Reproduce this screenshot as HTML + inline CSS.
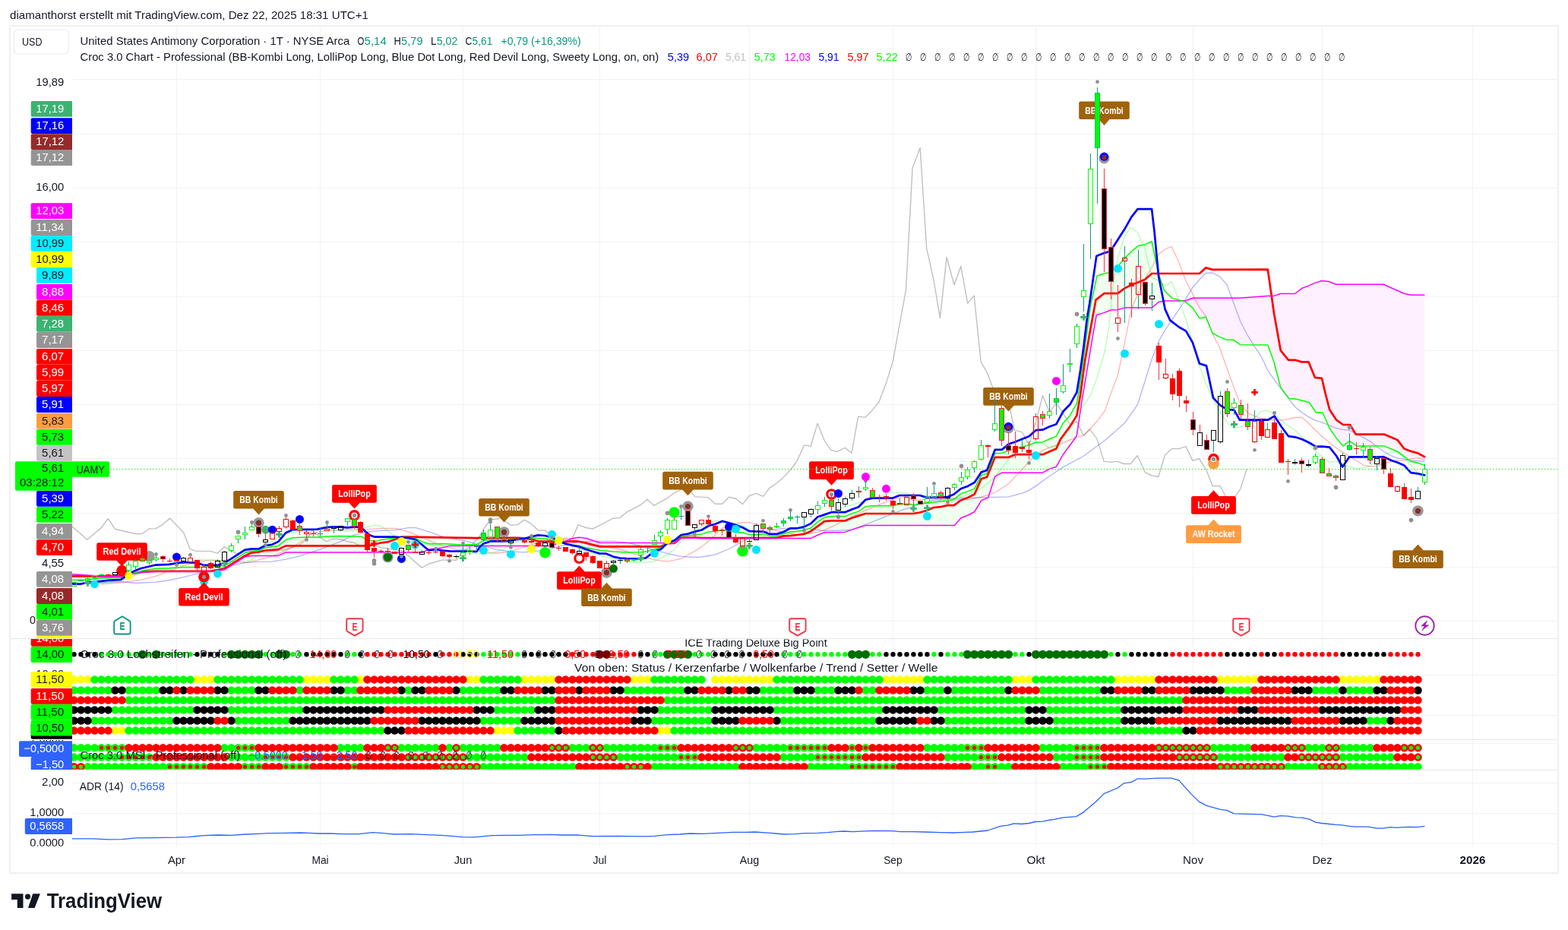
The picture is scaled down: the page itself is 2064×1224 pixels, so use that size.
<!DOCTYPE html>
<html lang="de"><head><meta charset="utf-8"><title>UAMY Chart</title>
<style>
html,body{margin:0;padding:0;background:#fff;}
body{width:2064px;height:1224px;overflow:hidden;font-family:'Liberation Sans', sans-serif;}
svg{display:block;font-family:'Liberation Sans', sans-serif;}
</style></head><body>
<svg width="2064" height="1224" viewBox="0 0 2064 1224">
<rect x="0" y="0" width="2064" height="1224" fill="#ffffff"/>
<rect x="13" y="34" width="2038" height="1115" fill="#ffffff" stroke="#f0f0f0" stroke-width="2"/>
<line x1="232.5" y1="35" x2="232.5" y2="1114" stroke="#f2f2f3" stroke-width="1"/>
<line x1="421.5" y1="35" x2="421.5" y2="1114" stroke="#f2f2f3" stroke-width="1"/>
<line x1="609.5" y1="35" x2="609.5" y2="1114" stroke="#f2f2f3" stroke-width="1"/>
<line x1="789.5" y1="35" x2="789.5" y2="1114" stroke="#f2f2f3" stroke-width="1"/>
<line x1="986.5" y1="35" x2="986.5" y2="1114" stroke="#f2f2f3" stroke-width="1"/>
<line x1="1175.5" y1="35" x2="1175.5" y2="1114" stroke="#f2f2f3" stroke-width="1"/>
<line x1="1363.5" y1="35" x2="1363.5" y2="1114" stroke="#f2f2f3" stroke-width="1"/>
<line x1="1570.5" y1="35" x2="1570.5" y2="1114" stroke="#f2f2f3" stroke-width="1"/>
<line x1="1740.5" y1="35" x2="1740.5" y2="1114" stroke="#f2f2f3" stroke-width="1"/>
<line x1="1938.5" y1="35" x2="1938.5" y2="1114" stroke="#f2f2f3" stroke-width="1"/>
<line x1="95" y1="104.5" x2="2050" y2="104.5" stroke="#f2f2f3" stroke-width="1"/>
<line x1="95" y1="176.5" x2="2050" y2="176.5" stroke="#f2f2f3" stroke-width="1"/>
<line x1="95" y1="247.5" x2="2050" y2="247.5" stroke="#f2f2f3" stroke-width="1"/>
<line x1="95" y1="318.5" x2="2050" y2="318.5" stroke="#f2f2f3" stroke-width="1"/>
<line x1="95" y1="390.5" x2="2050" y2="390.5" stroke="#f2f2f3" stroke-width="1"/>
<line x1="95" y1="461.5" x2="2050" y2="461.5" stroke="#f2f2f3" stroke-width="1"/>
<line x1="95" y1="532.5" x2="2050" y2="532.5" stroke="#f2f2f3" stroke-width="1"/>
<line x1="95" y1="603.5" x2="2050" y2="603.5" stroke="#f2f2f3" stroke-width="1"/>
<line x1="95" y1="675.5" x2="2050" y2="675.5" stroke="#f2f2f3" stroke-width="1"/>
<line x1="95" y1="746.5" x2="2050" y2="746.5" stroke="#f2f2f3" stroke-width="1"/>
<line x1="95" y1="817.5" x2="2050" y2="817.5" stroke="#f2f2f3" stroke-width="1"/>
<line x1="14" y1="840.5" x2="2050" y2="840.5" stroke="#e8e8e8" stroke-width="1"/>
<line x1="14" y1="973.5" x2="2050" y2="973.5" stroke="#e8e8e8" stroke-width="1"/>
<line x1="14" y1="1013.5" x2="2050" y2="1013.5" stroke="#e8e8e8" stroke-width="1"/>
<line x1="95" y1="888.5" x2="2050" y2="888.5" stroke="#f2f2f3" stroke-width="1"/>
<line x1="95" y1="941.5" x2="2050" y2="941.5" stroke="#f2f2f3" stroke-width="1"/>
<line x1="95" y1="978.5" x2="2050" y2="978.5" stroke="#f2f2f3" stroke-width="1"/>
<line x1="95" y1="1030.5" x2="2050" y2="1030.5" stroke="#f2f2f3" stroke-width="1"/>
<line x1="95" y1="1070.5" x2="2050" y2="1070.5" stroke="#f2f2f3" stroke-width="1"/>
<line x1="95" y1="1110.5" x2="2050" y2="1110.5" stroke="#f2f2f3" stroke-width="1"/>
<!--DATA-->
<clipPath id="cm"><rect x="95" y="35" width="1955" height="805"/></clipPath>
<g clip-path="url(#cm)">
<polygon points="95.2,763.5 115.5,762.9 133.1,760.9 160.6,760.3 168.6,756.7 168.6,756.7 160.6,758.3 133.1,758.3 115.5,757.0 95.2,755.7" fill="#fff0ff"/>
<polygon points="168.6,756.7 169.5,756.3 173.7,755.1 187.4,751.1 205.0,748.2 223.5,747.8 241.6,746.5 259.5,746.5 277.5,745.9 286.5,745.2 295.5,744.6 304.4,739.3 312.2,734.2 322.4,727.6 331.4,725.6 340.2,724.8 340.4,724.8 349.2,720.9 366.4,718.4 376.1,710.7 385.1,707.8 402.7,707.1 421.0,707.1 429.9,706.1 447.9,705.6 475.4,706.1 483.9,710.4 492.7,712.9 501.7,710.4 519.8,708.1 528.7,706.6 546.7,708.5 555.7,712.9 564.6,715.8 582.6,715.4 591.5,715.9 600.5,716.5 627.4,716.8 636.4,711.3 645.4,710.1 672.4,710.1 681.4,709.1 699.3,708.1 717.3,709.1 726.2,710.5 735.2,713.4 737.0,713.8 737.0,713.8 735.2,714.2 726.2,718.5 717.3,718.5 699.3,718.5 681.4,718.5 672.4,718.5 645.4,718.5 636.4,718.5 627.4,718.0 600.5,718.3 591.5,718.4 582.6,720.9 564.6,723.1 555.7,727.0 546.7,727.0 528.7,727.0 519.8,727.0 501.7,727.0 492.7,727.0 483.9,727.0 475.4,727.0 447.9,727.0 429.9,727.0 421.0,727.0 402.7,727.0 385.1,727.0 376.1,727.0 366.4,731.4 349.2,731.4 340.4,731.4 340.2,731.4 331.4,731.5 322.4,732.8 312.2,739.3 304.4,744.2 295.5,749.8 286.5,751.8 277.5,752.2 259.5,752.2 241.6,752.2 223.5,752.2 205.0,752.2 187.4,753.1 173.7,755.7 169.5,756.5 168.6,756.7" fill="#f0fff0"/>
<polygon points="737.0,713.8 744.2,715.6 753.1,717.0 762.1,718.5 771.1,720.7 780.1,722.6 789.0,724.3 807.0,726.1 824.9,727.0 842.9,726.8 852.0,725.8 860.8,722.9 869.8,721.4 876.5,715.0 876.5,715.0 869.8,714.6 860.8,714.6 852.0,714.5 842.9,714.5 824.9,714.4 807.0,714.3 789.0,714.2 780.1,711.3 771.1,708.3 762.1,707.3 753.1,708.8 744.2,712.3 737.0,713.8" fill="#fff0ff"/>
<polygon points="876.5,715.0 878.9,712.7 887.7,712.0 896.7,705.4 914.8,704.0 923.7,702.9 932.7,700.0 941.6,699.2 950.6,697.1 959.6,698.5 968.6,700.7 977.5,700.7 986.5,703.6 995.5,703.9 1004.5,702.9 1013.4,705.4 1022.4,705.4 1031.4,702.2 1040.4,700.0 1049.3,699.2 1058.3,698.1 1067.3,694.9 1076.4,686.9 1085.2,681.1 1094.3,679.6 1112.3,679.6 1121.2,676.0 1130.2,673.1 1139.2,666.8 1148.2,665.8 1175.1,665.8 1184.0,663.6 1193.0,663.3 1201.9,663.9 1210.9,663.6 1219.8,662.1 1237.8,660.0 1246.9,659.2 1255.7,657.1 1256.5,656.5 1264.7,649.8 1264.9,649.7 1273.8,646.9 1274.3,646.7 1282.8,643.2 1291.7,625.4 1299.1,623.3 1300.7,619.3 1309.7,596.7 1318.7,596.3 1327.6,593.1 1336.6,590.2 1345.6,588.3 1354.5,585.8 1363.5,582.2 1372.5,581.9 1381.5,577.8 1390.4,574.2 1390.5,574.1 1399.3,557.1 1399.4,557.0 1408.4,546.9 1414.2,536.6 1417.4,530.9 1422.2,501.8 1423.6,491.3 1428.0,458.2 1430.9,435.9 1433.1,418.9 1436.0,400.0 1438.2,389.9 1443.3,366.5 1444.0,363.3 1453.3,360.0 1459.3,359.0 1462.3,356.7 1471.2,349.8 1473.1,348.3 1480.2,340.3 1489.2,330.9 1498.2,323.6 1507.1,321.9 1516.1,317.8 1519.6,334.5 1525.1,360.7 1532.7,382.5 1542.9,392.4 1556.2,396.0 1556.2,396.0 1542.9,396.0 1532.7,396.0 1525.1,397.5 1519.6,402.1 1516.1,405.1 1507.1,405.1 1498.2,405.1 1489.2,405.1 1480.2,405.1 1473.1,407.2 1471.2,407.7 1462.3,408.0 1459.3,409.2 1453.3,411.6 1444.0,414.3 1443.3,414.5 1438.2,443.6 1436.0,456.8 1433.1,474.1 1430.9,487.3 1428.0,504.6 1423.6,530.9 1422.2,540.4 1417.4,573.1 1414.2,578.0 1408.4,585.9 1399.4,598.2 1399.3,598.4 1390.5,614.1 1390.4,614.2 1381.5,617.1 1372.5,622.2 1363.5,622.2 1354.5,622.2 1345.6,622.2 1336.6,622.2 1327.6,622.2 1318.7,622.2 1309.7,627.2 1300.7,654.9 1299.1,655.6 1291.7,658.8 1282.8,673.5 1274.3,678.0 1273.8,678.2 1264.9,681.8 1264.7,682.0 1256.5,691.5 1255.7,691.5 1246.9,691.5 1237.8,691.5 1219.8,691.5 1210.9,691.5 1201.9,691.5 1193.0,691.5 1184.0,691.5 1175.1,691.5 1148.2,691.5 1139.2,691.5 1130.2,694.3 1121.2,697.1 1112.3,700.4 1094.3,700.6 1085.2,700.7 1076.4,704.3 1067.3,708.4 1058.3,708.4 1049.3,708.4 1040.4,708.4 1031.4,708.4 1022.4,708.4 1013.4,708.4 1004.5,708.4 995.5,708.4 986.5,708.4 977.5,708.4 968.6,708.4 959.6,708.4 950.6,708.4 941.6,708.4 932.7,708.4 923.7,708.4 914.8,708.3 896.7,708.3 887.7,714.9 878.9,715.2 876.5,715.0" fill="#f0fff0"/>
<polygon points="1556.2,396.0 1560.3,397.1 1569.9,405.1 1578.9,418.9 1587.2,417.2 1596.0,438.5 1605.8,443.6 1614.9,447.3 1623.9,447.3 1632.3,453.4 1632.9,453.8 1668.8,453.9 1669.1,454.8 1677.1,476.7 1685.8,510.1 1696.7,524.4 1704.7,525.1 1705.1,525.1 1713.9,527.2 1714.2,527.3 1722.6,529.4 1723.2,529.5 1730.9,540.9 1732.0,542.5 1739.9,543.2 1741.1,543.3 1749.1,561.3 1750.1,563.6 1758.5,575.8 1759.1,576.7 1768.0,586.9 1776.4,580.4 1786.0,586.9 1821.1,586.9 1821.8,586.9 1830.5,590.5 1830.6,590.5 1839.2,594.1 1839.5,594.2 1848.0,600.5 1848.3,600.7 1857.0,607.2 1857.1,607.3 1866.2,609.2 1874.9,612.3 1874.9,388.3 1866.2,388.3 1857.1,388.3 1857.0,388.3 1848.3,386.3 1848.0,386.2 1839.5,382.4 1839.2,382.2 1830.6,378.5 1830.5,378.5 1821.8,374.5 1821.1,374.2 1786.0,374.2 1776.4,374.2 1768.0,374.2 1759.1,374.2 1758.5,374.2 1750.1,370.9 1749.1,370.5 1741.1,369.6 1739.9,369.5 1732.0,372.0 1730.9,372.4 1723.2,375.8 1722.6,376.1 1714.2,379.2 1713.9,379.3 1705.1,386.2 1704.7,386.5 1696.7,386.5 1685.8,386.5 1677.1,389.4 1669.1,389.4 1668.8,389.4 1632.9,392.3 1632.3,392.3 1623.9,392.3 1614.9,392.3 1605.8,392.3 1596.0,392.3 1587.2,392.3 1578.9,392.3 1569.9,392.3 1560.3,396.0 1556.2,396.0" fill="#fff0ff"/>
<polyline points="95.2,692.9 114.8,710.3 133.1,694.9 142.3,682.5 151.2,696.2 178.9,702.7 187.4,702.5 196.5,695.9 205.0,695.6 214.2,690.3 223.5,682.1 241.6,700.8 250.1,722.6 258.6,725.4 276.9,725.4 286.1,728.2 295.2,719.7 312.2,728.9 322.7,725.0 331.8,723.7 348.9,727.4 376.5,723.1 394.0,717.3 403.4,710.0 411.4,697.2 421.0,707.1 429.9,712.6 438.9,709.3 447.9,709.7 457.0,712.5 465.8,714.3 474.8,718.4 483.9,715.8 492.7,717.3 501.7,720.9 528.7,724.5 537.7,731.8 555.1,747.1 564.6,742.0 582.6,736.9 600.5,737.2 609.5,726.0 618.5,719.4 630.0,707.8 636.4,696.7 645.4,683.6 654.3,683.3 658.5,681.4 663.3,685.1 672.4,691.2 681.4,690.6 690.2,684.1 699.3,689.4 708.3,697.7 717.3,698.2 726.2,704.0 735.2,711.3 744.2,708.1 753.1,709.1 761.1,690.6 771.1,694.5 780.1,696.0 789.0,691.6 807.0,682.2 816.0,681.4 824.9,674.2 842.9,664.7 852.0,657.2 860.8,665.4 878.9,655.3 887.7,648.7 896.7,644.4 905.8,642.9 914.8,653.6 932.7,654.9 941.6,663.3 950.6,663.3 959.6,654.2 968.6,656.3 977.5,663.6 986.5,652.3 995.5,649.4 1004.5,653.4 1013.4,641.8 1022.4,636.0 1031.4,628.0 1040.4,618.5 1049.0,607.0 1058.6,585.9 1067.3,587.3 1076.1,557.1 1085.1,579.6 1093.8,592.4 1102.2,594.4 1112.3,589.4 1121.0,596.3 1129.7,548.1 1138.6,549.4 1147.6,540.6 1157.1,528.7 1166.2,504.7 1175.2,476.4 1181.8,440.0 1192.6,381.1 1201.1,221.2 1211.2,194.5 1219.7,326.6 1228.9,367.7 1237.4,418.6 1246.1,338.7 1256.1,375.0 1264.8,350.3 1273.7,399.2 1282.2,389.1 1291.1,475.8 1299.9,491.6 1306.6,509.8 1330.1,540.3 1335.2,565.8 1345.6,568.8 1354.5,585.8 1363.5,555.3 1372.5,520.8 1381.5,542.2 1390.4,530.5 1399.3,544.0 1409.1,560.0 1417.1,554.6 1426.2,573.1 1434.7,565.1 1443.6,576.9 1453.3,607.4 1462.1,608.1 1470.8,607.4 1479.6,610.5 1488.3,610.5 1497.3,599.5 1507.3,621.7 1516.0,626.0 1524.8,627.5 1533.5,598.8 1542.8,590.4 1552.0,590.6 1560.8,587.6 1570.0,606.4 1578.3,603.5 1587.5,617.8 1596.2,639.5 1606.0,639.5 1614.2,654.9 1626.2,653.1 1632.7,643.6 1641.0,617.7" fill="none" stroke="#c0c0c0" stroke-width="1.4" stroke-linejoin="round" stroke-linecap="round"/>
<polyline points="95.2,769.4 160.6,765.5 178.9,767.5 205.0,766.1 223.5,763.5 241.6,759.6 259.5,755.0 277.5,751.1 295.5,746.5 322.4,740.7 340.4,739.4 358.1,739.1 376.1,736.2 394.0,731.8 421.0,723.1 447.9,712.9 465.8,704.2 483.9,699.8 501.7,698.3 519.8,697.6 537.7,694.7 546.7,694.4 564.6,699.8 582.6,706.3 609.5,711.4 627.4,715.8 636.4,718.5 654.3,723.6 672.4,725.8 690.2,726.8 708.3,725.1 726.2,722.2 744.2,717.1 762.1,713.4 780.1,712.3 807.0,712.3 824.9,714.2 842.9,718.5 860.8,723.6 878.9,728.7 896.7,732.3 914.8,733.5 923.7,733.0 941.6,729.8 959.6,722.5 977.5,712.3 995.5,703.6 1013.4,697.8 1031.4,695.3 1049.3,694.9 1067.3,696.3 1085.2,698.5 1103.3,698.5 1121.2,697.1 1139.2,690.5 1157.1,683.3 1175.1,676.0 1193.0,669.4 1201.9,667.2 1210.9,662.9 1228.8,658.5 1255.7,655.6 1273.8,655.3 1291.7,654.9 1327.6,653.9 1345.6,649.1 1354.5,645.4 1363.5,639.6 1381.5,626.5 1399.4,614.9 1426.3,600.3 1456.3,578.0 1480.2,557.1 1497.5,532.3 1507.1,501.8 1516.1,472.7 1525.1,449.4 1534.2,433.4 1543.0,420.4 1556.7,400.0 1560.3,394.2 1569.9,378.2 1578.9,368.0 1587.2,359.5 1596.0,359.2 1605.4,363.9 1614.9,374.5 1624.3,400.0 1632.9,423.3 1641.8,440.7 1650.8,455.3 1659.8,468.3 1668.7,487.3 1680.0,503.3 1705.1,536.0 1714.2,543.3 1723.2,549.1 1732.0,553.4 1741.1,556.4 1750.1,560.0 1759.1,563.6 1768.0,565.4 1777.0,566.5 1786.0,571.6 1795.0,576.0 1803.9,581.1 1812.9,588.3 1821.8,594.2 1830.6,599.6 1839.5,602.9 1848.3,604.4 1857.1,606.2 1866.2,606.8 1875.2,606.8" fill="none" stroke="#0000ff" stroke-width="1.3" stroke-linejoin="round" stroke-linecap="round" stroke-opacity="0.3"/>
<polyline points="133.1,768.8 160.6,766.8 187.4,762.9 205.0,758.3 223.5,751.1 241.6,744.6 259.5,739.3 277.5,737.4 295.5,737.4 322.4,740.7 340.4,736.8 349.2,734.7 366.4,728.9 385.1,720.2 403.0,708.5 412.0,701.3 429.9,698.3 457.0,696.9 483.9,696.9 501.7,695.4 519.8,695.4 537.7,699.8 564.6,711.4 582.6,718.7 600.5,723.1 627.4,724.5 636.4,727.3 654.3,728.0 672.4,725.8 690.2,720.0 708.3,714.2 726.2,711.3 744.2,709.8 762.1,712.3 780.1,715.6 798.0,720.0 816.0,722.9 833.9,728.7 852.0,734.5 869.8,738.2 878.9,738.9 896.7,735.3 905.8,730.2 914.8,725.1 923.7,719.6 932.7,712.3 941.6,703.6 950.6,694.9 959.6,692.0 968.6,689.1 977.5,687.6 986.5,687.6 995.5,689.8 1004.5,693.4 1013.4,696.3 1031.4,700.7 1049.3,703.6 1067.3,702.2 1085.2,697.8 1103.3,689.1 1121.2,680.3 1139.2,671.6 1157.1,664.3 1175.1,657.1 1193.0,653.4 1201.9,658.5 1219.8,657.1 1238.0,656.3 1255.7,657.8 1273.8,657.5 1291.7,654.2 1309.7,648.3 1327.6,636.7 1345.6,617.8 1354.5,607.6 1363.5,598.9 1372.5,593.1 1381.5,588.7 1390.4,586.5 1414.2,576.7 1426.5,573.1 1435.3,564.3 1445.4,552.7 1454.2,541.1 1462.9,516.3 1471.2,494.5 1480.2,452.4 1487.6,414.5 1492.0,400.0 1498.2,385.4 1507.1,366.5 1516.1,352.0 1525.1,334.5 1533.9,328.0 1542.1,324.3 1550.9,343.3 1560.3,368.0 1569.9,386.9 1578.5,404.3 1587.2,416.0 1596.0,439.3 1605.8,458.2 1614.9,484.3 1623.9,509.1 1633.3,533.1 1642.3,543.3 1651.3,547.6 1660.2,550.5 1669.2,552.0 1687.2,553.2 1696.1,551.3 1705.1,549.5 1714.2,549.5 1723.2,557.8 1732.0,566.5 1741.1,575.3 1750.1,582.5 1759.1,589.8 1768.0,595.6 1777.0,601.4 1786.0,606.5 1795.0,612.3 1803.9,613.8 1812.9,613.1 1821.8,610.2 1830.6,607.6 1839.5,606.1 1848.3,606.2 1857.1,604.1 1866.2,602.6 1875.2,604.4" fill="none" stroke="#ff0000" stroke-width="1.3" stroke-linejoin="round" stroke-linecap="round" stroke-opacity="0.3"/>
<polyline points="129.2,767.5 160.6,764.2 187.4,753.7 205.0,749.8 223.5,748.5 259.5,736.7 286.5,737.4 304.4,739.3 322.4,739.3 331.4,736.7 340.4,729.6 349.2,717.3 366.4,708.5 376.1,702.0 394.0,699.8 412.0,697.6 429.9,696.2 447.9,699.1 465.8,699.1 483.9,693.3 492.7,691.1 501.7,692.5 510.8,699.1 519.8,705.6 528.7,710.0 546.7,712.9 564.6,717.3 600.5,718.7 627.4,728.9 636.4,729.4 654.3,725.8 663.3,722.9 672.4,715.6 681.4,712.3 690.2,710.5 708.3,708.3 726.2,708.3 735.2,712.7 753.1,717.1 771.1,725.8 789.0,730.9 807.0,735.3 824.9,738.9 842.9,740.8 860.8,738.9 878.9,730.2 887.7,722.9 896.7,712.7 905.8,704.0 914.8,698.2 923.7,693.4 932.7,687.6 941.6,685.4 950.6,685.9 959.6,686.9 968.6,689.1 977.5,692.0 986.5,697.8 995.5,703.6 1013.4,708.0 1022.4,706.5 1040.4,702.2 1049.3,699.2 1058.3,694.9 1067.3,689.1 1085.2,678.9 1103.3,670.2 1121.2,664.3 1139.2,659.3 1157.1,654.2 1166.1,649.8 1175.1,648.3 1184.0,648.3 1193.0,649.5 1201.9,652.0 1219.8,652.7 1237.8,658.5 1255.7,657.8 1273.8,651.2 1291.7,642.5 1309.7,628.0 1327.6,604.7 1336.6,593.1 1345.6,584.3 1354.5,580.4 1363.5,581.9 1372.5,582.9 1381.5,590.2 1390.4,585.8 1408.4,560.0 1422.2,539.6 1435.3,520.7 1445.4,493.1 1454.2,462.5 1460.0,429.1 1462.9,400.0 1465.8,370.9 1471.2,340.3 1480.2,311.3 1488.3,298.9 1497.5,306.2 1507.1,327.3 1516.1,365.1 1525.1,369.4 1533.9,376.4 1542.1,370.6 1550.9,392.7 1560.7,419.2 1569.9,450.9 1578.9,481.4 1588.0,506.2 1597.0,526.5 1606.1,542.2 1615.4,556.4 1623.6,564.1 1633.3,562.2 1642.3,557.8 1651.3,550.5 1660.2,541.1 1669.2,540.4 1677.5,544.7 1687.2,554.2 1696.1,560.7 1705.1,566.5 1714.2,576.0 1723.2,585.4 1732.0,594.2 1741.1,601.4 1750.1,608.7 1759.1,607.3 1768.0,612.3 1777.0,614.5 1786.0,617.1 1795.0,615.3 1803.9,613.1 1812.9,604.3 1821.8,598.5 1830.6,594.9 1839.5,595.6 1848.3,602.2 1857.1,612.4 1866.2,622.5 1875.2,632.0" fill="none" stroke="#00ff00" stroke-width="1.3" stroke-linejoin="round" stroke-linecap="round" stroke-opacity="0.3"/>
<polyline points="95.2,758.3 133.1,758.3 160.6,758.3 173.7,755.0 187.4,752.7 205.0,751.8 277.5,751.8 295.5,748.5 312.2,738.0 322.4,731.5 331.4,727.6 340.4,726.4 349.2,724.5 366.4,723.1 376.1,718.4 474.8,718.4 483.9,718.4 492.7,716.8 501.7,714.3 510.8,713.2 519.8,710.0 528.7,706.6 537.7,706.6 564.6,707.1 627.4,708.1 634.5,707.9 681.4,707.9 690.2,708.3 699.3,709.8 708.3,712.3 735.2,712.7 744.2,713.1 753.1,712.3 762.1,712.7 771.1,714.6 780.1,717.1 789.0,719.3 869.8,719.3 878.9,715.2 887.7,714.9 896.7,707.6 914.8,707.6 923.7,708.0 1022.4,708.0 1031.4,705.4 1040.4,705.1 1049.3,704.0 1058.3,702.9 1067.3,699.2 1076.4,692.7 1085.2,686.2 1094.3,685.4 1112.3,685.4 1121.2,681.8 1130.2,678.9 1139.2,676.0 1193.0,676.0 1201.9,676.0 1210.9,674.5 1219.8,672.0 1228.8,668.0 1237.8,667.2 1246.9,665.1 1255.7,665.1 1264.7,658.5 1273.8,654.9 1282.8,650.5 1291.7,630.2 1299.1,628.0 1309.7,601.8 1327.6,601.8 1336.6,598.2 1354.5,598.2 1363.5,597.9 1372.5,598.2 1390.4,590.5 1396.0,578.0 1408.4,561.4 1417.4,546.9 1422.2,519.2 1428.0,475.6 1435.3,433.4 1442.5,394.6 1453.3,386.2 1471.2,386.2 1480.2,379.6 1489.2,375.0 1498.2,371.6 1507.1,368.0 1516.1,360.0 1578.9,360.0 1587.2,352.4 1596.0,354.9 1668.8,354.7 1677.1,412.7 1685.8,461.4 1696.0,473.8 1704.7,473.8 1713.4,476.4 1722.6,476.4 1730.9,496.8 1739.9,497.8 1744.7,518.0 1750.1,538.9 1759.1,552.7 1768.0,559.0 1777.0,559.0 1784.7,571.6 1821.8,571.6 1830.6,575.3 1839.5,578.9 1848.3,590.5 1857.1,593.9 1866.2,596.4 1875.2,601.2" fill="none" stroke="#ff0000" stroke-width="2.7" stroke-linejoin="round" stroke-linecap="round"/>
<polyline points="95.2,755.7 115.5,757.0 133.1,758.3 160.6,758.3 173.7,755.7 187.4,753.1 205.0,752.2 277.5,752.2 286.5,751.8 295.5,749.8 312.2,739.3 322.4,732.8 331.4,731.5 340.2,731.4 366.4,731.4 376.1,727.0 555.7,727.0 564.6,723.1 582.6,720.9 591.5,718.4 627.4,718.0 636.4,718.5 726.2,718.5 735.2,714.2 744.2,712.3 753.1,708.8 762.1,707.3 771.1,708.3 780.1,711.3 789.0,714.2 869.8,714.6 878.9,715.2 887.7,714.9 896.7,708.3 914.8,708.3 923.7,708.4 1067.3,708.4 1076.4,704.3 1085.2,700.7 1112.3,700.4 1121.2,697.1 1139.2,691.5 1193.0,691.5 1256.5,691.5 1264.9,681.8 1274.3,678.0 1282.8,673.5 1291.7,658.8 1300.7,654.9 1309.7,627.2 1318.7,622.2 1372.5,622.2 1381.5,617.1 1390.4,614.2 1399.4,598.2 1414.2,578.0 1417.4,573.1 1423.6,530.9 1430.9,487.3 1438.2,443.6 1443.3,414.5 1453.3,411.6 1462.3,408.0 1471.2,407.7 1480.2,405.1 1516.1,405.1 1525.1,397.5 1532.7,396.0 1560.3,396.0 1569.9,392.3 1632.3,392.3 1669.1,389.4 1677.1,389.4 1685.8,386.5 1704.7,386.5 1713.9,379.3 1722.6,376.1 1730.9,372.4 1739.9,369.5 1749.1,370.5 1758.5,374.2 1821.1,374.2 1830.5,378.5 1839.2,382.2 1848.0,386.2 1857.0,388.3 1874.9,388.3" fill="none" stroke="#ff00ff" stroke-width="1.5" stroke-linejoin="round" stroke-linecap="round"/>
<polyline points="95.2,763.5 115.5,762.9 133.1,760.9 160.6,760.3 169.5,756.3 187.4,751.1 205.0,748.2 223.5,747.8 241.6,746.5 259.5,746.5 277.5,745.9 295.5,744.6 304.4,739.3 322.4,727.6 331.4,725.6 340.4,724.8 349.2,720.9 366.4,718.4 376.1,710.7 385.1,707.8 402.7,707.1 421.0,707.1 429.9,706.1 447.9,705.6 475.4,706.1 483.9,710.4 492.7,712.9 501.7,710.4 519.8,708.1 528.7,706.6 546.7,708.5 555.7,712.9 564.6,715.8 582.6,715.4 600.5,716.5 627.4,716.8 636.4,711.3 645.4,710.1 672.4,710.1 681.4,709.1 699.3,708.1 717.3,709.1 726.2,710.5 735.2,713.4 744.2,715.6 762.1,718.5 771.1,720.7 780.1,722.6 789.0,724.3 807.0,726.1 824.9,727.0 842.9,726.8 852.0,725.8 860.8,722.9 869.8,721.4 878.9,712.7 887.7,712.0 896.7,705.4 914.8,704.0 923.7,702.9 932.7,700.0 941.6,699.2 950.6,697.1 959.6,698.5 968.6,700.7 977.5,700.7 986.5,703.6 995.5,703.9 1004.5,702.9 1013.4,705.4 1022.4,705.4 1031.4,702.2 1040.4,700.0 1049.3,699.2 1058.3,698.1 1067.3,694.9 1076.4,686.9 1085.2,681.1 1094.3,679.6 1112.3,679.6 1121.2,676.0 1130.2,673.1 1139.2,666.8 1148.2,665.8 1175.1,665.8 1184.0,663.6 1193.0,663.3 1201.9,663.9 1210.9,663.6 1219.8,662.1 1237.8,660.0 1246.9,659.2 1255.7,657.1 1264.7,649.8 1273.8,646.9 1282.8,643.2 1291.7,625.4 1299.1,623.3 1309.7,596.7 1318.7,596.3 1327.6,593.1 1336.6,590.2 1345.6,588.3 1354.5,585.8 1363.5,582.2 1372.5,581.9 1381.5,577.8 1390.5,574.1 1399.3,557.1 1408.4,546.9 1417.4,530.9 1422.2,501.8 1428.0,458.2 1433.1,418.9 1436.0,400.0 1444.0,363.3 1453.3,360.0 1459.3,359.0 1473.1,348.3 1480.2,340.3 1489.2,330.9 1498.2,323.6 1507.1,321.9 1516.1,317.8 1519.6,334.5 1525.1,360.7 1532.7,382.5 1542.9,392.4 1560.3,397.1 1569.9,405.1 1578.9,418.9 1587.2,417.2 1596.0,438.5 1605.8,443.6 1614.9,447.3 1623.9,447.3 1632.9,453.8 1668.8,453.9 1677.1,476.7 1685.8,510.1 1696.7,524.4 1705.1,525.1 1714.2,527.3 1723.2,529.5 1732.0,542.5 1741.1,543.3 1750.1,563.6 1759.1,576.7 1768.0,586.9 1776.4,580.4 1786.0,586.9 1821.8,586.9 1830.6,590.5 1839.5,594.2 1848.3,600.7 1857.1,607.3 1866.2,609.2 1875.2,612.4" fill="none" stroke="#00ff00" stroke-width="1.5" stroke-linejoin="round" stroke-linecap="round"/>
<polyline points="95.0,768.4 105.9,768.6 111.7,767.2 129.2,765.4 142.3,763.9 159.0,762.9 164.0,759.6 175.0,752.3 185.8,748.0 204.0,743.7 222.2,742.9 236.7,740.7 244.9,740.0 250.5,740.4 259.5,740.7 268.6,743.9 286.5,743.9 295.5,740.7 304.4,735.4 322.4,723.7 331.4,722.4 340.4,722.5 349.2,718.0 358.1,716.8 366.4,712.9 376.1,701.3 385.1,697.2 394.0,696.9 417.3,696.6 429.9,694.0 438.9,693.3 447.9,693.6 457.0,694.4 465.8,693.6 474.8,693.6 481.2,699.8 487.1,704.6 492.7,706.6 519.8,706.6 537.7,708.1 546.7,710.0 554.0,715.8 564.6,724.5 573.6,723.1 582.6,724.5 591.5,725.3 609.5,725.5 627.4,726.0 631.6,720.0 636.4,715.6 645.4,712.4 663.3,712.3 672.4,712.0 681.4,709.5 690.2,709.1 699.3,706.2 708.3,704.4 717.3,705.0 726.2,707.2 735.2,712.3 744.2,715.6 753.1,717.8 762.1,719.3 771.1,722.9 780.1,725.8 789.0,728.4 798.0,728.7 807.0,732.6 816.0,734.5 824.9,735.0 842.9,735.3 849.8,734.5 855.6,730.2 860.8,725.8 869.8,722.9 878.9,714.2 887.7,711.3 896.7,704.0 905.8,702.5 914.8,699.6 923.7,697.5 932.7,692.0 941.6,689.8 950.6,685.9 959.6,688.3 968.6,691.0 977.5,694.2 986.5,699.2 995.5,699.5 1004.5,699.5 1013.4,702.9 1022.4,702.9 1031.4,700.0 1040.4,695.3 1049.3,695.3 1058.3,693.4 1067.3,689.1 1076.4,680.3 1085.2,677.4 1094.3,674.2 1103.3,674.2 1112.3,674.2 1121.2,670.5 1130.2,667.3 1139.2,657.8 1148.2,655.6 1175.1,655.6 1184.0,652.0 1193.0,652.0 1201.9,652.0 1210.9,652.0 1219.8,654.9 1246.9,654.2 1255.7,650.5 1264.7,643.2 1273.8,639.9 1282.8,635.0 1291.7,621.4 1299.1,619.0 1309.7,591.9 1318.7,591.9 1327.6,584.6 1336.6,581.4 1345.6,577.8 1354.5,574.2 1363.5,566.2 1372.5,565.7 1381.5,561.4 1390.5,558.2 1399.3,541.8 1408.4,532.3 1417.4,516.3 1422.2,487.3 1426.2,458.2 1430.9,418.9 1434.1,400.0 1443.3,337.1 1453.3,333.1 1459.3,331.3 1465.8,324.3 1480.2,301.8 1489.2,285.8 1497.5,275.2 1516.1,275.2 1519.6,305.4 1525.1,363.6 1533.5,406.6 1540.3,421.7 1552.0,430.5 1561.1,435.6 1569.9,450.9 1578.9,478.5 1588.0,481.4 1597.0,523.6 1606.1,533.4 1615.4,538.9 1624.4,539.6 1632.0,552.7 1669.2,552.7 1677.5,547.6 1687.2,562.2 1696.1,574.2 1705.1,575.3 1714.2,578.2 1723.2,582.5 1732.0,587.9 1741.1,587.6 1750.1,588.6 1759.1,600.0 1767.2,614.5 1776.0,601.4 1821.8,601.4 1830.9,605.8 1839.8,608.7 1848.3,612.4 1857.1,622.2 1866.2,623.3 1875.2,625.4" fill="none" stroke="#0000ff" stroke-width="2.7" stroke-linejoin="round" stroke-linecap="round"/>
<path d="M111.2 767.5H119.8M115.5 763.2V771.8" stroke="#3cb371" stroke-width="2.8" fill="none"/>
<circle cx="124.5" cy="768.8" r="5.3" fill="#00e5ff"/>
<circle cx="160.5" cy="751.1" r="7.3" fill="#ff0000"/>
<circle cx="169.5" cy="757.6" r="5.3" fill="#ffff00"/>
<circle cx="196.5" cy="732.2" r="7.2" fill="#999999"/>
<circle cx="232.5" cy="733.1" r="5.5" fill="#0000ff"/>
<circle cx="268.5" cy="766.1" r="5.3" fill="#00e5ff"/>
<circle cx="268.5" cy="759.2" r="7.3" fill="#ff0000"/><circle cx="268.5" cy="759.2" r="2.6" fill="#909090"/>
<circle cx="286.5" cy="755.3" r="5.3" fill="#00e5ff"/>
<path d="M291.2 741.7H299.8M295.5 737.4V746.0" stroke="#3cb371" stroke-width="2.8" fill="none"/>
<circle cx="340.5" cy="688.2" r="7.2" fill="#999999"/><circle cx="340.5" cy="688.2" r="3.6" fill="#8b2b2b"/>
<circle cx="349.5" cy="697.2" r="5.5" fill="#3cb371"/>
<circle cx="358.5" cy="697.2" r="5.5" fill="#0000ff"/>
<path d="M363.2 703.4H371.8M367.5 699.1V707.7" stroke="#3cb371" stroke-width="2.8" fill="none"/>
<circle cx="394.5" cy="683.4" r="5.5" fill="#0000ff"/>
<circle cx="466.5" cy="678.4" r="7.3" fill="#ff0000"/><circle cx="466.5" cy="678.4" r="4" fill="#ffffff"/><circle cx="466.5" cy="678.4" r="2.6" fill="#909090"/>
<path d="M488.2 715.4H496.8M492.5 711.1V719.7" stroke="#ff0000" stroke-width="2.8" fill="none"/>
<circle cx="510.5" cy="733.3" r="7.2" fill="#999999"/><circle cx="510.5" cy="733.3" r="5.6" fill="#007000"/>
<circle cx="519.5" cy="718.3" r="5.5" fill="#00e5ff"/>
<circle cx="528.5" cy="712.5" r="5.5" fill="#ffff00"/>
<circle cx="528.5" cy="735.4" r="5.5" fill="#0000ff"/>
<circle cx="546.5" cy="716.8" r="5.5" fill="#00e5ff"/>
<path d="M542.2 716.8H550.8M546.5 712.5V721.1" stroke="#ff0000" stroke-width="2.8" fill="none"/>
<path d="M605.2 734.7H613.8M609.5 730.4V739.0" stroke="#3cb371" stroke-width="2.8" fill="none"/>
<circle cx="663.5" cy="700.4" r="7.2" fill="#999999"/><circle cx="663.5" cy="700.4" r="3.6" fill="#8b2b2b"/>
<circle cx="672.5" cy="729.4" r="5.5" fill="#00e5ff"/>
<circle cx="699.5" cy="722.5" r="5.5" fill="#ffff00"/>
<circle cx="717.5" cy="727.3" r="7.3" fill="#00ff00"/>
<circle cx="726.5" cy="703.3" r="5.5" fill="#00e5ff"/>
<circle cx="735.5" cy="711.3" r="5.5" fill="#ffff00"/>
<circle cx="762.5" cy="734.8" r="5.7" fill="#ffffff" stroke="#ff0000" stroke-width="3.2"/>
<circle cx="798.5" cy="753.7" r="7.2" fill="#999999"/><circle cx="798.5" cy="753.7" r="3.6" fill="#8b2b2b"/>
<circle cx="807.5" cy="748.3" r="5.5" fill="#007000"/>
<path d="M839.2 734.8H847.8M843.5 730.5V739.1" stroke="#3cb371" stroke-width="2.8" fill="none"/>
<circle cx="861.5" cy="728.3" r="5.5" fill="#00e5ff"/>
<circle cx="878.5" cy="710.5" r="5.5" fill="#ffff00"/>
<circle cx="887.5" cy="674.5" r="7.2" fill="#00ff00"/>
<circle cx="905.5" cy="666.5" r="7.2" fill="#999999"/><circle cx="905.5" cy="666.5" r="3.6" fill="#8b2b2b"/>
<circle cx="636.5" cy="724.3" r="5.5" fill="#00e5ff"/>
<circle cx="959.5" cy="693.4" r="5.5" fill="#0000ff"/>
<circle cx="968.5" cy="696.3" r="5.5" fill="#00e5ff"/>
<circle cx="977.5" cy="725.4" r="7.3" fill="#00ff00"/>
<path d="M982.2 718.4H990.8M986.5 714.1V722.7" stroke="#3cb371" stroke-width="2.8" fill="none"/>
<circle cx="995.5" cy="723.5" r="5.5" fill="#00e5ff"/>
<circle cx="1094.5" cy="650.5" r="7.3" fill="#ff0000"/><circle cx="1094.5" cy="650.5" r="4" fill="#ffffff"/><circle cx="1094.5" cy="650.5" r="2.6" fill="#909090"/>
<circle cx="1103.5" cy="649.5" r="5.5" fill="#0000ff"/>
<path d="M1198.2 669.4H1206.8M1202.5 665.1V673.7" stroke="#3cb371" stroke-width="2.8" fill="none"/>
<path d="M1216.2 668.7H1224.8M1220.5 664.4V673.0" stroke="#3cb371" stroke-width="2.8" fill="none"/>
<circle cx="1220.5" cy="679.3" r="5.5" fill="#00e5ff"/>
<circle cx="1327.5" cy="563.6" r="7" fill="#999999"/><circle cx="1327.5" cy="561.4" r="5.6" fill="#0000ff"/><circle cx="1327.5" cy="562.5" r="3.2" fill="#8b2b2b"/>
<circle cx="1363.5" cy="599.6" r="5.5" fill="#00e5ff"/>
<path d="M1422.2 417.5H1430.8M1426.5 413.2V421.8" stroke="#3cb371" stroke-width="2.8" fill="none"/>
<circle cx="1480.5" cy="465.4" r="5.5" fill="#00e5ff"/>
<circle cx="1525.5" cy="426.5" r="5.5" fill="#00e5ff"/>
<path d="M1620.2 558.5H1628.8M1624.5 554.2V562.8" stroke="#3cb371" stroke-width="2.8" fill="none"/>
<path d="M1647.2 516.3H1655.8M1651.5 512.0V520.6" stroke="#ff0000" stroke-width="2.8" fill="none"/>
<circle cx="1471.5" cy="353.4" r="5.5" fill="#00e5ff"/>
<circle cx="1453.5" cy="208.4" r="7" fill="#999999"/><circle cx="1453.5" cy="206.2" r="5.6" fill="#0000ff"/><circle cx="1453.5" cy="207.3" r="3.2" fill="#8b2b2b"/>
<circle cx="1597.5" cy="604.1" r="7.3" fill="#ff0000"/><circle cx="1597.5" cy="610.3" r="7.3" fill="#ff9c40"/><circle cx="1597.5" cy="604.3" r="3.7" fill="#ffffff"/><circle cx="1597.5" cy="604.3" r="2.6" fill="#909090"/>
<path d="M1620.2 558.5H1628.8M1624.5 554.2V562.8" stroke="#3cb371" stroke-width="2.8" fill="none"/>
<circle cx="1866.5" cy="672.4" r="7.2" fill="#999999"/><circle cx="1866.5" cy="672.4" r="3.6" fill="#8b2b2b"/>
<circle cx="205.5" cy="729.3" r="2.4" fill="#909090"/>
<circle cx="232.5" cy="743.5" r="2.4" fill="#909090"/>
<circle cx="250.5" cy="730.2" r="2.4" fill="#909090"/>
<circle cx="313.5" cy="700.4" r="2.8" fill="#909090"/>
<circle cx="331.5" cy="687.3" r="2.4" fill="#909090"/>
<circle cx="331.5" cy="687.4" r="2.4" fill="#909090"/>
<circle cx="349.5" cy="716.8" r="2.4" fill="#909090"/>
<circle cx="376.5" cy="678.4" r="2.4" fill="#909090"/>
<circle cx="403.5" cy="710.4" r="2.4" fill="#909090"/>
<circle cx="430.5" cy="687.4" r="2.4" fill="#909090"/>
<circle cx="492.5" cy="737.9" r="2.8" fill="#909090"/>
<circle cx="492.5" cy="741.7" r="2.8" fill="#909090"/>
<circle cx="528.5" cy="732.5" r="2.4" fill="#909090"/>
<circle cx="537.5" cy="713.3" r="2.4" fill="#909090"/>
<circle cx="573.5" cy="722.1" r="2.4" fill="#909090"/>
<circle cx="591.5" cy="738.3" r="2.4" fill="#909090"/>
<circle cx="609.5" cy="715.1" r="2.4" fill="#909090"/>
<circle cx="645.5" cy="684.1" r="2.8" fill="#909090"/>
<circle cx="645.5" cy="687.3" r="2.4" fill="#909090"/>
<circle cx="672.5" cy="720.4" r="2.4" fill="#909090"/>
<circle cx="699.5" cy="705.4" r="2.4" fill="#909090"/>
<circle cx="726.5" cy="707.3" r="2.4" fill="#909090"/>
<circle cx="878.5" cy="675.3" r="2.8" fill="#909090"/>
<circle cx="896.5" cy="666.5" r="2.4" fill="#909090"/>
<circle cx="914.5" cy="703.6" r="2.4" fill="#909090"/>
<circle cx="914.5" cy="703.6" r="2.4" fill="#909090"/>
<circle cx="932.5" cy="679.6" r="2.4" fill="#909090"/>
<circle cx="977.5" cy="720.8" r="2.4" fill="#909090"/>
<circle cx="1004.5" cy="685.4" r="2.4" fill="#909090"/>
<circle cx="1040.5" cy="671.3" r="2.4" fill="#909090"/>
<circle cx="1058.5" cy="698.5" r="2.4" fill="#909090"/>
<circle cx="1103.5" cy="680.3" r="2.8" fill="#909090"/>
<circle cx="1139.5" cy="633.1" r="2.4" fill="#909090"/>
<circle cx="1175.5" cy="673.4" r="2.4" fill="#909090"/>
<circle cx="1229.5" cy="636.4" r="2.4" fill="#909090"/>
<circle cx="1247.5" cy="661.4" r="2.4" fill="#909090"/>
<circle cx="1265.5" cy="613.4" r="2.8" fill="#909090"/>
<circle cx="1354.5" cy="609.4" r="2.4" fill="#909090"/>
<circle cx="1417.5" cy="413.4" r="2.8" fill="#909090"/>
<circle cx="1471.5" cy="445.5" r="2.4" fill="#909090"/>
<circle cx="1615.5" cy="502.5" r="2.4" fill="#909090"/>
<circle cx="1677.5" cy="543.7" r="2.4" fill="#909090"/>
<circle cx="1444.5" cy="107.7" r="2.4" fill="#909090"/>
<circle cx="1651.5" cy="592.3" r="2.4" fill="#909090"/>
<circle cx="1677.5" cy="543.3" r="2.4" fill="#909090"/>
<circle cx="1695.5" cy="633.4" r="2.4" fill="#909090"/>
<circle cx="1731.5" cy="589.5" r="2.8" fill="#909090"/>
<circle cx="1758.5" cy="641.4" r="2.8" fill="#909090"/>
<circle cx="1776.5" cy="562.5" r="2.8" fill="#909090"/>
<circle cx="1857.5" cy="684.6" r="2.8" fill="#909090"/>
<circle cx="1139.5" cy="627.6" r="5.5" fill="#ff00ff"/>
<circle cx="1166.5" cy="643.3" r="5.5" fill="#ff00ff"/>
<circle cx="1390.5" cy="501.4" r="5.5" fill="#ff00ff"/>
<path d="M152.9 737.3L160.5 745.6L168.1 737.3Z" fill="#ff0000"/>
<rect x="127.2" y="714.2" width="66.6" height="23.6" rx="2.5" fill="#ff0000"/>
<text x="160.5" y="730.2" font-size="12" fill="#ffffff" text-anchor="middle" textLength="50" lengthAdjust="spacingAndGlyphs" font-weight="bold">Red Devil</text>
<path d="M260.9 774.5L268.5 766.2L276.1 774.5Z" fill="#ff0000"/>
<rect x="235.2" y="774.0" width="66.6" height="23.6" rx="2.5" fill="#ff0000"/>
<text x="268.5" y="790.0" font-size="12" fill="#ffffff" text-anchor="middle" textLength="50" lengthAdjust="spacingAndGlyphs" font-weight="bold">Red Devil</text>
<path d="M332.9 669.1L340.5 677.4L348.1 669.1Z" fill="#a0620a"/>
<rect x="307.2" y="646.0" width="66.6" height="23.6" rx="2.5" fill="#a0620a"/>
<text x="340.5" y="662.0" font-size="12" fill="#ffffff" text-anchor="middle" textLength="50.5" lengthAdjust="spacingAndGlyphs" font-weight="bold">BB Kombi</text>
<path d="M458.9 661.2L466.5 669.5L474.1 661.2Z" fill="#ff0000"/>
<rect x="437.1" y="638.1" width="58.8" height="23.6" rx="2.5" fill="#ff0000"/>
<text x="466.5" y="654.1" font-size="12" fill="#ffffff" text-anchor="middle" textLength="42.5" lengthAdjust="spacingAndGlyphs" font-weight="bold">LolliPop</text>
<path d="M655.9 679.1L663.5 687.4L671.1 679.1Z" fill="#a0620a"/>
<rect x="630.2" y="656.0" width="66.6" height="23.6" rx="2.5" fill="#a0620a"/>
<text x="663.5" y="672.0" font-size="12" fill="#ffffff" text-anchor="middle" textLength="50.5" lengthAdjust="spacingAndGlyphs" font-weight="bold">BB Kombi</text>
<path d="M754.9 752.8L762.5 744.5L770.1 752.8Z" fill="#ff0000"/>
<rect x="733.1" y="752.3" width="58.8" height="23.6" rx="2.5" fill="#ff0000"/>
<text x="762.5" y="768.3" font-size="12" fill="#ffffff" text-anchor="middle" textLength="42.5" lengthAdjust="spacingAndGlyphs" font-weight="bold">LolliPop</text>
<path d="M790.9 775.0L798.5 766.7L806.1 775.0Z" fill="#a0620a"/>
<rect x="765.2" y="774.5" width="66.6" height="23.6" rx="2.5" fill="#a0620a"/>
<text x="798.5" y="790.5" font-size="12" fill="#ffffff" text-anchor="middle" textLength="50.5" lengthAdjust="spacingAndGlyphs" font-weight="bold">BB Kombi</text>
<path d="M897.9 643.9L905.5 652.2L913.1 643.9Z" fill="#a0620a"/>
<rect x="872.2" y="620.8" width="66.6" height="23.6" rx="2.5" fill="#a0620a"/>
<text x="905.5" y="636.8" font-size="12" fill="#ffffff" text-anchor="middle" textLength="50.5" lengthAdjust="spacingAndGlyphs" font-weight="bold">BB Kombi</text>
<path d="M1086.9 630.4L1094.5 638.7L1102.1 630.4Z" fill="#ff0000"/>
<rect x="1065.1" y="607.3" width="58.8" height="23.6" rx="2.5" fill="#ff0000"/>
<text x="1094.5" y="623.3" font-size="12" fill="#ffffff" text-anchor="middle" textLength="42.5" lengthAdjust="spacingAndGlyphs" font-weight="bold">LolliPop</text>
<path d="M1319.9 533.2L1327.5 541.5L1335.1 533.2Z" fill="#a0620a"/>
<rect x="1294.2" y="510.1" width="66.6" height="23.6" rx="2.5" fill="#a0620a"/>
<text x="1327.5" y="526.1" font-size="12" fill="#ffffff" text-anchor="middle" textLength="50.5" lengthAdjust="spacingAndGlyphs" font-weight="bold">BB Kombi</text>
<path d="M1445.9 156.6L1453.5 164.9L1461.1 156.6Z" fill="#a0620a"/>
<rect x="1420.2" y="133.5" width="66.6" height="23.6" rx="2.5" fill="#a0620a"/>
<text x="1453.5" y="149.5" font-size="12" fill="#ffffff" text-anchor="middle" textLength="50.5" lengthAdjust="spacingAndGlyphs" font-weight="bold">BB Kombi</text>
<path d="M1589.9 653.6L1597.5 645.3L1605.1 653.6Z" fill="#ff0000"/>
<rect x="1568.1" y="653.1" width="58.8" height="23.6" rx="2.5" fill="#ff0000"/>
<text x="1597.5" y="669.1" font-size="12" fill="#ffffff" text-anchor="middle" textLength="42.5" lengthAdjust="spacingAndGlyphs" font-weight="bold">LolliPop</text>
<path d="M1589.9 691.8L1597.5 683.5L1605.1 691.8Z" fill="#ff9c40"/>
<rect x="1561.1" y="691.3" width="72.8" height="23.6" rx="2.5" fill="#ff9c40"/>
<text x="1597.5" y="707.3" font-size="12" fill="#ffffff" text-anchor="middle" textLength="56" lengthAdjust="spacingAndGlyphs" font-weight="bold">AW Rocket</text>
<path d="M1858.9 724.8L1866.5 716.5L1874.1 724.8Z" fill="#a0620a"/>
<rect x="1833.2" y="724.3" width="66.6" height="23.6" rx="2.5" fill="#a0620a"/>
<text x="1866.5" y="740.3" font-size="12" fill="#ffffff" text-anchor="middle" textLength="50.5" lengthAdjust="spacingAndGlyphs" font-weight="bold">BB Kombi</text>
<rect x="94.5" y="766.5" width="6" height="5" fill="none" stroke="#00ff00" stroke-width="1"/>
<rect x="103" y="764" width="7" height="1" fill="#0e9a7e"/>
<rect x="115" y="759" width="1" height="2" fill="#0e9a7e"/>
<rect x="115" y="765" width="1" height="1" fill="#0e9a7e"/>
<rect x="112.5" y="761.5" width="6" height="3" fill="none" stroke="#00ff00" stroke-width="1"/>
<rect x="121.5" y="757.5" width="6" height="3" fill="none" stroke="#00ff00" stroke-width="1"/>
<rect x="133" y="755" width="1" height="1" fill="#0e9a7e"/>
<rect x="133" y="757" width="1" height="1" fill="#0e9a7e"/>
<rect x="130" y="756" width="7" height="1" fill="#00ff00"/>
<rect x="142" y="755" width="1" height="1" fill="#f23645"/>
<rect x="142" y="757" width="1" height="1" fill="#f23645"/>
<rect x="139" y="756" width="7" height="1" fill="#ff0000"/>
<rect x="148.5" y="753.5" width="6" height="3" fill="none" stroke="#000000" stroke-width="1"/>
<rect x="160" y="752" width="1" height="1" fill="#f23645"/>
<rect x="160" y="754" width="1" height="2" fill="#f23645"/>
<rect x="157" y="753" width="7" height="1" fill="#ff0000"/>
<rect x="169" y="739" width="1" height="4" fill="#0e9a7e"/>
<rect x="169" y="751" width="1" height="2" fill="#0e9a7e"/>
<rect x="166.5" y="743.5" width="6" height="7" fill="none" stroke="#00ff00" stroke-width="1"/>
<rect x="178" y="736" width="1" height="2" fill="#0e9a7e"/>
<rect x="178" y="746" width="1" height="4" fill="#0e9a7e"/>
<rect x="175.5" y="738.5" width="6" height="7" fill="none" stroke="#00ff00" stroke-width="1"/>
<rect x="187" y="731" width="1" height="3" fill="#f23645"/>
<rect x="184" y="734" width="7" height="5" fill="#f5263c"/>
<rect x="185" y="735" width="5" height="3" fill="#00ff00"/>
<rect x="196" y="741" width="1" height="2" fill="#0e9a7e"/>
<rect x="193.5" y="736.5" width="6" height="4" fill="none" stroke="#00ff00" stroke-width="1"/>
<rect x="205" y="730" width="1" height="4" fill="#0e9a7e"/>
<rect x="205" y="737" width="1" height="2" fill="#0e9a7e"/>
<rect x="202.5" y="734.5" width="6" height="2" fill="none" stroke="#00ff00" stroke-width="1"/>
<rect x="214" y="731" width="1" height="1" fill="#f23645"/>
<rect x="214" y="736" width="1" height="4" fill="#f23645"/>
<rect x="211" y="732" width="7" height="4" fill="#f5263c"/>
<rect x="212" y="733" width="5" height="2" fill="#000000"/>
<rect x="223" y="735" width="1" height="3" fill="#f23645"/>
<rect x="223" y="739" width="1" height="1" fill="#f23645"/>
<rect x="220" y="738" width="7" height="1" fill="#ff0000"/>
<rect x="229" y="737" width="7" height="2" fill="#ff0000"/>
<rect x="241" y="733" width="1" height="1" fill="#0e9a7e"/>
<rect x="241" y="739" width="1" height="1" fill="#0e9a7e"/>
<rect x="238.5" y="734.5" width="6" height="4" fill="none" stroke="#000000" stroke-width="1"/>
<rect x="250" y="732" width="1" height="2" fill="#f23645"/>
<rect x="247.5" y="734.5" width="6" height="5" fill="none" stroke="#ff0000" stroke-width="1"/>
<rect x="259" y="748" width="1" height="3" fill="#f23645"/>
<rect x="256" y="737" width="7" height="11" fill="#ff0000"/>
<rect x="257" y="738" width="5" height="9" fill="#ff0000"/>
<rect x="268" y="742" width="1" height="4" fill="#f23645"/>
<rect x="268" y="753" width="1" height="2" fill="#f23645"/>
<rect x="265.5" y="746.5" width="6" height="6" fill="none" stroke="#ff0000" stroke-width="1"/>
<rect x="277" y="739" width="1" height="2" fill="#f23645"/>
<rect x="277" y="748" width="1" height="1" fill="#f23645"/>
<rect x="274" y="741" width="7" height="7" fill="#ff0000"/>
<rect x="275" y="742" width="5" height="5" fill="#ff0000"/>
<rect x="286" y="736" width="1" height="2" fill="#0e9a7e"/>
<rect x="283.5" y="738.5" width="6" height="8" fill="none" stroke="#000000" stroke-width="1"/>
<rect x="295" y="725" width="1" height="1" fill="#0e9a7e"/>
<rect x="292.5" y="726.5" width="6" height="12" fill="none" stroke="#000000" stroke-width="1"/>
<rect x="304" y="715" width="1" height="3" fill="#0e9a7e"/>
<rect x="304" y="725" width="1" height="2" fill="#0e9a7e"/>
<rect x="301.5" y="718.5" width="6" height="6" fill="none" stroke="#00ff00" stroke-width="1"/>
<rect x="313" y="710" width="1" height="5" fill="#0e9a7e"/>
<rect x="310.5" y="705.5" width="6" height="4" fill="none" stroke="#00ff00" stroke-width="1"/>
<rect x="322" y="693" width="1" height="8" fill="#0e9a7e"/>
<rect x="322" y="704" width="1" height="6" fill="#0e9a7e"/>
<rect x="319.5" y="701.5" width="6" height="2" fill="none" stroke="#00ff00" stroke-width="1"/>
<rect x="331" y="689" width="1" height="4" fill="#0e9a7e"/>
<rect x="328.5" y="693.5" width="6" height="4" fill="none" stroke="#00ff00" stroke-width="1"/>
<rect x="340" y="703" width="1" height="4" fill="#f23645"/>
<rect x="337" y="693" width="7" height="10" fill="#f5263c"/>
<rect x="338" y="694" width="5" height="8" fill="#000000"/>
<rect x="349" y="701" width="1" height="9" fill="#f23645"/>
<rect x="346.5" y="710.5" width="6" height="3" fill="none" stroke="#000000" stroke-width="1"/>
<rect x="355.5" y="701.5" width="6" height="8" fill="none" stroke="#ff0000" stroke-width="1"/>
<rect x="367" y="692" width="1" height="3" fill="#f23645"/>
<rect x="364.5" y="695.5" width="6" height="4" fill="none" stroke="#ff0000" stroke-width="1"/>
<rect x="376" y="680" width="1" height="3" fill="#f23645"/>
<rect x="376" y="694" width="1" height="2" fill="#f23645"/>
<rect x="373.5" y="683.5" width="6" height="10" fill="none" stroke="#ff0000" stroke-width="1"/>
<rect x="385" y="684" width="1" height="1" fill="#f23645"/>
<rect x="385" y="697" width="1" height="1" fill="#f23645"/>
<rect x="382" y="685" width="7" height="12" fill="#ff0000"/>
<rect x="383" y="686" width="5" height="10" fill="#ff0000"/>
<rect x="394" y="688" width="1" height="4" fill="#f23645"/>
<rect x="394" y="699" width="1" height="5" fill="#f23645"/>
<rect x="391" y="692" width="7" height="7" fill="#f5263c"/>
<rect x="392" y="693" width="5" height="5" fill="#00ff00"/>
<rect x="403" y="698" width="1" height="2" fill="#f23645"/>
<rect x="403" y="703" width="1" height="5" fill="#f23645"/>
<rect x="400.5" y="700.5" width="6" height="2" fill="none" stroke="#ff0000" stroke-width="1"/>
<rect x="412" y="699" width="1" height="3" fill="#f23645"/>
<rect x="412" y="703" width="1" height="3" fill="#f23645"/>
<rect x="409" y="702" width="7" height="1" fill="#ff0000"/>
<rect x="421" y="695" width="1" height="7" fill="#0e9a7e"/>
<rect x="421" y="703" width="1" height="3" fill="#0e9a7e"/>
<rect x="418" y="702" width="7" height="1" fill="#0e9a7e"/>
<rect x="430" y="689" width="1" height="7" fill="#0e9a7e"/>
<rect x="427.5" y="696.5" width="6" height="2" fill="none" stroke="#ff0000" stroke-width="1"/>
<rect x="439" y="692" width="1" height="3" fill="#0e9a7e"/>
<rect x="439" y="696" width="1" height="6" fill="#0e9a7e"/>
<rect x="436" y="695" width="7" height="1" fill="#000000"/>
<rect x="448" y="698" width="1" height="1" fill="#0e9a7e"/>
<rect x="445.5" y="692.5" width="6" height="5" fill="none" stroke="#000000" stroke-width="1"/>
<rect x="457" y="687" width="1" height="5" fill="#0e9a7e"/>
<rect x="454.5" y="682.5" width="6" height="4" fill="none" stroke="#00ff00" stroke-width="1"/>
<rect x="466" y="693" width="1" height="3" fill="#f23645"/>
<rect x="463" y="683" width="7" height="10" fill="#f5263c"/>
<rect x="464" y="684" width="5" height="8" fill="#00ff00"/>
<rect x="474" y="686" width="1" height="1" fill="#f23645"/>
<rect x="471" y="687" width="7" height="14" fill="#ff0000"/>
<rect x="472" y="688" width="5" height="12" fill="#ff0000"/>
<rect x="483" y="724" width="1" height="2" fill="#f23645"/>
<rect x="480" y="702" width="7" height="22" fill="#ff0000"/>
<rect x="481" y="703" width="5" height="20" fill="#ff0000"/>
<rect x="492" y="726" width="1" height="8" fill="#f23645"/>
<rect x="489" y="721" width="7" height="5" fill="#ff0000"/>
<rect x="490" y="722" width="5" height="3" fill="#ff0000"/>
<rect x="501" y="723" width="1" height="2" fill="#f23645"/>
<rect x="501" y="726" width="1" height="2" fill="#f23645"/>
<rect x="498" y="725" width="7" height="1" fill="#ff0000"/>
<rect x="510" y="721" width="1" height="4" fill="#f23645"/>
<rect x="510" y="726" width="1" height="3" fill="#f23645"/>
<rect x="507" y="725" width="7" height="1" fill="#ff0000"/>
<rect x="516" y="726" width="7" height="3" fill="#ff0000"/>
<rect x="517" y="727" width="5" height="1" fill="#ff0000"/>
<rect x="525.5" y="721.5" width="6" height="8" fill="none" stroke="#000000" stroke-width="1"/>
<rect x="537" y="724" width="1" height="2" fill="#f23645"/>
<rect x="534" y="717" width="7" height="7" fill="#f5263c"/>
<rect x="535" y="718" width="5" height="5" fill="#00ff00"/>
<rect x="546" y="722" width="1" height="4" fill="#f23645"/>
<rect x="543" y="726" width="7" height="2" fill="#f5263c"/>
<rect x="555" y="724" width="1" height="2" fill="#0e9a7e"/>
<rect x="552.5" y="726.5" width="6" height="3" fill="none" stroke="#000000" stroke-width="1"/>
<rect x="564" y="725" width="1" height="2" fill="#f23645"/>
<rect x="564" y="728" width="1" height="2" fill="#f23645"/>
<rect x="561" y="727" width="7" height="1" fill="#ff0000"/>
<rect x="573" y="724" width="1" height="2" fill="#f23645"/>
<rect x="573" y="727" width="1" height="1" fill="#f23645"/>
<rect x="570" y="726" width="7" height="1" fill="#ff0000"/>
<rect x="582" y="732" width="1" height="1" fill="#f23645"/>
<rect x="579" y="725" width="7" height="7" fill="#ff0000"/>
<rect x="580" y="726" width="5" height="5" fill="#ff0000"/>
<rect x="591" y="729" width="1" height="1" fill="#f23645"/>
<rect x="591" y="733" width="1" height="2" fill="#f23645"/>
<rect x="588" y="730" width="7" height="3" fill="#ff0000"/>
<rect x="589" y="731" width="5" height="1" fill="#ff0000"/>
<rect x="600" y="730" width="1" height="2" fill="#0e9a7e"/>
<rect x="600" y="733" width="1" height="2" fill="#0e9a7e"/>
<rect x="597" y="732" width="7" height="1" fill="#000000"/>
<rect x="609" y="717" width="1" height="10" fill="#0e9a7e"/>
<rect x="606.5" y="727.5" width="6" height="4" fill="none" stroke="#00ff00" stroke-width="1"/>
<rect x="618" y="720" width="1" height="4" fill="#0e9a7e"/>
<rect x="618" y="727" width="1" height="3" fill="#0e9a7e"/>
<rect x="615.5" y="724.5" width="6" height="2" fill="none" stroke="#00ff00" stroke-width="1"/>
<rect x="627" y="718" width="1" height="1" fill="#0e9a7e"/>
<rect x="627" y="720" width="1" height="5" fill="#0e9a7e"/>
<rect x="624" y="719" width="7" height="1" fill="#0e9a7e"/>
<rect x="636" y="697" width="1" height="4" fill="#0e9a7e"/>
<rect x="636" y="711" width="1" height="2" fill="#0e9a7e"/>
<rect x="633" y="701" width="7" height="10" fill="#00c060"/>
<rect x="634" y="702" width="5" height="8" fill="#00ff00"/>
<rect x="645" y="690" width="1" height="7" fill="#0e9a7e"/>
<rect x="645" y="708" width="1" height="1" fill="#0e9a7e"/>
<rect x="642.5" y="697.5" width="6" height="10" fill="none" stroke="#00ff00" stroke-width="1"/>
<rect x="654" y="709" width="1" height="5" fill="#f23645"/>
<rect x="651" y="693" width="7" height="16" fill="#f5263c"/>
<rect x="652" y="694" width="5" height="14" fill="#00ff00"/>
<rect x="663" y="705" width="1" height="5" fill="#f23645"/>
<rect x="660" y="710" width="7" height="3" fill="#f5263c"/>
<rect x="661" y="711" width="5" height="1" fill="#000000"/>
<rect x="672" y="715" width="1" height="4" fill="#0e9a7e"/>
<rect x="669.5" y="710.5" width="6" height="4" fill="none" stroke="#000000" stroke-width="1"/>
<rect x="681" y="707" width="1" height="2" fill="#f23645"/>
<rect x="681" y="710" width="1" height="2" fill="#f23645"/>
<rect x="678" y="709" width="7" height="1" fill="#ff0000"/>
<rect x="690" y="710" width="1" height="1" fill="#f23645"/>
<rect x="690" y="714" width="1" height="1" fill="#f23645"/>
<rect x="687" y="711" width="7" height="3" fill="#ff0000"/>
<rect x="688" y="712" width="5" height="1" fill="#ff0000"/>
<rect x="699" y="708" width="1" height="4" fill="#f23645"/>
<rect x="699" y="714" width="1" height="1" fill="#f23645"/>
<rect x="696" y="712" width="7" height="2" fill="#ff0000"/>
<rect x="708" y="719" width="1" height="1" fill="#f23645"/>
<rect x="705" y="714" width="7" height="5" fill="#ff0000"/>
<rect x="706" y="715" width="5" height="3" fill="#ff0000"/>
<rect x="717" y="712" width="1" height="2" fill="#0e9a7e"/>
<rect x="717" y="719" width="1" height="2" fill="#0e9a7e"/>
<rect x="714.5" y="714.5" width="6" height="4" fill="none" stroke="#000000" stroke-width="1"/>
<rect x="723" y="714" width="7" height="7" fill="#f5263c"/>
<rect x="724" y="715" width="5" height="5" fill="#000000"/>
<rect x="735" y="718" width="1" height="3" fill="#f23645"/>
<rect x="735" y="722" width="1" height="3" fill="#f23645"/>
<rect x="732" y="721" width="7" height="1" fill="#ff0000"/>
<rect x="741" y="720" width="7" height="6" fill="#ff0000"/>
<rect x="742" y="721" width="5" height="4" fill="#ff0000"/>
<rect x="753" y="722" width="1" height="1" fill="#f23645"/>
<rect x="753" y="728" width="1" height="2" fill="#f23645"/>
<rect x="750" y="723" width="7" height="5" fill="#ff0000"/>
<rect x="751" y="724" width="5" height="3" fill="#ff0000"/>
<rect x="762" y="721" width="1" height="4" fill="#0e9a7e"/>
<rect x="762" y="729" width="1" height="3" fill="#0e9a7e"/>
<rect x="759.5" y="725.5" width="6" height="3" fill="none" stroke="#000000" stroke-width="1"/>
<rect x="771" y="733" width="1" height="5" fill="#f23645"/>
<rect x="768" y="727" width="7" height="6" fill="#ff0000"/>
<rect x="769" y="728" width="5" height="4" fill="#ff0000"/>
<rect x="780" y="731" width="1" height="1" fill="#f23645"/>
<rect x="780" y="741" width="1" height="1" fill="#f23645"/>
<rect x="777" y="732" width="7" height="9" fill="#ff0000"/>
<rect x="778" y="733" width="5" height="7" fill="#ff0000"/>
<rect x="786" y="738" width="7" height="10" fill="#ff0000"/>
<rect x="787" y="739" width="5" height="8" fill="#ff0000"/>
<rect x="798" y="738" width="1" height="3" fill="#f23645"/>
<rect x="795.5" y="741.5" width="6" height="7" fill="none" stroke="#ff0000" stroke-width="1"/>
<rect x="807" y="737" width="1" height="1" fill="#0e9a7e"/>
<rect x="807" y="741" width="1" height="3" fill="#0e9a7e"/>
<rect x="804.5" y="738.5" width="6" height="2" fill="none" stroke="#000000" stroke-width="1"/>
<rect x="816" y="736" width="1" height="1" fill="#0e9a7e"/>
<rect x="816" y="738" width="1" height="4" fill="#0e9a7e"/>
<rect x="813" y="737" width="7" height="1" fill="#000000"/>
<rect x="825" y="734" width="1" height="2" fill="#f23645"/>
<rect x="825" y="739" width="1" height="2" fill="#f23645"/>
<rect x="822" y="736" width="7" height="3" fill="#f5263c"/>
<rect x="823" y="737" width="5" height="1" fill="#00ff00"/>
<rect x="834" y="735" width="1" height="2" fill="#0e9a7e"/>
<rect x="834" y="738" width="1" height="1" fill="#0e9a7e"/>
<rect x="831" y="737" width="7" height="1" fill="#00ff00"/>
<rect x="843" y="721" width="1" height="2" fill="#0e9a7e"/>
<rect x="843" y="731" width="1" height="2" fill="#0e9a7e"/>
<rect x="840.5" y="723.5" width="6" height="7" fill="none" stroke="#00ff00" stroke-width="1"/>
<rect x="852" y="719" width="1" height="1" fill="#0e9a7e"/>
<rect x="852" y="721" width="1" height="7" fill="#0e9a7e"/>
<rect x="849" y="720" width="7" height="1" fill="#0e9a7e"/>
<rect x="861" y="704" width="1" height="7" fill="#0e9a7e"/>
<rect x="858.5" y="711.5" width="6" height="5" fill="none" stroke="#00ff00" stroke-width="1"/>
<rect x="869" y="698" width="1" height="2" fill="#0e9a7e"/>
<rect x="869" y="706" width="1" height="7" fill="#0e9a7e"/>
<rect x="866.5" y="700.5" width="6" height="5" fill="none" stroke="#00ff00" stroke-width="1"/>
<rect x="878" y="682" width="1" height="2" fill="#0e9a7e"/>
<rect x="878" y="697" width="1" height="6" fill="#0e9a7e"/>
<rect x="875.5" y="684.5" width="6" height="12" fill="none" stroke="#00ff00" stroke-width="1"/>
<rect x="887" y="681" width="1" height="3" fill="#f23645"/>
<rect x="884.5" y="684.5" width="6" height="12" fill="none" stroke="#00ff00" stroke-width="1"/>
<rect x="896" y="668" width="1" height="11" fill="#0e9a7e"/>
<rect x="896" y="680" width="1" height="4" fill="#0e9a7e"/>
<rect x="893" y="679" width="7" height="1" fill="#0e9a7e"/>
<rect x="902" y="672" width="7" height="20" fill="#f5263c"/>
<rect x="903" y="673" width="5" height="18" fill="#000000"/>
<rect x="914" y="695" width="1" height="5" fill="#0e9a7e"/>
<rect x="911.5" y="690.5" width="6" height="4" fill="none" stroke="#000000" stroke-width="1"/>
<rect x="923" y="690" width="1" height="2" fill="#0e9a7e"/>
<rect x="920.5" y="684.5" width="6" height="5" fill="none" stroke="#ff0000" stroke-width="1"/>
<rect x="932" y="682" width="1" height="2" fill="#f23645"/>
<rect x="932" y="690" width="1" height="2" fill="#f23645"/>
<rect x="929" y="684" width="7" height="6" fill="#ff0000"/>
<rect x="930" y="685" width="5" height="4" fill="#ff0000"/>
<rect x="941" y="690" width="1" height="2" fill="#f23645"/>
<rect x="941" y="699" width="1" height="3" fill="#f23645"/>
<rect x="938" y="692" width="7" height="7" fill="#ff0000"/>
<rect x="939" y="693" width="5" height="5" fill="#ff0000"/>
<rect x="950" y="696" width="1" height="2" fill="#f23645"/>
<rect x="950" y="699" width="1" height="6" fill="#f23645"/>
<rect x="947" y="698" width="7" height="1" fill="#ff0000"/>
<rect x="956" y="699" width="7" height="9" fill="#f5263c"/>
<rect x="957" y="700" width="5" height="7" fill="#000000"/>
<rect x="968" y="703" width="1" height="5" fill="#f23645"/>
<rect x="968" y="714" width="1" height="1" fill="#f23645"/>
<rect x="965" y="708" width="7" height="6" fill="#ff0000"/>
<rect x="966" y="709" width="5" height="4" fill="#ff0000"/>
<rect x="974.5" y="708.5" width="6" height="10" fill="none" stroke="#ff0000" stroke-width="1"/>
<rect x="986" y="708" width="1" height="4" fill="#0e9a7e"/>
<rect x="983" y="712" width="7" height="1" fill="#000000"/>
<rect x="995" y="689" width="1" height="2" fill="#0e9a7e"/>
<rect x="992.5" y="691.5" width="6" height="19" fill="none" stroke="#000000" stroke-width="1"/>
<rect x="1004" y="696" width="1" height="5" fill="#f23645"/>
<rect x="1001" y="689" width="7" height="7" fill="#f5263c"/>
<rect x="1002" y="690" width="5" height="5" fill="#00ff00"/>
<rect x="1013" y="692" width="1" height="2" fill="#f23645"/>
<rect x="1013" y="697" width="1" height="4" fill="#f23645"/>
<rect x="1010" y="694" width="7" height="3" fill="#f5263c"/>
<rect x="1011" y="695" width="5" height="1" fill="#00ff00"/>
<rect x="1022" y="688" width="1" height="4" fill="#0e9a7e"/>
<rect x="1022" y="694" width="1" height="1" fill="#0e9a7e"/>
<rect x="1019" y="692" width="7" height="2" fill="#00ff00"/>
<rect x="1031" y="682" width="1" height="3" fill="#0e9a7e"/>
<rect x="1031" y="689" width="1" height="4" fill="#0e9a7e"/>
<rect x="1028" y="685" width="7" height="4" fill="#00c060"/>
<rect x="1029" y="686" width="5" height="2" fill="#00ff00"/>
<rect x="1040" y="673" width="1" height="7" fill="#0e9a7e"/>
<rect x="1040" y="683" width="1" height="3" fill="#0e9a7e"/>
<rect x="1037" y="680" width="7" height="3" fill="#00c060"/>
<rect x="1038" y="681" width="5" height="1" fill="#00ff00"/>
<rect x="1049" y="678" width="1" height="2" fill="#0e9a7e"/>
<rect x="1049" y="681" width="1" height="8" fill="#0e9a7e"/>
<rect x="1046" y="680" width="7" height="1" fill="#0e9a7e"/>
<rect x="1058" y="681" width="1" height="16" fill="#0e9a7e"/>
<rect x="1055.5" y="674.5" width="6" height="6" fill="none" stroke="#000000" stroke-width="1"/>
<rect x="1067" y="669" width="1" height="1" fill="#0e9a7e"/>
<rect x="1067" y="677" width="1" height="4" fill="#0e9a7e"/>
<rect x="1064.5" y="670.5" width="6" height="6" fill="none" stroke="#000000" stroke-width="1"/>
<rect x="1076" y="660" width="1" height="5" fill="#0e9a7e"/>
<rect x="1076" y="671" width="1" height="6" fill="#0e9a7e"/>
<rect x="1073.5" y="665.5" width="6" height="5" fill="none" stroke="#00ff00" stroke-width="1"/>
<rect x="1085" y="654" width="1" height="4" fill="#0e9a7e"/>
<rect x="1085" y="663" width="1" height="4" fill="#0e9a7e"/>
<rect x="1082.5" y="658.5" width="6" height="4" fill="none" stroke="#00ff00" stroke-width="1"/>
<rect x="1094" y="652" width="1" height="6" fill="#f23645"/>
<rect x="1094" y="667" width="1" height="5" fill="#f23645"/>
<rect x="1091" y="658" width="7" height="9" fill="#f5263c"/>
<rect x="1092" y="659" width="5" height="7" fill="#00ff00"/>
<rect x="1103" y="656" width="1" height="5" fill="#0e9a7e"/>
<rect x="1103" y="672" width="1" height="5" fill="#0e9a7e"/>
<rect x="1100.5" y="661.5" width="6" height="10" fill="none" stroke="#000000" stroke-width="1"/>
<rect x="1112" y="654" width="1" height="2" fill="#0e9a7e"/>
<rect x="1112" y="664" width="1" height="3" fill="#0e9a7e"/>
<rect x="1109.5" y="656.5" width="6" height="7" fill="none" stroke="#000000" stroke-width="1"/>
<rect x="1121" y="645" width="1" height="4" fill="#0e9a7e"/>
<rect x="1121" y="656" width="1" height="3" fill="#0e9a7e"/>
<rect x="1118.5" y="649.5" width="6" height="6" fill="none" stroke="#000000" stroke-width="1"/>
<rect x="1130" y="640" width="1" height="6" fill="#0e9a7e"/>
<rect x="1130" y="648" width="1" height="7" fill="#0e9a7e"/>
<rect x="1127" y="646" width="7" height="2" fill="#ff0000"/>
<rect x="1139" y="634" width="1" height="7" fill="#0e9a7e"/>
<rect x="1139" y="644" width="1" height="2" fill="#0e9a7e"/>
<rect x="1136.5" y="641.5" width="6" height="2" fill="none" stroke="#00ff00" stroke-width="1"/>
<rect x="1148" y="642" width="1" height="3" fill="#f23645"/>
<rect x="1145" y="645" width="7" height="10" fill="#f5263c"/>
<rect x="1146" y="646" width="5" height="8" fill="#00ff00"/>
<rect x="1157" y="651" width="1" height="3" fill="#f23645"/>
<rect x="1157" y="655" width="1" height="6" fill="#f23645"/>
<rect x="1154" y="654" width="7" height="1" fill="#ff0000"/>
<rect x="1166" y="650" width="1" height="3" fill="#f23645"/>
<rect x="1166" y="656" width="1" height="3" fill="#f23645"/>
<rect x="1163" y="653" width="7" height="3" fill="#ff0000"/>
<rect x="1164" y="654" width="5" height="1" fill="#ff0000"/>
<rect x="1175" y="658" width="1" height="1" fill="#f23645"/>
<rect x="1175" y="665" width="1" height="5" fill="#f23645"/>
<rect x="1172" y="659" width="7" height="6" fill="#ff0000"/>
<rect x="1173" y="660" width="5" height="4" fill="#ff0000"/>
<rect x="1184" y="656" width="1" height="6" fill="#0e9a7e"/>
<rect x="1181" y="662" width="7" height="2" fill="#ff0000"/>
<rect x="1190.5" y="654.5" width="6" height="10" fill="none" stroke="#ff0000" stroke-width="1"/>
<rect x="1202" y="649" width="1" height="3" fill="#f23645"/>
<rect x="1202" y="657" width="1" height="8" fill="#f23645"/>
<rect x="1199" y="652" width="7" height="5" fill="#f5263c"/>
<rect x="1200" y="653" width="5" height="3" fill="#000000"/>
<rect x="1208" y="659" width="7" height="5" fill="#f5263c"/>
<rect x="1209" y="660" width="5" height="3" fill="#000000"/>
<rect x="1220" y="641" width="1" height="13" fill="#0e9a7e"/>
<rect x="1217.5" y="654.5" width="6" height="8" fill="none" stroke="#00ff00" stroke-width="1"/>
<rect x="1229" y="639" width="1" height="10" fill="#0e9a7e"/>
<rect x="1226.5" y="649.5" width="6" height="5" fill="none" stroke="#00ff00" stroke-width="1"/>
<rect x="1238" y="646" width="1" height="2" fill="#f23645"/>
<rect x="1238" y="654" width="1" height="3" fill="#f23645"/>
<rect x="1235" y="648" width="7" height="6" fill="#f5263c"/>
<rect x="1236" y="649" width="5" height="4" fill="#00ff00"/>
<rect x="1247" y="641" width="1" height="1" fill="#0e9a7e"/>
<rect x="1247" y="656" width="1" height="2" fill="#0e9a7e"/>
<rect x="1244.5" y="642.5" width="6" height="13" fill="none" stroke="#000000" stroke-width="1"/>
<rect x="1256" y="636" width="1" height="1" fill="#0e9a7e"/>
<rect x="1256" y="642" width="1" height="3" fill="#0e9a7e"/>
<rect x="1253.5" y="637.5" width="6" height="4" fill="none" stroke="#00ff00" stroke-width="1"/>
<rect x="1265" y="621" width="1" height="7" fill="#0e9a7e"/>
<rect x="1265" y="634" width="1" height="4" fill="#0e9a7e"/>
<rect x="1262.5" y="628.5" width="6" height="5" fill="none" stroke="#00ff00" stroke-width="1"/>
<rect x="1273" y="615" width="1" height="3" fill="#0e9a7e"/>
<rect x="1273" y="628" width="1" height="3" fill="#0e9a7e"/>
<rect x="1270.5" y="618.5" width="6" height="9" fill="none" stroke="#00ff00" stroke-width="1"/>
<rect x="1282" y="606" width="1" height="1" fill="#0e9a7e"/>
<rect x="1282" y="616" width="1" height="6" fill="#0e9a7e"/>
<rect x="1279.5" y="607.5" width="6" height="8" fill="none" stroke="#00ff00" stroke-width="1"/>
<rect x="1291" y="579" width="1" height="7" fill="#0e9a7e"/>
<rect x="1291" y="605" width="1" height="1" fill="#0e9a7e"/>
<rect x="1288.5" y="586.5" width="6" height="18" fill="none" stroke="#00ff00" stroke-width="1"/>
<rect x="1300" y="585" width="1" height="1" fill="#f23645"/>
<rect x="1300" y="588" width="1" height="14" fill="#f23645"/>
<rect x="1297" y="586" width="7" height="2" fill="#ff0000"/>
<rect x="1309" y="526" width="1" height="31" fill="#0e9a7e"/>
<rect x="1309" y="566" width="1" height="2" fill="#0e9a7e"/>
<rect x="1306.5" y="557.5" width="6" height="8" fill="none" stroke="#00ff00" stroke-width="1"/>
<rect x="1318" y="534" width="1" height="3" fill="#f23645"/>
<rect x="1318" y="580" width="1" height="7" fill="#f23645"/>
<rect x="1315" y="537" width="7" height="43" fill="#f5263c"/>
<rect x="1316" y="538" width="5" height="41" fill="#00ff00"/>
<rect x="1327" y="569" width="1" height="17" fill="#f23645"/>
<rect x="1327" y="593" width="1" height="5" fill="#f23645"/>
<rect x="1324" y="586" width="7" height="7" fill="#f5263c"/>
<rect x="1325" y="587" width="5" height="5" fill="#000000"/>
<rect x="1336" y="568" width="1" height="19" fill="#f23645"/>
<rect x="1336" y="596" width="1" height="7" fill="#f23645"/>
<rect x="1333" y="587" width="7" height="9" fill="#ff0000"/>
<rect x="1334" y="588" width="5" height="7" fill="#ff0000"/>
<rect x="1345" y="579" width="1" height="9" fill="#0e9a7e"/>
<rect x="1345" y="591" width="1" height="4" fill="#0e9a7e"/>
<rect x="1342" y="588" width="7" height="3" fill="#ff0000"/>
<rect x="1343" y="589" width="5" height="1" fill="#ff0000"/>
<rect x="1354" y="581" width="1" height="11" fill="#f23645"/>
<rect x="1354" y="596" width="1" height="9" fill="#f23645"/>
<rect x="1351" y="592" width="7" height="4" fill="#ff0000"/>
<rect x="1352" y="593" width="5" height="2" fill="#ff0000"/>
<rect x="1363" y="544" width="1" height="4" fill="#0e9a7e"/>
<rect x="1363" y="578" width="1" height="2" fill="#0e9a7e"/>
<rect x="1360.5" y="548.5" width="6" height="29" fill="none" stroke="#ff0000" stroke-width="1"/>
<rect x="1372" y="541" width="1" height="4" fill="#f23645"/>
<rect x="1372" y="551" width="1" height="9" fill="#f23645"/>
<rect x="1369" y="545" width="7" height="6" fill="#f5263c"/>
<rect x="1370" y="546" width="5" height="4" fill="#00ff00"/>
<rect x="1381" y="518" width="1" height="23" fill="#0e9a7e"/>
<rect x="1381" y="547" width="1" height="4" fill="#0e9a7e"/>
<rect x="1378.5" y="541.5" width="6" height="5" fill="none" stroke="#00ff00" stroke-width="1"/>
<rect x="1390" y="511" width="1" height="13" fill="#0e9a7e"/>
<rect x="1390" y="530" width="1" height="16" fill="#0e9a7e"/>
<rect x="1387" y="524" width="7" height="6" fill="#00c060"/>
<rect x="1388" y="525" width="5" height="4" fill="#00ff00"/>
<rect x="1399" y="479" width="1" height="28" fill="#0e9a7e"/>
<rect x="1399" y="516" width="1" height="2" fill="#0e9a7e"/>
<rect x="1396.5" y="507.5" width="6" height="8" fill="none" stroke="#00ff00" stroke-width="1"/>
<rect x="1408" y="459" width="1" height="19" fill="#0e9a7e"/>
<rect x="1408" y="480" width="1" height="10" fill="#0e9a7e"/>
<rect x="1405" y="478" width="7" height="2" fill="#00ff00"/>
<rect x="1417" y="426" width="1" height="3" fill="#0e9a7e"/>
<rect x="1417" y="453" width="1" height="5" fill="#0e9a7e"/>
<rect x="1414.5" y="429.5" width="6" height="23" fill="none" stroke="#00ff00" stroke-width="1"/>
<rect x="1426" y="321" width="1" height="61" fill="#0e9a7e"/>
<rect x="1426" y="391" width="1" height="19" fill="#0e9a7e"/>
<rect x="1423.5" y="382.5" width="6" height="8" fill="none" stroke="#00ff00" stroke-width="1"/>
<rect x="1435" y="202" width="1" height="20" fill="#0e9a7e"/>
<rect x="1435" y="295" width="1" height="46" fill="#0e9a7e"/>
<rect x="1432.5" y="222.5" width="6" height="72" fill="none" stroke="#00ff00" stroke-width="1"/>
<rect x="1444" y="115" width="1" height="7" fill="#0e9a7e"/>
<rect x="1444" y="195" width="1" height="73" fill="#0e9a7e"/>
<rect x="1441" y="122" width="7" height="73" fill="#00c060"/>
<rect x="1442" y="123" width="5" height="71" fill="#00ff00"/>
<rect x="1453" y="222" width="1" height="26" fill="#f23645"/>
<rect x="1453" y="328" width="1" height="30" fill="#f23645"/>
<rect x="1450" y="248" width="7" height="80" fill="#f5263c"/>
<rect x="1451" y="249" width="5" height="78" fill="#000000"/>
<rect x="1462" y="314" width="1" height="11" fill="#f23645"/>
<rect x="1462" y="371" width="1" height="23" fill="#f23645"/>
<rect x="1459" y="325" width="7" height="46" fill="#f5263c"/>
<rect x="1460" y="326" width="5" height="44" fill="#000000"/>
<rect x="1471" y="375" width="1" height="43" fill="#f23645"/>
<rect x="1471" y="426" width="1" height="11" fill="#f23645"/>
<rect x="1468.5" y="418.5" width="6" height="7" fill="none" stroke="#ff0000" stroke-width="1"/>
<rect x="1480" y="324" width="1" height="15" fill="#0e9a7e"/>
<rect x="1480" y="344" width="1" height="81" fill="#0e9a7e"/>
<rect x="1477.5" y="339.5" width="6" height="4" fill="none" stroke="#ff0000" stroke-width="1"/>
<rect x="1489" y="367" width="1" height="5" fill="#f23645"/>
<rect x="1489" y="377" width="1" height="41" fill="#f23645"/>
<rect x="1486" y="372" width="7" height="5" fill="#ff0000"/>
<rect x="1487" y="373" width="5" height="3" fill="#ff0000"/>
<rect x="1498" y="329" width="1" height="21" fill="#0e9a7e"/>
<rect x="1498" y="388" width="1" height="19" fill="#0e9a7e"/>
<rect x="1495.5" y="350.5" width="6" height="37" fill="none" stroke="#ff0000" stroke-width="1"/>
<rect x="1507" y="400" width="1" height="2" fill="#f23645"/>
<rect x="1504" y="371" width="7" height="29" fill="#f5263c"/>
<rect x="1505" y="372" width="5" height="27" fill="#000000"/>
<rect x="1516" y="372" width="1" height="17" fill="#0e9a7e"/>
<rect x="1516" y="394" width="1" height="15" fill="#0e9a7e"/>
<rect x="1513.5" y="389.5" width="6" height="4" fill="none" stroke="#000000" stroke-width="1"/>
<rect x="1525" y="451" width="1" height="4" fill="#f23645"/>
<rect x="1525" y="477" width="1" height="23" fill="#f23645"/>
<rect x="1522" y="455" width="7" height="22" fill="#ff0000"/>
<rect x="1523" y="456" width="5" height="20" fill="#ff0000"/>
<rect x="1534" y="472" width="1" height="20" fill="#f23645"/>
<rect x="1534" y="498" width="1" height="1" fill="#f23645"/>
<rect x="1531.5" y="492.5" width="6" height="5" fill="none" stroke="#ff0000" stroke-width="1"/>
<rect x="1543" y="492" width="1" height="6" fill="#f23645"/>
<rect x="1543" y="519" width="1" height="8" fill="#f23645"/>
<rect x="1540" y="498" width="7" height="21" fill="#ff0000"/>
<rect x="1541" y="499" width="5" height="19" fill="#ff0000"/>
<rect x="1552" y="485" width="1" height="3" fill="#f23645"/>
<rect x="1552" y="521" width="1" height="15" fill="#f23645"/>
<rect x="1549" y="488" width="7" height="33" fill="#ff0000"/>
<rect x="1550" y="489" width="5" height="31" fill="#ff0000"/>
<rect x="1561" y="521" width="1" height="6" fill="#f23645"/>
<rect x="1561" y="531" width="1" height="11" fill="#f23645"/>
<rect x="1558" y="527" width="7" height="4" fill="#ff0000"/>
<rect x="1559" y="528" width="5" height="2" fill="#ff0000"/>
<rect x="1570" y="542" width="1" height="10" fill="#f23645"/>
<rect x="1570" y="566" width="1" height="7" fill="#f23645"/>
<rect x="1567" y="552" width="7" height="14" fill="#f5263c"/>
<rect x="1568" y="553" width="5" height="12" fill="#000000"/>
<rect x="1579" y="559" width="1" height="10" fill="#f23645"/>
<rect x="1576.5" y="569.5" width="6" height="17" fill="none" stroke="#000000" stroke-width="1"/>
<rect x="1588" y="572" width="1" height="7" fill="#f23645"/>
<rect x="1585" y="579" width="7" height="13" fill="#f5263c"/>
<rect x="1586" y="580" width="5" height="11" fill="#000000"/>
<rect x="1597" y="580" width="1" height="15" fill="#0e9a7e"/>
<rect x="1594.5" y="566.5" width="6" height="13" fill="none" stroke="#000000" stroke-width="1"/>
<rect x="1606" y="515" width="1" height="6" fill="#0e9a7e"/>
<rect x="1606" y="582" width="1" height="2" fill="#0e9a7e"/>
<rect x="1603.5" y="521.5" width="6" height="60" fill="none" stroke="#000000" stroke-width="1"/>
<rect x="1615" y="511" width="1" height="4" fill="#f23645"/>
<rect x="1615" y="545" width="1" height="4" fill="#f23645"/>
<rect x="1612" y="515" width="7" height="30" fill="#f5263c"/>
<rect x="1613" y="516" width="5" height="28" fill="#00ff00"/>
<rect x="1624" y="524" width="1" height="6" fill="#0e9a7e"/>
<rect x="1624" y="537" width="1" height="9" fill="#0e9a7e"/>
<rect x="1621.5" y="530.5" width="6" height="6" fill="none" stroke="#00ff00" stroke-width="1"/>
<rect x="1633" y="526" width="1" height="7" fill="#f23645"/>
<rect x="1633" y="546" width="1" height="5" fill="#f23645"/>
<rect x="1630" y="533" width="7" height="13" fill="#f5263c"/>
<rect x="1631" y="534" width="5" height="11" fill="#00ff00"/>
<rect x="1642" y="531" width="1" height="23" fill="#f23645"/>
<rect x="1642" y="562" width="1" height="4" fill="#f23645"/>
<rect x="1639" y="554" width="7" height="8" fill="#f5263c"/>
<rect x="1640" y="555" width="5" height="6" fill="#00ff00"/>
<rect x="1651" y="540" width="1" height="14" fill="#0e9a7e"/>
<rect x="1651" y="582" width="1" height="1" fill="#0e9a7e"/>
<rect x="1648.5" y="554.5" width="6" height="27" fill="none" stroke="#ff0000" stroke-width="1"/>
<rect x="1660" y="551" width="1" height="3" fill="#f23645"/>
<rect x="1660" y="574" width="1" height="5" fill="#f23645"/>
<rect x="1657" y="554" width="7" height="20" fill="#ff0000"/>
<rect x="1658" y="555" width="5" height="18" fill="#ff0000"/>
<rect x="1668" y="557" width="1" height="8" fill="#0e9a7e"/>
<rect x="1665.5" y="565.5" width="6" height="10" fill="none" stroke="#ff0000" stroke-width="1"/>
<rect x="1677" y="551" width="1" height="5" fill="#f23645"/>
<rect x="1674" y="556" width="7" height="22" fill="#ff0000"/>
<rect x="1675" y="557" width="5" height="20" fill="#ff0000"/>
<rect x="1686" y="566" width="1" height="4" fill="#f23645"/>
<rect x="1683" y="570" width="7" height="39" fill="#ff0000"/>
<rect x="1684" y="571" width="5" height="37" fill="#ff0000"/>
<rect x="1695" y="604" width="1" height="3" fill="#f23645"/>
<rect x="1695" y="608" width="1" height="17" fill="#f23645"/>
<rect x="1692" y="607" width="7" height="1" fill="#ff0000"/>
<rect x="1704" y="604" width="1" height="4" fill="#0e9a7e"/>
<rect x="1704" y="610" width="1" height="2" fill="#0e9a7e"/>
<rect x="1701" y="608" width="7" height="2" fill="#000000"/>
<rect x="1713" y="603" width="1" height="3" fill="#f23645"/>
<rect x="1713" y="611" width="1" height="11" fill="#f23645"/>
<rect x="1710" y="606" width="7" height="5" fill="#f5263c"/>
<rect x="1711" y="607" width="5" height="3" fill="#000000"/>
<rect x="1722" y="605" width="1" height="6" fill="#0e9a7e"/>
<rect x="1722" y="613" width="1" height="2" fill="#0e9a7e"/>
<rect x="1719" y="611" width="7" height="2" fill="#000000"/>
<rect x="1731" y="597" width="1" height="3" fill="#0e9a7e"/>
<rect x="1731" y="609" width="1" height="2" fill="#0e9a7e"/>
<rect x="1728.5" y="600.5" width="6" height="8" fill="none" stroke="#00ff00" stroke-width="1"/>
<rect x="1740" y="602" width="1" height="2" fill="#f23645"/>
<rect x="1737" y="604" width="7" height="19" fill="#f5263c"/>
<rect x="1738" y="605" width="5" height="17" fill="#00ff00"/>
<rect x="1749" y="616" width="1" height="7" fill="#f23645"/>
<rect x="1746" y="623" width="7" height="4" fill="#f5263c"/>
<rect x="1747" y="624" width="5" height="2" fill="#00ff00"/>
<rect x="1758" y="625" width="1" height="1" fill="#f23645"/>
<rect x="1758" y="629" width="1" height="4" fill="#f23645"/>
<rect x="1755" y="626" width="7" height="3" fill="#f5263c"/>
<rect x="1756" y="627" width="5" height="1" fill="#00ff00"/>
<rect x="1767" y="596" width="1" height="3" fill="#0e9a7e"/>
<rect x="1764.5" y="599.5" width="6" height="32" fill="none" stroke="#000000" stroke-width="1"/>
<rect x="1776" y="570" width="1" height="16" fill="#0e9a7e"/>
<rect x="1776" y="592" width="1" height="1" fill="#0e9a7e"/>
<rect x="1773" y="586" width="7" height="6" fill="#00c060"/>
<rect x="1774" y="587" width="5" height="4" fill="#00ff00"/>
<rect x="1785" y="582" width="1" height="8" fill="#f23645"/>
<rect x="1785" y="591" width="1" height="7" fill="#f23645"/>
<rect x="1782" y="590" width="7" height="1" fill="#ff0000"/>
<rect x="1794" y="583" width="1" height="5" fill="#0e9a7e"/>
<rect x="1794" y="593" width="1" height="10" fill="#0e9a7e"/>
<rect x="1791.5" y="588.5" width="6" height="4" fill="none" stroke="#00ff00" stroke-width="1"/>
<rect x="1803" y="588" width="1" height="3" fill="#f23645"/>
<rect x="1803" y="606" width="1" height="5" fill="#f23645"/>
<rect x="1800" y="591" width="7" height="15" fill="#f5263c"/>
<rect x="1801" y="592" width="5" height="13" fill="#00ff00"/>
<rect x="1812" y="600" width="1" height="3" fill="#0e9a7e"/>
<rect x="1812" y="611" width="1" height="8" fill="#0e9a7e"/>
<rect x="1809.5" y="603.5" width="6" height="7" fill="none" stroke="#000000" stroke-width="1"/>
<rect x="1821" y="618" width="1" height="6" fill="#f23645"/>
<rect x="1818" y="603" width="7" height="15" fill="#f5263c"/>
<rect x="1819" y="604" width="5" height="13" fill="#000000"/>
<rect x="1830" y="616" width="1" height="7" fill="#f23645"/>
<rect x="1827" y="623" width="7" height="18" fill="#ff0000"/>
<rect x="1828" y="624" width="5" height="16" fill="#ff0000"/>
<rect x="1839" y="639" width="1" height="1" fill="#0e9a7e"/>
<rect x="1839" y="647" width="1" height="1" fill="#0e9a7e"/>
<rect x="1836.5" y="640.5" width="6" height="6" fill="none" stroke="#ff0000" stroke-width="1"/>
<rect x="1848" y="636" width="1" height="5" fill="#f23645"/>
<rect x="1845" y="641" width="7" height="16" fill="#ff0000"/>
<rect x="1846" y="642" width="5" height="14" fill="#ff0000"/>
<rect x="1857" y="643" width="1" height="11" fill="#f23645"/>
<rect x="1857" y="658" width="1" height="4" fill="#f23645"/>
<rect x="1854" y="654" width="7" height="4" fill="#ff0000"/>
<rect x="1855" y="655" width="5" height="2" fill="#ff0000"/>
<rect x="1866" y="641" width="1" height="5" fill="#0e9a7e"/>
<rect x="1863.5" y="646.5" width="6" height="10" fill="none" stroke="#000000" stroke-width="1"/>
<rect x="1875" y="611" width="1" height="6" fill="#0e9a7e"/>
<rect x="1875" y="635" width="1" height="3" fill="#0e9a7e"/>
<rect x="1872.5" y="617.5" width="6" height="17" fill="none" stroke="#00ff00" stroke-width="1"/>
<line x1="145" y1="617.5" x2="2050" y2="617.5" stroke="#00f000" stroke-width="1.2" stroke-dasharray="1.3 2.7"/>
</g>
<clipPath id="c2"><rect x="95" y="841.5" width="1955" height="131.5"/></clipPath>
<g clip-path="url(#c2)">
<text x="901.2" y="850.8" font-size="14.5" fill="#131722" textLength="187.5" lengthAdjust="spacingAndGlyphs">ICE Trading Deluxe Big Point</text>
<circle cx="133.5" cy="861.3" r="3.2" fill="#00ff00"/>
<circle cx="142.5" cy="861.3" r="3.2" fill="#00ff00"/>
<circle cx="151.5" cy="861.3" r="3.2" fill="#00ff00"/>
<circle cx="160.5" cy="861.3" r="3.2" fill="#00ff00"/>
<circle cx="169.5" cy="861.3" r="3.2" fill="#00ff00"/>
<circle cx="178.5" cy="861.3" r="3.2" fill="#00ff00"/>
<circle cx="196.5" cy="861.3" r="3.2" fill="#00ff00"/>
<circle cx="214.5" cy="861.3" r="3.2" fill="#00ff00"/>
<circle cx="223.5" cy="861.3" r="3.2" fill="#00ff00"/>
<circle cx="232.5" cy="861.3" r="3.2" fill="#00ff00"/>
<circle cx="241.5" cy="861.3" r="3.2" fill="#00ff00"/>
<circle cx="250.5" cy="861.3" r="3.2" fill="#00ff00"/>
<circle cx="295.5" cy="861.3" r="3.2" fill="#00ff00"/>
<circle cx="349.5" cy="861.3" r="3.2" fill="#00ff00"/>
<circle cx="358.5" cy="861.3" r="3.2" fill="#00ff00"/>
<circle cx="385.5" cy="861.3" r="3.2" fill="#00ff00"/>
<circle cx="394.5" cy="861.3" r="3.2" fill="#00ff00"/>
<circle cx="457.5" cy="861.3" r="3.2" fill="#00ff00"/>
<circle cx="466.5" cy="861.3" r="3.2" fill="#00ff00"/>
<circle cx="636.5" cy="861.3" r="3.2" fill="#00ff00"/>
<circle cx="645.5" cy="861.3" r="3.2" fill="#00ff00"/>
<circle cx="654.5" cy="861.3" r="3.2" fill="#00ff00"/>
<circle cx="663.5" cy="861.3" r="3.2" fill="#00ff00"/>
<circle cx="672.5" cy="861.3" r="3.2" fill="#00ff00"/>
<circle cx="681.5" cy="861.3" r="3.2" fill="#00ff00"/>
<circle cx="861.5" cy="861.3" r="3.2" fill="#00ff00"/>
<circle cx="869.5" cy="861.3" r="3.2" fill="#00ff00"/>
<circle cx="914.5" cy="861.3" r="3.2" fill="#00ff00"/>
<circle cx="923.5" cy="861.3" r="3.2" fill="#00ff00"/>
<circle cx="932.5" cy="861.3" r="3.2" fill="#00ff00"/>
<circle cx="1031.5" cy="861.3" r="3.2" fill="#00ff00"/>
<circle cx="1040.5" cy="861.3" r="3.2" fill="#00ff00"/>
<circle cx="1049.5" cy="861.3" r="3.2" fill="#00ff00"/>
<circle cx="1058.5" cy="861.3" r="3.2" fill="#00ff00"/>
<circle cx="1067.5" cy="861.3" r="3.2" fill="#00ff00"/>
<circle cx="1076.5" cy="861.3" r="3.2" fill="#00ff00"/>
<circle cx="1085.5" cy="861.3" r="3.2" fill="#00ff00"/>
<circle cx="1094.5" cy="861.3" r="3.2" fill="#00ff00"/>
<circle cx="1103.5" cy="861.3" r="3.2" fill="#00ff00"/>
<circle cx="1112.5" cy="861.3" r="3.2" fill="#00ff00"/>
<circle cx="1148.5" cy="861.3" r="3.2" fill="#00ff00"/>
<circle cx="1157.5" cy="861.3" r="3.2" fill="#00ff00"/>
<circle cx="1229.5" cy="861.3" r="3.2" fill="#00ff00"/>
<circle cx="1247.5" cy="861.3" r="3.2" fill="#00ff00"/>
<circle cx="1256.5" cy="861.3" r="3.2" fill="#00ff00"/>
<circle cx="1265.5" cy="861.3" r="3.2" fill="#00ff00"/>
<circle cx="1336.5" cy="861.3" r="3.2" fill="#00ff00"/>
<circle cx="1345.5" cy="861.3" r="3.2" fill="#00ff00"/>
<circle cx="1462.5" cy="861.3" r="3.2" fill="#00ff00"/>
<circle cx="1480.5" cy="861.3" r="3.2" fill="#00ff00"/>
<circle cx="97.5" cy="861.3" r="3.2" fill="#000000"/>
<circle cx="106.5" cy="861.3" r="3.2" fill="#000000"/>
<circle cx="115.5" cy="861.3" r="3.2" fill="#000000"/>
<circle cx="124.5" cy="861.3" r="3.2" fill="#000000"/>
<circle cx="259.5" cy="861.3" r="3.2" fill="#000000"/>
<circle cx="268.5" cy="861.3" r="3.2" fill="#000000"/>
<circle cx="277.5" cy="861.3" r="3.2" fill="#000000"/>
<circle cx="286.5" cy="861.3" r="3.2" fill="#000000"/>
<circle cx="403.5" cy="861.3" r="3.2" fill="#000000"/>
<circle cx="412.5" cy="861.3" r="3.2" fill="#000000"/>
<circle cx="421.5" cy="861.3" r="3.2" fill="#000000"/>
<circle cx="430.5" cy="861.3" r="3.2" fill="#000000"/>
<circle cx="439.5" cy="861.3" r="3.2" fill="#000000"/>
<circle cx="448.5" cy="861.3" r="3.2" fill="#000000"/>
<circle cx="474.5" cy="861.3" r="3.2" fill="#000000"/>
<circle cx="573.5" cy="861.3" r="3.2" fill="#000000"/>
<circle cx="609.5" cy="861.3" r="3.2" fill="#000000"/>
<circle cx="618.5" cy="861.3" r="3.2" fill="#000000"/>
<circle cx="627.5" cy="861.3" r="3.2" fill="#000000"/>
<circle cx="690.5" cy="861.3" r="3.2" fill="#000000"/>
<circle cx="699.5" cy="861.3" r="3.2" fill="#000000"/>
<circle cx="708.5" cy="861.3" r="3.2" fill="#000000"/>
<circle cx="717.5" cy="861.3" r="3.2" fill="#000000"/>
<circle cx="726.5" cy="861.3" r="3.2" fill="#000000"/>
<circle cx="735.5" cy="861.3" r="3.2" fill="#000000"/>
<circle cx="744.5" cy="861.3" r="3.2" fill="#000000"/>
<circle cx="762.5" cy="861.3" r="3.2" fill="#000000"/>
<circle cx="843.5" cy="861.3" r="3.2" fill="#000000"/>
<circle cx="852.5" cy="861.3" r="3.2" fill="#000000"/>
<circle cx="941.5" cy="861.3" r="3.2" fill="#000000"/>
<circle cx="950.5" cy="861.3" r="3.2" fill="#000000"/>
<circle cx="959.5" cy="861.3" r="3.2" fill="#000000"/>
<circle cx="968.5" cy="861.3" r="3.2" fill="#000000"/>
<circle cx="977.5" cy="861.3" r="3.2" fill="#000000"/>
<circle cx="986.5" cy="861.3" r="3.2" fill="#000000"/>
<circle cx="995.5" cy="861.3" r="3.2" fill="#000000"/>
<circle cx="1004.5" cy="861.3" r="3.2" fill="#000000"/>
<circle cx="1013.5" cy="861.3" r="3.2" fill="#000000"/>
<circle cx="1022.5" cy="861.3" r="3.2" fill="#000000"/>
<circle cx="1166.5" cy="861.3" r="3.2" fill="#000000"/>
<circle cx="1175.5" cy="861.3" r="3.2" fill="#000000"/>
<circle cx="1184.5" cy="861.3" r="3.2" fill="#000000"/>
<circle cx="1193.5" cy="861.3" r="3.2" fill="#000000"/>
<circle cx="1202.5" cy="861.3" r="3.2" fill="#000000"/>
<circle cx="1211.5" cy="861.3" r="3.2" fill="#000000"/>
<circle cx="1220.5" cy="861.3" r="3.2" fill="#000000"/>
<circle cx="1238.5" cy="861.3" r="3.2" fill="#000000"/>
<circle cx="1354.5" cy="861.3" r="3.2" fill="#000000"/>
<circle cx="1471.5" cy="861.3" r="3.2" fill="#000000"/>
<circle cx="1489.5" cy="861.3" r="3.2" fill="#000000"/>
<circle cx="1498.5" cy="861.3" r="3.2" fill="#000000"/>
<circle cx="1507.5" cy="861.3" r="3.2" fill="#000000"/>
<circle cx="1516.5" cy="861.3" r="3.2" fill="#000000"/>
<circle cx="1525.5" cy="861.3" r="3.2" fill="#000000"/>
<circle cx="1534.5" cy="861.3" r="3.2" fill="#000000"/>
<circle cx="1615.5" cy="861.3" r="3.2" fill="#000000"/>
<circle cx="1624.5" cy="861.3" r="3.2" fill="#000000"/>
<circle cx="1633.5" cy="861.3" r="3.2" fill="#000000"/>
<circle cx="1642.5" cy="861.3" r="3.2" fill="#000000"/>
<circle cx="1651.5" cy="861.3" r="3.2" fill="#000000"/>
<circle cx="1668.5" cy="861.3" r="3.2" fill="#000000"/>
<circle cx="1677.5" cy="861.3" r="3.2" fill="#000000"/>
<circle cx="1767.5" cy="861.3" r="3.2" fill="#000000"/>
<circle cx="1776.5" cy="861.3" r="3.2" fill="#000000"/>
<circle cx="1785.5" cy="861.3" r="3.2" fill="#000000"/>
<circle cx="1794.5" cy="861.3" r="3.2" fill="#000000"/>
<circle cx="1803.5" cy="861.3" r="3.2" fill="#000000"/>
<circle cx="1812.5" cy="861.3" r="3.2" fill="#000000"/>
<circle cx="1821.5" cy="861.3" r="3.2" fill="#000000"/>
<circle cx="483.5" cy="861.3" r="3.2" fill="#ff0000"/>
<circle cx="492.5" cy="861.3" r="3.2" fill="#ff0000"/>
<circle cx="501.5" cy="861.3" r="3.2" fill="#ff0000"/>
<circle cx="510.5" cy="861.3" r="3.2" fill="#ff0000"/>
<circle cx="519.5" cy="861.3" r="3.2" fill="#ff0000"/>
<circle cx="528.5" cy="861.3" r="3.2" fill="#ff0000"/>
<circle cx="537.5" cy="861.3" r="3.2" fill="#ff0000"/>
<circle cx="546.5" cy="861.3" r="3.2" fill="#ff0000"/>
<circle cx="555.5" cy="861.3" r="3.2" fill="#ff0000"/>
<circle cx="564.5" cy="861.3" r="3.2" fill="#ff0000"/>
<circle cx="582.5" cy="861.3" r="3.2" fill="#ff0000"/>
<circle cx="591.5" cy="861.3" r="3.2" fill="#ff0000"/>
<circle cx="600.5" cy="861.3" r="3.2" fill="#ff0000"/>
<circle cx="753.5" cy="861.3" r="3.2" fill="#ff0000"/>
<circle cx="771.5" cy="861.3" r="3.2" fill="#ff0000"/>
<circle cx="780.5" cy="861.3" r="3.2" fill="#ff0000"/>
<circle cx="807.5" cy="861.3" r="3.2" fill="#ff0000"/>
<circle cx="816.5" cy="861.3" r="3.2" fill="#ff0000"/>
<circle cx="825.5" cy="861.3" r="3.2" fill="#ff0000"/>
<circle cx="834.5" cy="861.3" r="3.2" fill="#ff0000"/>
<circle cx="1543.5" cy="861.3" r="3.2" fill="#ff0000"/>
<circle cx="1552.5" cy="861.3" r="3.2" fill="#ff0000"/>
<circle cx="1561.5" cy="861.3" r="3.2" fill="#ff0000"/>
<circle cx="1570.5" cy="861.3" r="3.2" fill="#ff0000"/>
<circle cx="1579.5" cy="861.3" r="3.2" fill="#ff0000"/>
<circle cx="1588.5" cy="861.3" r="3.2" fill="#ff0000"/>
<circle cx="1597.5" cy="861.3" r="3.2" fill="#ff0000"/>
<circle cx="1606.5" cy="861.3" r="3.2" fill="#ff0000"/>
<circle cx="1660.5" cy="861.3" r="3.2" fill="#ff0000"/>
<circle cx="1686.5" cy="861.3" r="3.2" fill="#ff0000"/>
<circle cx="1695.5" cy="861.3" r="3.2" fill="#ff0000"/>
<circle cx="1704.5" cy="861.3" r="3.2" fill="#ff0000"/>
<circle cx="1713.5" cy="861.3" r="3.2" fill="#ff0000"/>
<circle cx="1722.5" cy="861.3" r="3.2" fill="#ff0000"/>
<circle cx="1731.5" cy="861.3" r="3.2" fill="#ff0000"/>
<circle cx="1740.5" cy="861.3" r="3.2" fill="#ff0000"/>
<circle cx="1749.5" cy="861.3" r="3.2" fill="#ff0000"/>
<circle cx="1758.5" cy="861.3" r="3.2" fill="#ff0000"/>
<circle cx="1830.5" cy="861.3" r="3.2" fill="#ff0000"/>
<circle cx="1839.5" cy="861.3" r="3.2" fill="#ff0000"/>
<circle cx="1848.5" cy="861.3" r="3.2" fill="#ff0000"/>
<circle cx="1857.5" cy="861.3" r="3.2" fill="#ff0000"/>
<circle cx="1866.5" cy="861.3" r="3.2" fill="#ff0000"/>
<circle cx="187.5" cy="861.3" r="5.6" fill="#007000"/>
<circle cx="205.5" cy="861.3" r="5.6" fill="#007000"/>
<circle cx="304.5" cy="861.3" r="5.6" fill="#007000"/>
<circle cx="313.5" cy="861.3" r="5.6" fill="#007000"/>
<circle cx="322.5" cy="861.3" r="5.6" fill="#007000"/>
<circle cx="331.5" cy="861.3" r="5.6" fill="#007000"/>
<circle cx="340.5" cy="861.3" r="5.6" fill="#007000"/>
<circle cx="367.5" cy="861.3" r="5.6" fill="#007000"/>
<circle cx="376.5" cy="861.3" r="5.6" fill="#007000"/>
<circle cx="878.5" cy="861.3" r="5.6" fill="#007000"/>
<circle cx="887.5" cy="861.3" r="5.6" fill="#007000"/>
<circle cx="896.5" cy="861.3" r="5.6" fill="#007000"/>
<circle cx="905.5" cy="861.3" r="5.6" fill="#007000"/>
<circle cx="1121.5" cy="861.3" r="5.6" fill="#007000"/>
<circle cx="1130.5" cy="861.3" r="5.6" fill="#007000"/>
<circle cx="1139.5" cy="861.3" r="5.6" fill="#007000"/>
<circle cx="1273.5" cy="861.3" r="5.6" fill="#007000"/>
<circle cx="1282.5" cy="861.3" r="5.6" fill="#007000"/>
<circle cx="1291.5" cy="861.3" r="5.6" fill="#007000"/>
<circle cx="1300.5" cy="861.3" r="5.6" fill="#007000"/>
<circle cx="1309.5" cy="861.3" r="5.6" fill="#007000"/>
<circle cx="1318.5" cy="861.3" r="5.6" fill="#007000"/>
<circle cx="1327.5" cy="861.3" r="5.6" fill="#007000"/>
<circle cx="1363.5" cy="861.3" r="5.6" fill="#007000"/>
<circle cx="1372.5" cy="861.3" r="5.6" fill="#007000"/>
<circle cx="1381.5" cy="861.3" r="5.6" fill="#007000"/>
<circle cx="1390.5" cy="861.3" r="5.6" fill="#007000"/>
<circle cx="1399.5" cy="861.3" r="5.6" fill="#007000"/>
<circle cx="1408.5" cy="861.3" r="5.6" fill="#007000"/>
<circle cx="1417.5" cy="861.3" r="5.6" fill="#007000"/>
<circle cx="1426.5" cy="861.3" r="5.6" fill="#007000"/>
<circle cx="1435.5" cy="861.3" r="5.6" fill="#007000"/>
<circle cx="1444.5" cy="861.3" r="5.6" fill="#007000"/>
<circle cx="1453.5" cy="861.3" r="5.6" fill="#007000"/>
<circle cx="789.5" cy="861.3" r="5.6" fill="#7a0000"/>
<circle cx="798.5" cy="861.3" r="5.6" fill="#7a0000"/>
<g fill="#ffff00"><circle cx="97.5" cy="894.4" r="5.25"/><circle cx="106.5" cy="894.4" r="5.25"/><circle cx="115.5" cy="894.4" r="5.25"/><circle cx="259.5" cy="894.4" r="5.25"/><circle cx="268.5" cy="894.4" r="5.25"/><circle cx="277.5" cy="894.4" r="5.25"/><circle cx="403.5" cy="894.4" r="5.25"/><circle cx="412.5" cy="894.4" r="5.25"/><circle cx="421.5" cy="894.4" r="5.25"/><circle cx="430.5" cy="894.4" r="5.25"/><circle cx="474.5" cy="894.4" r="5.25"/><circle cx="618.5" cy="894.4" r="5.25"/><circle cx="627.5" cy="894.4" r="5.25"/><circle cx="690.5" cy="894.4" r="5.25"/><circle cx="699.5" cy="894.4" r="5.25"/><circle cx="708.5" cy="894.4" r="5.25"/><circle cx="717.5" cy="894.4" r="5.25"/><circle cx="726.5" cy="894.4" r="5.25"/><circle cx="834.5" cy="894.4" r="5.25"/><circle cx="843.5" cy="894.4" r="5.25"/><circle cx="852.5" cy="894.4" r="5.25"/><circle cx="941.5" cy="894.4" r="5.25"/><circle cx="950.5" cy="894.4" r="5.25"/><circle cx="959.5" cy="894.4" r="5.25"/><circle cx="968.5" cy="894.4" r="5.25"/><circle cx="977.5" cy="894.4" r="5.25"/><circle cx="986.5" cy="894.4" r="5.25"/><circle cx="995.5" cy="894.4" r="5.25"/><circle cx="1004.5" cy="894.4" r="5.25"/><circle cx="1013.5" cy="894.4" r="5.25"/><circle cx="1166.5" cy="894.4" r="5.25"/><circle cx="1175.5" cy="894.4" r="5.25"/><circle cx="1184.5" cy="894.4" r="5.25"/><circle cx="1193.5" cy="894.4" r="5.25"/><circle cx="1202.5" cy="894.4" r="5.25"/><circle cx="1211.5" cy="894.4" r="5.25"/><circle cx="1336.5" cy="894.4" r="5.25"/><circle cx="1345.5" cy="894.4" r="5.25"/><circle cx="1354.5" cy="894.4" r="5.25"/><circle cx="1471.5" cy="894.4" r="5.25"/><circle cx="1480.5" cy="894.4" r="5.25"/><circle cx="1489.5" cy="894.4" r="5.25"/><circle cx="1498.5" cy="894.4" r="5.25"/><circle cx="1507.5" cy="894.4" r="5.25"/><circle cx="1516.5" cy="894.4" r="5.25"/><circle cx="1606.5" cy="894.4" r="5.25"/><circle cx="1615.5" cy="894.4" r="5.25"/><circle cx="1624.5" cy="894.4" r="5.25"/><circle cx="1633.5" cy="894.4" r="5.25"/><circle cx="1642.5" cy="894.4" r="5.25"/><circle cx="1651.5" cy="894.4" r="5.25"/><circle cx="1767.5" cy="894.4" r="5.25"/><circle cx="1776.5" cy="894.4" r="5.25"/><circle cx="1785.5" cy="894.4" r="5.25"/><circle cx="1794.5" cy="894.4" r="5.25"/><circle cx="1803.5" cy="894.4" r="5.25"/><circle cx="1812.5" cy="894.4" r="5.25"/></g>
<g fill="#00ff00"><circle cx="124.5" cy="894.4" r="5.25"/><circle cx="133.5" cy="894.4" r="5.25"/><circle cx="142.5" cy="894.4" r="5.25"/><circle cx="151.5" cy="894.4" r="5.25"/><circle cx="160.5" cy="894.4" r="5.25"/><circle cx="169.5" cy="894.4" r="5.25"/><circle cx="178.5" cy="894.4" r="5.25"/><circle cx="187.5" cy="894.4" r="5.25"/><circle cx="196.5" cy="894.4" r="5.25"/><circle cx="205.5" cy="894.4" r="5.25"/><circle cx="214.5" cy="894.4" r="5.25"/><circle cx="223.5" cy="894.4" r="5.25"/><circle cx="232.5" cy="894.4" r="5.25"/><circle cx="241.5" cy="894.4" r="5.25"/><circle cx="250.5" cy="894.4" r="5.25"/><circle cx="286.5" cy="894.4" r="5.25"/><circle cx="295.5" cy="894.4" r="5.25"/><circle cx="304.5" cy="894.4" r="5.25"/><circle cx="313.5" cy="894.4" r="5.25"/><circle cx="322.5" cy="894.4" r="5.25"/><circle cx="331.5" cy="894.4" r="5.25"/><circle cx="340.5" cy="894.4" r="5.25"/><circle cx="349.5" cy="894.4" r="5.25"/><circle cx="358.5" cy="894.4" r="5.25"/><circle cx="367.5" cy="894.4" r="5.25"/><circle cx="376.5" cy="894.4" r="5.25"/><circle cx="385.5" cy="894.4" r="5.25"/><circle cx="394.5" cy="894.4" r="5.25"/><circle cx="439.5" cy="894.4" r="5.25"/><circle cx="448.5" cy="894.4" r="5.25"/><circle cx="457.5" cy="894.4" r="5.25"/><circle cx="466.5" cy="894.4" r="5.25"/><circle cx="636.5" cy="894.4" r="5.25"/><circle cx="645.5" cy="894.4" r="5.25"/><circle cx="654.5" cy="894.4" r="5.25"/><circle cx="663.5" cy="894.4" r="5.25"/><circle cx="672.5" cy="894.4" r="5.25"/><circle cx="681.5" cy="894.4" r="5.25"/><circle cx="861.5" cy="894.4" r="5.25"/><circle cx="869.5" cy="894.4" r="5.25"/><circle cx="878.5" cy="894.4" r="5.25"/><circle cx="887.5" cy="894.4" r="5.25"/><circle cx="896.5" cy="894.4" r="5.25"/><circle cx="905.5" cy="894.4" r="5.25"/><circle cx="914.5" cy="894.4" r="5.25"/><circle cx="923.5" cy="894.4" r="5.25"/><circle cx="1022.5" cy="894.4" r="5.25"/><circle cx="1031.5" cy="894.4" r="5.25"/><circle cx="1040.5" cy="894.4" r="5.25"/><circle cx="1049.5" cy="894.4" r="5.25"/><circle cx="1058.5" cy="894.4" r="5.25"/><circle cx="1067.5" cy="894.4" r="5.25"/><circle cx="1076.5" cy="894.4" r="5.25"/><circle cx="1085.5" cy="894.4" r="5.25"/><circle cx="1094.5" cy="894.4" r="5.25"/><circle cx="1103.5" cy="894.4" r="5.25"/><circle cx="1112.5" cy="894.4" r="5.25"/><circle cx="1121.5" cy="894.4" r="5.25"/><circle cx="1130.5" cy="894.4" r="5.25"/><circle cx="1139.5" cy="894.4" r="5.25"/><circle cx="1148.5" cy="894.4" r="5.25"/><circle cx="1157.5" cy="894.4" r="5.25"/><circle cx="1220.5" cy="894.4" r="5.25"/><circle cx="1229.5" cy="894.4" r="5.25"/><circle cx="1238.5" cy="894.4" r="5.25"/><circle cx="1247.5" cy="894.4" r="5.25"/><circle cx="1256.5" cy="894.4" r="5.25"/><circle cx="1265.5" cy="894.4" r="5.25"/><circle cx="1273.5" cy="894.4" r="5.25"/><circle cx="1282.5" cy="894.4" r="5.25"/><circle cx="1291.5" cy="894.4" r="5.25"/><circle cx="1300.5" cy="894.4" r="5.25"/><circle cx="1309.5" cy="894.4" r="5.25"/><circle cx="1318.5" cy="894.4" r="5.25"/><circle cx="1327.5" cy="894.4" r="5.25"/><circle cx="1363.5" cy="894.4" r="5.25"/><circle cx="1372.5" cy="894.4" r="5.25"/><circle cx="1381.5" cy="894.4" r="5.25"/><circle cx="1390.5" cy="894.4" r="5.25"/><circle cx="1399.5" cy="894.4" r="5.25"/><circle cx="1408.5" cy="894.4" r="5.25"/><circle cx="1417.5" cy="894.4" r="5.25"/><circle cx="1426.5" cy="894.4" r="5.25"/><circle cx="1435.5" cy="894.4" r="5.25"/><circle cx="1444.5" cy="894.4" r="5.25"/><circle cx="1453.5" cy="894.4" r="5.25"/><circle cx="1462.5" cy="894.4" r="5.25"/></g>
<g fill="#ff0000"><circle cx="483.5" cy="894.4" r="5.25"/><circle cx="492.5" cy="894.4" r="5.25"/><circle cx="501.5" cy="894.4" r="5.25"/><circle cx="510.5" cy="894.4" r="5.25"/><circle cx="519.5" cy="894.4" r="5.25"/><circle cx="528.5" cy="894.4" r="5.25"/><circle cx="537.5" cy="894.4" r="5.25"/><circle cx="546.5" cy="894.4" r="5.25"/><circle cx="555.5" cy="894.4" r="5.25"/><circle cx="564.5" cy="894.4" r="5.25"/><circle cx="573.5" cy="894.4" r="5.25"/><circle cx="582.5" cy="894.4" r="5.25"/><circle cx="591.5" cy="894.4" r="5.25"/><circle cx="600.5" cy="894.4" r="5.25"/><circle cx="609.5" cy="894.4" r="5.25"/><circle cx="735.5" cy="894.4" r="5.25"/><circle cx="744.5" cy="894.4" r="5.25"/><circle cx="753.5" cy="894.4" r="5.25"/><circle cx="762.5" cy="894.4" r="5.25"/><circle cx="771.5" cy="894.4" r="5.25"/><circle cx="780.5" cy="894.4" r="5.25"/><circle cx="789.5" cy="894.4" r="5.25"/><circle cx="798.5" cy="894.4" r="5.25"/><circle cx="807.5" cy="894.4" r="5.25"/><circle cx="816.5" cy="894.4" r="5.25"/><circle cx="825.5" cy="894.4" r="5.25"/><circle cx="1525.5" cy="894.4" r="5.25"/><circle cx="1534.5" cy="894.4" r="5.25"/><circle cx="1543.5" cy="894.4" r="5.25"/><circle cx="1552.5" cy="894.4" r="5.25"/><circle cx="1561.5" cy="894.4" r="5.25"/><circle cx="1570.5" cy="894.4" r="5.25"/><circle cx="1579.5" cy="894.4" r="5.25"/><circle cx="1588.5" cy="894.4" r="5.25"/><circle cx="1597.5" cy="894.4" r="5.25"/><circle cx="1660.5" cy="894.4" r="5.25"/><circle cx="1668.5" cy="894.4" r="5.25"/><circle cx="1677.5" cy="894.4" r="5.25"/><circle cx="1686.5" cy="894.4" r="5.25"/><circle cx="1695.5" cy="894.4" r="5.25"/><circle cx="1704.5" cy="894.4" r="5.25"/><circle cx="1713.5" cy="894.4" r="5.25"/><circle cx="1722.5" cy="894.4" r="5.25"/><circle cx="1731.5" cy="894.4" r="5.25"/><circle cx="1740.5" cy="894.4" r="5.25"/><circle cx="1749.5" cy="894.4" r="5.25"/><circle cx="1758.5" cy="894.4" r="5.25"/><circle cx="1821.5" cy="894.4" r="5.25"/><circle cx="1830.5" cy="894.4" r="5.25"/><circle cx="1839.5" cy="894.4" r="5.25"/><circle cx="1848.5" cy="894.4" r="5.25"/><circle cx="1857.5" cy="894.4" r="5.25"/><circle cx="1866.5" cy="894.4" r="5.25"/></g>
<g fill="#00ff00"><circle cx="97.5" cy="908.5" r="5.25"/><circle cx="106.5" cy="908.5" r="5.25"/><circle cx="115.5" cy="908.5" r="5.25"/><circle cx="124.5" cy="908.5" r="5.25"/><circle cx="133.5" cy="908.5" r="5.25"/><circle cx="142.5" cy="908.5" r="5.25"/><circle cx="169.5" cy="908.5" r="5.25"/><circle cx="178.5" cy="908.5" r="5.25"/><circle cx="187.5" cy="908.5" r="5.25"/><circle cx="196.5" cy="908.5" r="5.25"/><circle cx="205.5" cy="908.5" r="5.25"/><circle cx="304.5" cy="908.5" r="5.25"/><circle cx="313.5" cy="908.5" r="5.25"/><circle cx="322.5" cy="908.5" r="5.25"/><circle cx="331.5" cy="908.5" r="5.25"/><circle cx="394.5" cy="908.5" r="5.25"/><circle cx="457.5" cy="908.5" r="5.25"/><circle cx="466.5" cy="908.5" r="5.25"/><circle cx="537.5" cy="908.5" r="5.25"/><circle cx="609.5" cy="908.5" r="5.25"/><circle cx="618.5" cy="908.5" r="5.25"/><circle cx="627.5" cy="908.5" r="5.25"/><circle cx="636.5" cy="908.5" r="5.25"/><circle cx="645.5" cy="908.5" r="5.25"/><circle cx="654.5" cy="908.5" r="5.25"/><circle cx="825.5" cy="908.5" r="5.25"/><circle cx="834.5" cy="908.5" r="5.25"/><circle cx="843.5" cy="908.5" r="5.25"/><circle cx="852.5" cy="908.5" r="5.25"/><circle cx="861.5" cy="908.5" r="5.25"/><circle cx="869.5" cy="908.5" r="5.25"/><circle cx="878.5" cy="908.5" r="5.25"/><circle cx="887.5" cy="908.5" r="5.25"/><circle cx="896.5" cy="908.5" r="5.25"/><circle cx="1004.5" cy="908.5" r="5.25"/><circle cx="1013.5" cy="908.5" r="5.25"/><circle cx="1022.5" cy="908.5" r="5.25"/><circle cx="1031.5" cy="908.5" r="5.25"/><circle cx="1040.5" cy="908.5" r="5.25"/><circle cx="1076.5" cy="908.5" r="5.25"/><circle cx="1085.5" cy="908.5" r="5.25"/><circle cx="1094.5" cy="908.5" r="5.25"/><circle cx="1139.5" cy="908.5" r="5.25"/><circle cx="1148.5" cy="908.5" r="5.25"/><circle cx="1220.5" cy="908.5" r="5.25"/><circle cx="1229.5" cy="908.5" r="5.25"/><circle cx="1238.5" cy="908.5" r="5.25"/><circle cx="1256.5" cy="908.5" r="5.25"/><circle cx="1265.5" cy="908.5" r="5.25"/><circle cx="1273.5" cy="908.5" r="5.25"/><circle cx="1282.5" cy="908.5" r="5.25"/><circle cx="1291.5" cy="908.5" r="5.25"/><circle cx="1300.5" cy="908.5" r="5.25"/><circle cx="1309.5" cy="908.5" r="5.25"/><circle cx="1318.5" cy="908.5" r="5.25"/><circle cx="1372.5" cy="908.5" r="5.25"/><circle cx="1381.5" cy="908.5" r="5.25"/><circle cx="1390.5" cy="908.5" r="5.25"/><circle cx="1399.5" cy="908.5" r="5.25"/><circle cx="1408.5" cy="908.5" r="5.25"/><circle cx="1417.5" cy="908.5" r="5.25"/><circle cx="1426.5" cy="908.5" r="5.25"/><circle cx="1435.5" cy="908.5" r="5.25"/><circle cx="1444.5" cy="908.5" r="5.25"/><circle cx="1615.5" cy="908.5" r="5.25"/><circle cx="1624.5" cy="908.5" r="5.25"/><circle cx="1633.5" cy="908.5" r="5.25"/><circle cx="1642.5" cy="908.5" r="5.25"/><circle cx="1731.5" cy="908.5" r="5.25"/><circle cx="1740.5" cy="908.5" r="5.25"/><circle cx="1749.5" cy="908.5" r="5.25"/><circle cx="1758.5" cy="908.5" r="5.25"/><circle cx="1776.5" cy="908.5" r="5.25"/><circle cx="1785.5" cy="908.5" r="5.25"/><circle cx="1794.5" cy="908.5" r="5.25"/><circle cx="1803.5" cy="908.5" r="5.25"/></g>
<g fill="#000000"><circle cx="151.5" cy="908.5" r="5.25"/><circle cx="160.5" cy="908.5" r="5.25"/><circle cx="214.5" cy="908.5" r="5.25"/><circle cx="223.5" cy="908.5" r="5.25"/><circle cx="241.5" cy="908.5" r="5.25"/><circle cx="286.5" cy="908.5" r="5.25"/><circle cx="295.5" cy="908.5" r="5.25"/><circle cx="340.5" cy="908.5" r="5.25"/><circle cx="349.5" cy="908.5" r="5.25"/><circle cx="439.5" cy="908.5" r="5.25"/><circle cx="448.5" cy="908.5" r="5.25"/><circle cx="528.5" cy="908.5" r="5.25"/><circle cx="546.5" cy="908.5" r="5.25"/><circle cx="555.5" cy="908.5" r="5.25"/><circle cx="600.5" cy="908.5" r="5.25"/><circle cx="663.5" cy="908.5" r="5.25"/><circle cx="672.5" cy="908.5" r="5.25"/><circle cx="717.5" cy="908.5" r="5.25"/><circle cx="726.5" cy="908.5" r="5.25"/><circle cx="762.5" cy="908.5" r="5.25"/><circle cx="807.5" cy="908.5" r="5.25"/><circle cx="816.5" cy="908.5" r="5.25"/><circle cx="905.5" cy="908.5" r="5.25"/><circle cx="914.5" cy="908.5" r="5.25"/><circle cx="959.5" cy="908.5" r="5.25"/><circle cx="986.5" cy="908.5" r="5.25"/><circle cx="995.5" cy="908.5" r="5.25"/><circle cx="1049.5" cy="908.5" r="5.25"/><circle cx="1058.5" cy="908.5" r="5.25"/><circle cx="1067.5" cy="908.5" r="5.25"/><circle cx="1103.5" cy="908.5" r="5.25"/><circle cx="1112.5" cy="908.5" r="5.25"/><circle cx="1121.5" cy="908.5" r="5.25"/><circle cx="1202.5" cy="908.5" r="5.25"/><circle cx="1211.5" cy="908.5" r="5.25"/><circle cx="1247.5" cy="908.5" r="5.25"/><circle cx="1327.5" cy="908.5" r="5.25"/><circle cx="1453.5" cy="908.5" r="5.25"/><circle cx="1462.5" cy="908.5" r="5.25"/><circle cx="1507.5" cy="908.5" r="5.25"/><circle cx="1516.5" cy="908.5" r="5.25"/><circle cx="1570.5" cy="908.5" r="5.25"/><circle cx="1579.5" cy="908.5" r="5.25"/><circle cx="1588.5" cy="908.5" r="5.25"/><circle cx="1597.5" cy="908.5" r="5.25"/><circle cx="1606.5" cy="908.5" r="5.25"/><circle cx="1704.5" cy="908.5" r="5.25"/><circle cx="1713.5" cy="908.5" r="5.25"/><circle cx="1722.5" cy="908.5" r="5.25"/><circle cx="1767.5" cy="908.5" r="5.25"/><circle cx="1812.5" cy="908.5" r="5.25"/><circle cx="1821.5" cy="908.5" r="5.25"/><circle cx="1866.5" cy="908.5" r="5.25"/></g>
<g fill="#ff0000"><circle cx="232.5" cy="908.5" r="5.25"/><circle cx="250.5" cy="908.5" r="5.25"/><circle cx="259.5" cy="908.5" r="5.25"/><circle cx="268.5" cy="908.5" r="5.25"/><circle cx="277.5" cy="908.5" r="5.25"/><circle cx="358.5" cy="908.5" r="5.25"/><circle cx="367.5" cy="908.5" r="5.25"/><circle cx="376.5" cy="908.5" r="5.25"/><circle cx="385.5" cy="908.5" r="5.25"/><circle cx="403.5" cy="908.5" r="5.25"/><circle cx="412.5" cy="908.5" r="5.25"/><circle cx="421.5" cy="908.5" r="5.25"/><circle cx="430.5" cy="908.5" r="5.25"/><circle cx="474.5" cy="908.5" r="5.25"/><circle cx="483.5" cy="908.5" r="5.25"/><circle cx="492.5" cy="908.5" r="5.25"/><circle cx="501.5" cy="908.5" r="5.25"/><circle cx="510.5" cy="908.5" r="5.25"/><circle cx="519.5" cy="908.5" r="5.25"/><circle cx="564.5" cy="908.5" r="5.25"/><circle cx="573.5" cy="908.5" r="5.25"/><circle cx="582.5" cy="908.5" r="5.25"/><circle cx="591.5" cy="908.5" r="5.25"/><circle cx="681.5" cy="908.5" r="5.25"/><circle cx="690.5" cy="908.5" r="5.25"/><circle cx="699.5" cy="908.5" r="5.25"/><circle cx="708.5" cy="908.5" r="5.25"/><circle cx="735.5" cy="908.5" r="5.25"/><circle cx="744.5" cy="908.5" r="5.25"/><circle cx="753.5" cy="908.5" r="5.25"/><circle cx="771.5" cy="908.5" r="5.25"/><circle cx="780.5" cy="908.5" r="5.25"/><circle cx="789.5" cy="908.5" r="5.25"/><circle cx="798.5" cy="908.5" r="5.25"/><circle cx="923.5" cy="908.5" r="5.25"/><circle cx="932.5" cy="908.5" r="5.25"/><circle cx="941.5" cy="908.5" r="5.25"/><circle cx="950.5" cy="908.5" r="5.25"/><circle cx="968.5" cy="908.5" r="5.25"/><circle cx="977.5" cy="908.5" r="5.25"/><circle cx="1130.5" cy="908.5" r="5.25"/><circle cx="1157.5" cy="908.5" r="5.25"/><circle cx="1166.5" cy="908.5" r="5.25"/><circle cx="1175.5" cy="908.5" r="5.25"/><circle cx="1184.5" cy="908.5" r="5.25"/><circle cx="1193.5" cy="908.5" r="5.25"/><circle cx="1336.5" cy="908.5" r="5.25"/><circle cx="1345.5" cy="908.5" r="5.25"/><circle cx="1354.5" cy="908.5" r="5.25"/><circle cx="1363.5" cy="908.5" r="5.25"/><circle cx="1471.5" cy="908.5" r="5.25"/><circle cx="1480.5" cy="908.5" r="5.25"/><circle cx="1489.5" cy="908.5" r="5.25"/><circle cx="1498.5" cy="908.5" r="5.25"/><circle cx="1525.5" cy="908.5" r="5.25"/><circle cx="1534.5" cy="908.5" r="5.25"/><circle cx="1543.5" cy="908.5" r="5.25"/><circle cx="1552.5" cy="908.5" r="5.25"/><circle cx="1561.5" cy="908.5" r="5.25"/><circle cx="1651.5" cy="908.5" r="5.25"/><circle cx="1660.5" cy="908.5" r="5.25"/><circle cx="1668.5" cy="908.5" r="5.25"/><circle cx="1677.5" cy="908.5" r="5.25"/><circle cx="1686.5" cy="908.5" r="5.25"/><circle cx="1695.5" cy="908.5" r="5.25"/><circle cx="1830.5" cy="908.5" r="5.25"/><circle cx="1839.5" cy="908.5" r="5.25"/><circle cx="1848.5" cy="908.5" r="5.25"/><circle cx="1857.5" cy="908.5" r="5.25"/></g>
<g fill="#00ff00"><circle cx="169.5" cy="921.6" r="5.25"/><circle cx="178.5" cy="921.6" r="5.25"/><circle cx="187.5" cy="921.6" r="5.25"/><circle cx="196.5" cy="921.6" r="5.25"/><circle cx="205.5" cy="921.6" r="5.25"/><circle cx="214.5" cy="921.6" r="5.25"/><circle cx="223.5" cy="921.6" r="5.25"/><circle cx="232.5" cy="921.6" r="5.25"/><circle cx="241.5" cy="921.6" r="5.25"/><circle cx="250.5" cy="921.6" r="5.25"/><circle cx="259.5" cy="921.6" r="5.25"/><circle cx="268.5" cy="921.6" r="5.25"/><circle cx="277.5" cy="921.6" r="5.25"/><circle cx="286.5" cy="921.6" r="5.25"/><circle cx="295.5" cy="921.6" r="5.25"/><circle cx="304.5" cy="921.6" r="5.25"/><circle cx="313.5" cy="921.6" r="5.25"/><circle cx="322.5" cy="921.6" r="5.25"/><circle cx="331.5" cy="921.6" r="5.25"/><circle cx="340.5" cy="921.6" r="5.25"/><circle cx="349.5" cy="921.6" r="5.25"/><circle cx="358.5" cy="921.6" r="5.25"/><circle cx="367.5" cy="921.6" r="5.25"/><circle cx="376.5" cy="921.6" r="5.25"/><circle cx="385.5" cy="921.6" r="5.25"/><circle cx="394.5" cy="921.6" r="5.25"/><circle cx="403.5" cy="921.6" r="5.25"/><circle cx="412.5" cy="921.6" r="5.25"/><circle cx="421.5" cy="921.6" r="5.25"/><circle cx="430.5" cy="921.6" r="5.25"/><circle cx="439.5" cy="921.6" r="5.25"/><circle cx="448.5" cy="921.6" r="5.25"/><circle cx="457.5" cy="921.6" r="5.25"/><circle cx="466.5" cy="921.6" r="5.25"/><circle cx="474.5" cy="921.6" r="5.25"/><circle cx="483.5" cy="921.6" r="5.25"/><circle cx="492.5" cy="921.6" r="5.25"/><circle cx="501.5" cy="921.6" r="5.25"/><circle cx="510.5" cy="921.6" r="5.25"/><circle cx="519.5" cy="921.6" r="5.25"/><circle cx="528.5" cy="921.6" r="5.25"/><circle cx="537.5" cy="921.6" r="5.25"/><circle cx="546.5" cy="921.6" r="5.25"/><circle cx="555.5" cy="921.6" r="5.25"/><circle cx="564.5" cy="921.6" r="5.25"/><circle cx="573.5" cy="921.6" r="5.25"/><circle cx="582.5" cy="921.6" r="5.25"/><circle cx="591.5" cy="921.6" r="5.25"/><circle cx="600.5" cy="921.6" r="5.25"/><circle cx="609.5" cy="921.6" r="5.25"/><circle cx="618.5" cy="921.6" r="5.25"/><circle cx="627.5" cy="921.6" r="5.25"/><circle cx="636.5" cy="921.6" r="5.25"/><circle cx="645.5" cy="921.6" r="5.25"/><circle cx="654.5" cy="921.6" r="5.25"/><circle cx="663.5" cy="921.6" r="5.25"/><circle cx="672.5" cy="921.6" r="5.25"/><circle cx="681.5" cy="921.6" r="5.25"/><circle cx="690.5" cy="921.6" r="5.25"/><circle cx="699.5" cy="921.6" r="5.25"/><circle cx="708.5" cy="921.6" r="5.25"/><circle cx="717.5" cy="921.6" r="5.25"/><circle cx="726.5" cy="921.6" r="5.25"/><circle cx="878.5" cy="921.6" r="5.25"/><circle cx="887.5" cy="921.6" r="5.25"/><circle cx="896.5" cy="921.6" r="5.25"/><circle cx="905.5" cy="921.6" r="5.25"/><circle cx="914.5" cy="921.6" r="5.25"/><circle cx="923.5" cy="921.6" r="5.25"/><circle cx="932.5" cy="921.6" r="5.25"/><circle cx="941.5" cy="921.6" r="5.25"/><circle cx="950.5" cy="921.6" r="5.25"/><circle cx="959.5" cy="921.6" r="5.25"/><circle cx="968.5" cy="921.6" r="5.25"/><circle cx="977.5" cy="921.6" r="5.25"/><circle cx="986.5" cy="921.6" r="5.25"/><circle cx="995.5" cy="921.6" r="5.25"/><circle cx="1004.5" cy="921.6" r="5.25"/><circle cx="1013.5" cy="921.6" r="5.25"/><circle cx="1022.5" cy="921.6" r="5.25"/><circle cx="1031.5" cy="921.6" r="5.25"/><circle cx="1040.5" cy="921.6" r="5.25"/><circle cx="1049.5" cy="921.6" r="5.25"/><circle cx="1058.5" cy="921.6" r="5.25"/><circle cx="1067.5" cy="921.6" r="5.25"/><circle cx="1076.5" cy="921.6" r="5.25"/><circle cx="1085.5" cy="921.6" r="5.25"/><circle cx="1094.5" cy="921.6" r="5.25"/><circle cx="1103.5" cy="921.6" r="5.25"/><circle cx="1112.5" cy="921.6" r="5.25"/><circle cx="1121.5" cy="921.6" r="5.25"/><circle cx="1130.5" cy="921.6" r="5.25"/><circle cx="1139.5" cy="921.6" r="5.25"/><circle cx="1148.5" cy="921.6" r="5.25"/><circle cx="1157.5" cy="921.6" r="5.25"/><circle cx="1166.5" cy="921.6" r="5.25"/><circle cx="1175.5" cy="921.6" r="5.25"/><circle cx="1184.5" cy="921.6" r="5.25"/><circle cx="1193.5" cy="921.6" r="5.25"/><circle cx="1202.5" cy="921.6" r="5.25"/><circle cx="1211.5" cy="921.6" r="5.25"/><circle cx="1220.5" cy="921.6" r="5.25"/><circle cx="1229.5" cy="921.6" r="5.25"/><circle cx="1238.5" cy="921.6" r="5.25"/><circle cx="1247.5" cy="921.6" r="5.25"/><circle cx="1256.5" cy="921.6" r="5.25"/><circle cx="1265.5" cy="921.6" r="5.25"/><circle cx="1273.5" cy="921.6" r="5.25"/><circle cx="1282.5" cy="921.6" r="5.25"/><circle cx="1291.5" cy="921.6" r="5.25"/><circle cx="1300.5" cy="921.6" r="5.25"/><circle cx="1309.5" cy="921.6" r="5.25"/><circle cx="1318.5" cy="921.6" r="5.25"/><circle cx="1327.5" cy="921.6" r="5.25"/><circle cx="1336.5" cy="921.6" r="5.25"/><circle cx="1345.5" cy="921.6" r="5.25"/><circle cx="1354.5" cy="921.6" r="5.25"/><circle cx="1363.5" cy="921.6" r="5.25"/><circle cx="1372.5" cy="921.6" r="5.25"/><circle cx="1381.5" cy="921.6" r="5.25"/><circle cx="1390.5" cy="921.6" r="5.25"/><circle cx="1399.5" cy="921.6" r="5.25"/><circle cx="1408.5" cy="921.6" r="5.25"/><circle cx="1417.5" cy="921.6" r="5.25"/><circle cx="1426.5" cy="921.6" r="5.25"/><circle cx="1435.5" cy="921.6" r="5.25"/><circle cx="1444.5" cy="921.6" r="5.25"/><circle cx="1453.5" cy="921.6" r="5.25"/><circle cx="1462.5" cy="921.6" r="5.25"/><circle cx="1471.5" cy="921.6" r="5.25"/><circle cx="1480.5" cy="921.6" r="5.25"/><circle cx="1489.5" cy="921.6" r="5.25"/><circle cx="1498.5" cy="921.6" r="5.25"/><circle cx="1507.5" cy="921.6" r="5.25"/><circle cx="1516.5" cy="921.6" r="5.25"/><circle cx="1525.5" cy="921.6" r="5.25"/><circle cx="1534.5" cy="921.6" r="5.25"/><circle cx="1543.5" cy="921.6" r="5.25"/><circle cx="1552.5" cy="921.6" r="5.25"/></g>
<g fill="#ff0000"><circle cx="97.5" cy="921.6" r="5.25"/><circle cx="106.5" cy="921.6" r="5.25"/><circle cx="115.5" cy="921.6" r="5.25"/><circle cx="124.5" cy="921.6" r="5.25"/><circle cx="133.5" cy="921.6" r="5.25"/><circle cx="142.5" cy="921.6" r="5.25"/><circle cx="151.5" cy="921.6" r="5.25"/><circle cx="160.5" cy="921.6" r="5.25"/><circle cx="735.5" cy="921.6" r="5.25"/><circle cx="744.5" cy="921.6" r="5.25"/><circle cx="753.5" cy="921.6" r="5.25"/><circle cx="762.5" cy="921.6" r="5.25"/><circle cx="771.5" cy="921.6" r="5.25"/><circle cx="780.5" cy="921.6" r="5.25"/><circle cx="789.5" cy="921.6" r="5.25"/><circle cx="798.5" cy="921.6" r="5.25"/><circle cx="807.5" cy="921.6" r="5.25"/><circle cx="816.5" cy="921.6" r="5.25"/><circle cx="825.5" cy="921.6" r="5.25"/><circle cx="834.5" cy="921.6" r="5.25"/><circle cx="843.5" cy="921.6" r="5.25"/><circle cx="852.5" cy="921.6" r="5.25"/><circle cx="861.5" cy="921.6" r="5.25"/><circle cx="869.5" cy="921.6" r="5.25"/><circle cx="1561.5" cy="921.6" r="5.25"/><circle cx="1570.5" cy="921.6" r="5.25"/><circle cx="1579.5" cy="921.6" r="5.25"/><circle cx="1588.5" cy="921.6" r="5.25"/><circle cx="1597.5" cy="921.6" r="5.25"/><circle cx="1606.5" cy="921.6" r="5.25"/><circle cx="1615.5" cy="921.6" r="5.25"/><circle cx="1624.5" cy="921.6" r="5.25"/><circle cx="1633.5" cy="921.6" r="5.25"/><circle cx="1642.5" cy="921.6" r="5.25"/><circle cx="1651.5" cy="921.6" r="5.25"/><circle cx="1660.5" cy="921.6" r="5.25"/><circle cx="1668.5" cy="921.6" r="5.25"/><circle cx="1677.5" cy="921.6" r="5.25"/><circle cx="1686.5" cy="921.6" r="5.25"/><circle cx="1695.5" cy="921.6" r="5.25"/><circle cx="1704.5" cy="921.6" r="5.25"/><circle cx="1713.5" cy="921.6" r="5.25"/><circle cx="1722.5" cy="921.6" r="5.25"/><circle cx="1731.5" cy="921.6" r="5.25"/><circle cx="1740.5" cy="921.6" r="5.25"/><circle cx="1749.5" cy="921.6" r="5.25"/><circle cx="1758.5" cy="921.6" r="5.25"/><circle cx="1767.5" cy="921.6" r="5.25"/><circle cx="1776.5" cy="921.6" r="5.25"/><circle cx="1785.5" cy="921.6" r="5.25"/><circle cx="1794.5" cy="921.6" r="5.25"/><circle cx="1803.5" cy="921.6" r="5.25"/><circle cx="1812.5" cy="921.6" r="5.25"/><circle cx="1821.5" cy="921.6" r="5.25"/><circle cx="1830.5" cy="921.6" r="5.25"/><circle cx="1839.5" cy="921.6" r="5.25"/><circle cx="1848.5" cy="921.6" r="5.25"/><circle cx="1857.5" cy="921.6" r="5.25"/><circle cx="1866.5" cy="921.6" r="5.25"/></g>
<g fill="#00ff00"><circle cx="151.5" cy="934.4" r="5.25"/><circle cx="160.5" cy="934.4" r="5.25"/><circle cx="169.5" cy="934.4" r="5.25"/><circle cx="178.5" cy="934.4" r="5.25"/><circle cx="187.5" cy="934.4" r="5.25"/><circle cx="196.5" cy="934.4" r="5.25"/><circle cx="205.5" cy="934.4" r="5.25"/><circle cx="214.5" cy="934.4" r="5.25"/><circle cx="223.5" cy="934.4" r="5.25"/><circle cx="232.5" cy="934.4" r="5.25"/><circle cx="241.5" cy="934.4" r="5.25"/><circle cx="250.5" cy="934.4" r="5.25"/><circle cx="304.5" cy="934.4" r="5.25"/><circle cx="313.5" cy="934.4" r="5.25"/><circle cx="322.5" cy="934.4" r="5.25"/><circle cx="331.5" cy="934.4" r="5.25"/><circle cx="340.5" cy="934.4" r="5.25"/><circle cx="349.5" cy="934.4" r="5.25"/><circle cx="358.5" cy="934.4" r="5.25"/><circle cx="367.5" cy="934.4" r="5.25"/><circle cx="376.5" cy="934.4" r="5.25"/><circle cx="385.5" cy="934.4" r="5.25"/><circle cx="394.5" cy="934.4" r="5.25"/><circle cx="654.5" cy="934.4" r="5.25"/><circle cx="663.5" cy="934.4" r="5.25"/><circle cx="672.5" cy="934.4" r="5.25"/><circle cx="681.5" cy="934.4" r="5.25"/><circle cx="690.5" cy="934.4" r="5.25"/><circle cx="699.5" cy="934.4" r="5.25"/><circle cx="869.5" cy="934.4" r="5.25"/><circle cx="878.5" cy="934.4" r="5.25"/><circle cx="887.5" cy="934.4" r="5.25"/><circle cx="896.5" cy="934.4" r="5.25"/><circle cx="905.5" cy="934.4" r="5.25"/><circle cx="914.5" cy="934.4" r="5.25"/><circle cx="923.5" cy="934.4" r="5.25"/><circle cx="932.5" cy="934.4" r="5.25"/><circle cx="1022.5" cy="934.4" r="5.25"/><circle cx="1031.5" cy="934.4" r="5.25"/><circle cx="1040.5" cy="934.4" r="5.25"/><circle cx="1049.5" cy="934.4" r="5.25"/><circle cx="1058.5" cy="934.4" r="5.25"/><circle cx="1067.5" cy="934.4" r="5.25"/><circle cx="1076.5" cy="934.4" r="5.25"/><circle cx="1085.5" cy="934.4" r="5.25"/><circle cx="1094.5" cy="934.4" r="5.25"/><circle cx="1103.5" cy="934.4" r="5.25"/><circle cx="1112.5" cy="934.4" r="5.25"/><circle cx="1121.5" cy="934.4" r="5.25"/><circle cx="1130.5" cy="934.4" r="5.25"/><circle cx="1139.5" cy="934.4" r="5.25"/><circle cx="1148.5" cy="934.4" r="5.25"/><circle cx="1157.5" cy="934.4" r="5.25"/><circle cx="1238.5" cy="934.4" r="5.25"/><circle cx="1247.5" cy="934.4" r="5.25"/><circle cx="1256.5" cy="934.4" r="5.25"/><circle cx="1265.5" cy="934.4" r="5.25"/><circle cx="1273.5" cy="934.4" r="5.25"/><circle cx="1282.5" cy="934.4" r="5.25"/><circle cx="1291.5" cy="934.4" r="5.25"/><circle cx="1300.5" cy="934.4" r="5.25"/><circle cx="1309.5" cy="934.4" r="5.25"/><circle cx="1318.5" cy="934.4" r="5.25"/><circle cx="1327.5" cy="934.4" r="5.25"/><circle cx="1336.5" cy="934.4" r="5.25"/><circle cx="1345.5" cy="934.4" r="5.25"/><circle cx="1381.5" cy="934.4" r="5.25"/><circle cx="1390.5" cy="934.4" r="5.25"/><circle cx="1399.5" cy="934.4" r="5.25"/><circle cx="1408.5" cy="934.4" r="5.25"/><circle cx="1417.5" cy="934.4" r="5.25"/><circle cx="1426.5" cy="934.4" r="5.25"/><circle cx="1435.5" cy="934.4" r="5.25"/><circle cx="1444.5" cy="934.4" r="5.25"/><circle cx="1453.5" cy="934.4" r="5.25"/><circle cx="1462.5" cy="934.4" r="5.25"/><circle cx="1471.5" cy="934.4" r="5.25"/></g>
<g fill="#000000"><circle cx="97.5" cy="934.4" r="5.25"/><circle cx="106.5" cy="934.4" r="5.25"/><circle cx="115.5" cy="934.4" r="5.25"/><circle cx="124.5" cy="934.4" r="5.25"/><circle cx="133.5" cy="934.4" r="5.25"/><circle cx="142.5" cy="934.4" r="5.25"/><circle cx="259.5" cy="934.4" r="5.25"/><circle cx="268.5" cy="934.4" r="5.25"/><circle cx="277.5" cy="934.4" r="5.25"/><circle cx="286.5" cy="934.4" r="5.25"/><circle cx="295.5" cy="934.4" r="5.25"/><circle cx="403.5" cy="934.4" r="5.25"/><circle cx="412.5" cy="934.4" r="5.25"/><circle cx="421.5" cy="934.4" r="5.25"/><circle cx="430.5" cy="934.4" r="5.25"/><circle cx="439.5" cy="934.4" r="5.25"/><circle cx="448.5" cy="934.4" r="5.25"/><circle cx="457.5" cy="934.4" r="5.25"/><circle cx="466.5" cy="934.4" r="5.25"/><circle cx="474.5" cy="934.4" r="5.25"/><circle cx="483.5" cy="934.4" r="5.25"/><circle cx="492.5" cy="934.4" r="5.25"/><circle cx="501.5" cy="934.4" r="5.25"/><circle cx="627.5" cy="934.4" r="5.25"/><circle cx="636.5" cy="934.4" r="5.25"/><circle cx="645.5" cy="934.4" r="5.25"/><circle cx="708.5" cy="934.4" r="5.25"/><circle cx="717.5" cy="934.4" r="5.25"/><circle cx="726.5" cy="934.4" r="5.25"/><circle cx="843.5" cy="934.4" r="5.25"/><circle cx="852.5" cy="934.4" r="5.25"/><circle cx="861.5" cy="934.4" r="5.25"/><circle cx="941.5" cy="934.4" r="5.25"/><circle cx="950.5" cy="934.4" r="5.25"/><circle cx="959.5" cy="934.4" r="5.25"/><circle cx="968.5" cy="934.4" r="5.25"/><circle cx="977.5" cy="934.4" r="5.25"/><circle cx="986.5" cy="934.4" r="5.25"/><circle cx="995.5" cy="934.4" r="5.25"/><circle cx="1004.5" cy="934.4" r="5.25"/><circle cx="1013.5" cy="934.4" r="5.25"/><circle cx="1166.5" cy="934.4" r="5.25"/><circle cx="1175.5" cy="934.4" r="5.25"/><circle cx="1184.5" cy="934.4" r="5.25"/><circle cx="1193.5" cy="934.4" r="5.25"/><circle cx="1202.5" cy="934.4" r="5.25"/><circle cx="1211.5" cy="934.4" r="5.25"/><circle cx="1220.5" cy="934.4" r="5.25"/><circle cx="1229.5" cy="934.4" r="5.25"/><circle cx="1354.5" cy="934.4" r="5.25"/><circle cx="1363.5" cy="934.4" r="5.25"/><circle cx="1372.5" cy="934.4" r="5.25"/><circle cx="1480.5" cy="934.4" r="5.25"/><circle cx="1489.5" cy="934.4" r="5.25"/><circle cx="1498.5" cy="934.4" r="5.25"/><circle cx="1507.5" cy="934.4" r="5.25"/><circle cx="1516.5" cy="934.4" r="5.25"/><circle cx="1525.5" cy="934.4" r="5.25"/><circle cx="1534.5" cy="934.4" r="5.25"/><circle cx="1543.5" cy="934.4" r="5.25"/><circle cx="1552.5" cy="934.4" r="5.25"/><circle cx="1633.5" cy="934.4" r="5.25"/><circle cx="1642.5" cy="934.4" r="5.25"/><circle cx="1651.5" cy="934.4" r="5.25"/><circle cx="1740.5" cy="934.4" r="5.25"/><circle cx="1749.5" cy="934.4" r="5.25"/><circle cx="1758.5" cy="934.4" r="5.25"/><circle cx="1767.5" cy="934.4" r="5.25"/><circle cx="1776.5" cy="934.4" r="5.25"/><circle cx="1785.5" cy="934.4" r="5.25"/><circle cx="1794.5" cy="934.4" r="5.25"/><circle cx="1803.5" cy="934.4" r="5.25"/><circle cx="1812.5" cy="934.4" r="5.25"/><circle cx="1821.5" cy="934.4" r="5.25"/><circle cx="1830.5" cy="934.4" r="5.25"/><circle cx="1839.5" cy="934.4" r="5.25"/></g>
<g fill="#ff0000"><circle cx="510.5" cy="934.4" r="5.25"/><circle cx="519.5" cy="934.4" r="5.25"/><circle cx="528.5" cy="934.4" r="5.25"/><circle cx="537.5" cy="934.4" r="5.25"/><circle cx="546.5" cy="934.4" r="5.25"/><circle cx="555.5" cy="934.4" r="5.25"/><circle cx="564.5" cy="934.4" r="5.25"/><circle cx="573.5" cy="934.4" r="5.25"/><circle cx="582.5" cy="934.4" r="5.25"/><circle cx="591.5" cy="934.4" r="5.25"/><circle cx="600.5" cy="934.4" r="5.25"/><circle cx="609.5" cy="934.4" r="5.25"/><circle cx="618.5" cy="934.4" r="5.25"/><circle cx="735.5" cy="934.4" r="5.25"/><circle cx="744.5" cy="934.4" r="5.25"/><circle cx="753.5" cy="934.4" r="5.25"/><circle cx="762.5" cy="934.4" r="5.25"/><circle cx="771.5" cy="934.4" r="5.25"/><circle cx="780.5" cy="934.4" r="5.25"/><circle cx="789.5" cy="934.4" r="5.25"/><circle cx="798.5" cy="934.4" r="5.25"/><circle cx="807.5" cy="934.4" r="5.25"/><circle cx="816.5" cy="934.4" r="5.25"/><circle cx="825.5" cy="934.4" r="5.25"/><circle cx="834.5" cy="934.4" r="5.25"/><circle cx="1561.5" cy="934.4" r="5.25"/><circle cx="1570.5" cy="934.4" r="5.25"/><circle cx="1579.5" cy="934.4" r="5.25"/><circle cx="1588.5" cy="934.4" r="5.25"/><circle cx="1597.5" cy="934.4" r="5.25"/><circle cx="1606.5" cy="934.4" r="5.25"/><circle cx="1615.5" cy="934.4" r="5.25"/><circle cx="1624.5" cy="934.4" r="5.25"/><circle cx="1660.5" cy="934.4" r="5.25"/><circle cx="1668.5" cy="934.4" r="5.25"/><circle cx="1677.5" cy="934.4" r="5.25"/><circle cx="1686.5" cy="934.4" r="5.25"/><circle cx="1695.5" cy="934.4" r="5.25"/><circle cx="1704.5" cy="934.4" r="5.25"/><circle cx="1713.5" cy="934.4" r="5.25"/><circle cx="1722.5" cy="934.4" r="5.25"/><circle cx="1731.5" cy="934.4" r="5.25"/><circle cx="1848.5" cy="934.4" r="5.25"/><circle cx="1857.5" cy="934.4" r="5.25"/><circle cx="1866.5" cy="934.4" r="5.25"/></g>
<g fill="#00ff00"><circle cx="124.5" cy="948.5" r="5.25"/><circle cx="133.5" cy="948.5" r="5.25"/><circle cx="142.5" cy="948.5" r="5.25"/><circle cx="151.5" cy="948.5" r="5.25"/><circle cx="160.5" cy="948.5" r="5.25"/><circle cx="169.5" cy="948.5" r="5.25"/><circle cx="178.5" cy="948.5" r="5.25"/><circle cx="187.5" cy="948.5" r="5.25"/><circle cx="196.5" cy="948.5" r="5.25"/><circle cx="205.5" cy="948.5" r="5.25"/><circle cx="214.5" cy="948.5" r="5.25"/><circle cx="223.5" cy="948.5" r="5.25"/><circle cx="313.5" cy="948.5" r="5.25"/><circle cx="322.5" cy="948.5" r="5.25"/><circle cx="331.5" cy="948.5" r="5.25"/><circle cx="340.5" cy="948.5" r="5.25"/><circle cx="349.5" cy="948.5" r="5.25"/><circle cx="358.5" cy="948.5" r="5.25"/><circle cx="367.5" cy="948.5" r="5.25"/><circle cx="376.5" cy="948.5" r="5.25"/><circle cx="636.5" cy="948.5" r="5.25"/><circle cx="645.5" cy="948.5" r="5.25"/><circle cx="654.5" cy="948.5" r="5.25"/><circle cx="663.5" cy="948.5" r="5.25"/><circle cx="672.5" cy="948.5" r="5.25"/><circle cx="681.5" cy="948.5" r="5.25"/><circle cx="861.5" cy="948.5" r="5.25"/><circle cx="869.5" cy="948.5" r="5.25"/><circle cx="878.5" cy="948.5" r="5.25"/><circle cx="887.5" cy="948.5" r="5.25"/><circle cx="896.5" cy="948.5" r="5.25"/><circle cx="905.5" cy="948.5" r="5.25"/><circle cx="914.5" cy="948.5" r="5.25"/><circle cx="923.5" cy="948.5" r="5.25"/><circle cx="932.5" cy="948.5" r="5.25"/><circle cx="1031.5" cy="948.5" r="5.25"/><circle cx="1040.5" cy="948.5" r="5.25"/><circle cx="1049.5" cy="948.5" r="5.25"/><circle cx="1058.5" cy="948.5" r="5.25"/><circle cx="1067.5" cy="948.5" r="5.25"/><circle cx="1076.5" cy="948.5" r="5.25"/><circle cx="1085.5" cy="948.5" r="5.25"/><circle cx="1094.5" cy="948.5" r="5.25"/><circle cx="1103.5" cy="948.5" r="5.25"/><circle cx="1112.5" cy="948.5" r="5.25"/><circle cx="1121.5" cy="948.5" r="5.25"/><circle cx="1130.5" cy="948.5" r="5.25"/><circle cx="1139.5" cy="948.5" r="5.25"/><circle cx="1148.5" cy="948.5" r="5.25"/><circle cx="1247.5" cy="948.5" r="5.25"/><circle cx="1256.5" cy="948.5" r="5.25"/><circle cx="1265.5" cy="948.5" r="5.25"/><circle cx="1273.5" cy="948.5" r="5.25"/><circle cx="1282.5" cy="948.5" r="5.25"/><circle cx="1291.5" cy="948.5" r="5.25"/><circle cx="1300.5" cy="948.5" r="5.25"/><circle cx="1309.5" cy="948.5" r="5.25"/><circle cx="1318.5" cy="948.5" r="5.25"/><circle cx="1327.5" cy="948.5" r="5.25"/><circle cx="1336.5" cy="948.5" r="5.25"/><circle cx="1345.5" cy="948.5" r="5.25"/><circle cx="1390.5" cy="948.5" r="5.25"/><circle cx="1399.5" cy="948.5" r="5.25"/><circle cx="1408.5" cy="948.5" r="5.25"/><circle cx="1417.5" cy="948.5" r="5.25"/><circle cx="1426.5" cy="948.5" r="5.25"/><circle cx="1435.5" cy="948.5" r="5.25"/><circle cx="1444.5" cy="948.5" r="5.25"/><circle cx="1453.5" cy="948.5" r="5.25"/><circle cx="1462.5" cy="948.5" r="5.25"/><circle cx="1471.5" cy="948.5" r="5.25"/><circle cx="1803.5" cy="948.5" r="5.25"/><circle cx="1812.5" cy="948.5" r="5.25"/><circle cx="1821.5" cy="948.5" r="5.25"/></g>
<g fill="#000000"><circle cx="97.5" cy="948.5" r="5.25"/><circle cx="106.5" cy="948.5" r="5.25"/><circle cx="115.5" cy="948.5" r="5.25"/><circle cx="232.5" cy="948.5" r="5.25"/><circle cx="241.5" cy="948.5" r="5.25"/><circle cx="250.5" cy="948.5" r="5.25"/><circle cx="259.5" cy="948.5" r="5.25"/><circle cx="268.5" cy="948.5" r="5.25"/><circle cx="277.5" cy="948.5" r="5.25"/><circle cx="304.5" cy="948.5" r="5.25"/><circle cx="385.5" cy="948.5" r="5.25"/><circle cx="394.5" cy="948.5" r="5.25"/><circle cx="403.5" cy="948.5" r="5.25"/><circle cx="412.5" cy="948.5" r="5.25"/><circle cx="421.5" cy="948.5" r="5.25"/><circle cx="430.5" cy="948.5" r="5.25"/><circle cx="439.5" cy="948.5" r="5.25"/><circle cx="448.5" cy="948.5" r="5.25"/><circle cx="457.5" cy="948.5" r="5.25"/><circle cx="466.5" cy="948.5" r="5.25"/><circle cx="474.5" cy="948.5" r="5.25"/><circle cx="483.5" cy="948.5" r="5.25"/><circle cx="555.5" cy="948.5" r="5.25"/><circle cx="564.5" cy="948.5" r="5.25"/><circle cx="573.5" cy="948.5" r="5.25"/><circle cx="582.5" cy="948.5" r="5.25"/><circle cx="591.5" cy="948.5" r="5.25"/><circle cx="600.5" cy="948.5" r="5.25"/><circle cx="609.5" cy="948.5" r="5.25"/><circle cx="618.5" cy="948.5" r="5.25"/><circle cx="627.5" cy="948.5" r="5.25"/><circle cx="690.5" cy="948.5" r="5.25"/><circle cx="699.5" cy="948.5" r="5.25"/><circle cx="708.5" cy="948.5" r="5.25"/><circle cx="717.5" cy="948.5" r="5.25"/><circle cx="726.5" cy="948.5" r="5.25"/><circle cx="834.5" cy="948.5" r="5.25"/><circle cx="843.5" cy="948.5" r="5.25"/><circle cx="852.5" cy="948.5" r="5.25"/><circle cx="941.5" cy="948.5" r="5.25"/><circle cx="950.5" cy="948.5" r="5.25"/><circle cx="959.5" cy="948.5" r="5.25"/><circle cx="968.5" cy="948.5" r="5.25"/><circle cx="1022.5" cy="948.5" r="5.25"/><circle cx="1157.5" cy="948.5" r="5.25"/><circle cx="1166.5" cy="948.5" r="5.25"/><circle cx="1175.5" cy="948.5" r="5.25"/><circle cx="1184.5" cy="948.5" r="5.25"/><circle cx="1193.5" cy="948.5" r="5.25"/><circle cx="1202.5" cy="948.5" r="5.25"/><circle cx="1229.5" cy="948.5" r="5.25"/><circle cx="1238.5" cy="948.5" r="5.25"/><circle cx="1354.5" cy="948.5" r="5.25"/><circle cx="1363.5" cy="948.5" r="5.25"/><circle cx="1372.5" cy="948.5" r="5.25"/><circle cx="1381.5" cy="948.5" r="5.25"/><circle cx="1480.5" cy="948.5" r="5.25"/><circle cx="1489.5" cy="948.5" r="5.25"/><circle cx="1498.5" cy="948.5" r="5.25"/><circle cx="1507.5" cy="948.5" r="5.25"/><circle cx="1516.5" cy="948.5" r="5.25"/><circle cx="1606.5" cy="948.5" r="5.25"/><circle cx="1615.5" cy="948.5" r="5.25"/><circle cx="1624.5" cy="948.5" r="5.25"/><circle cx="1633.5" cy="948.5" r="5.25"/><circle cx="1642.5" cy="948.5" r="5.25"/><circle cx="1651.5" cy="948.5" r="5.25"/><circle cx="1660.5" cy="948.5" r="5.25"/><circle cx="1668.5" cy="948.5" r="5.25"/><circle cx="1677.5" cy="948.5" r="5.25"/><circle cx="1686.5" cy="948.5" r="5.25"/><circle cx="1695.5" cy="948.5" r="5.25"/><circle cx="1767.5" cy="948.5" r="5.25"/><circle cx="1776.5" cy="948.5" r="5.25"/><circle cx="1785.5" cy="948.5" r="5.25"/><circle cx="1794.5" cy="948.5" r="5.25"/><circle cx="1830.5" cy="948.5" r="5.25"/></g>
<g fill="#ff0000"><circle cx="286.5" cy="948.5" r="5.25"/><circle cx="295.5" cy="948.5" r="5.25"/><circle cx="492.5" cy="948.5" r="5.25"/><circle cx="501.5" cy="948.5" r="5.25"/><circle cx="510.5" cy="948.5" r="5.25"/><circle cx="519.5" cy="948.5" r="5.25"/><circle cx="528.5" cy="948.5" r="5.25"/><circle cx="537.5" cy="948.5" r="5.25"/><circle cx="546.5" cy="948.5" r="5.25"/><circle cx="735.5" cy="948.5" r="5.25"/><circle cx="744.5" cy="948.5" r="5.25"/><circle cx="753.5" cy="948.5" r="5.25"/><circle cx="762.5" cy="948.5" r="5.25"/><circle cx="771.5" cy="948.5" r="5.25"/><circle cx="780.5" cy="948.5" r="5.25"/><circle cx="789.5" cy="948.5" r="5.25"/><circle cx="798.5" cy="948.5" r="5.25"/><circle cx="807.5" cy="948.5" r="5.25"/><circle cx="816.5" cy="948.5" r="5.25"/><circle cx="825.5" cy="948.5" r="5.25"/><circle cx="977.5" cy="948.5" r="5.25"/><circle cx="986.5" cy="948.5" r="5.25"/><circle cx="995.5" cy="948.5" r="5.25"/><circle cx="1004.5" cy="948.5" r="5.25"/><circle cx="1013.5" cy="948.5" r="5.25"/><circle cx="1211.5" cy="948.5" r="5.25"/><circle cx="1220.5" cy="948.5" r="5.25"/><circle cx="1525.5" cy="948.5" r="5.25"/><circle cx="1534.5" cy="948.5" r="5.25"/><circle cx="1543.5" cy="948.5" r="5.25"/><circle cx="1552.5" cy="948.5" r="5.25"/><circle cx="1561.5" cy="948.5" r="5.25"/><circle cx="1570.5" cy="948.5" r="5.25"/><circle cx="1579.5" cy="948.5" r="5.25"/><circle cx="1588.5" cy="948.5" r="5.25"/><circle cx="1597.5" cy="948.5" r="5.25"/><circle cx="1704.5" cy="948.5" r="5.25"/><circle cx="1713.5" cy="948.5" r="5.25"/><circle cx="1722.5" cy="948.5" r="5.25"/><circle cx="1731.5" cy="948.5" r="5.25"/><circle cx="1740.5" cy="948.5" r="5.25"/><circle cx="1749.5" cy="948.5" r="5.25"/><circle cx="1758.5" cy="948.5" r="5.25"/><circle cx="1839.5" cy="948.5" r="5.25"/><circle cx="1848.5" cy="948.5" r="5.25"/><circle cx="1857.5" cy="948.5" r="5.25"/><circle cx="1866.5" cy="948.5" r="5.25"/></g>
<g fill="#ffff00"><circle cx="151.5" cy="961.6" r="5.25"/><circle cx="160.5" cy="961.6" r="5.25"/><circle cx="654.5" cy="961.6" r="5.25"/><circle cx="663.5" cy="961.6" r="5.25"/><circle cx="672.5" cy="961.6" r="5.25"/><circle cx="869.5" cy="961.6" r="5.25"/><circle cx="878.5" cy="961.6" r="5.25"/></g>
<g fill="#00ff00"><circle cx="169.5" cy="961.6" r="5.25"/><circle cx="178.5" cy="961.6" r="5.25"/><circle cx="187.5" cy="961.6" r="5.25"/><circle cx="196.5" cy="961.6" r="5.25"/><circle cx="205.5" cy="961.6" r="5.25"/><circle cx="214.5" cy="961.6" r="5.25"/><circle cx="223.5" cy="961.6" r="5.25"/><circle cx="232.5" cy="961.6" r="5.25"/><circle cx="241.5" cy="961.6" r="5.25"/><circle cx="250.5" cy="961.6" r="5.25"/><circle cx="259.5" cy="961.6" r="5.25"/><circle cx="268.5" cy="961.6" r="5.25"/><circle cx="277.5" cy="961.6" r="5.25"/><circle cx="286.5" cy="961.6" r="5.25"/><circle cx="295.5" cy="961.6" r="5.25"/><circle cx="304.5" cy="961.6" r="5.25"/><circle cx="313.5" cy="961.6" r="5.25"/><circle cx="322.5" cy="961.6" r="5.25"/><circle cx="331.5" cy="961.6" r="5.25"/><circle cx="340.5" cy="961.6" r="5.25"/><circle cx="349.5" cy="961.6" r="5.25"/><circle cx="358.5" cy="961.6" r="5.25"/><circle cx="367.5" cy="961.6" r="5.25"/><circle cx="376.5" cy="961.6" r="5.25"/><circle cx="385.5" cy="961.6" r="5.25"/><circle cx="394.5" cy="961.6" r="5.25"/><circle cx="403.5" cy="961.6" r="5.25"/><circle cx="412.5" cy="961.6" r="5.25"/><circle cx="421.5" cy="961.6" r="5.25"/><circle cx="430.5" cy="961.6" r="5.25"/><circle cx="439.5" cy="961.6" r="5.25"/><circle cx="448.5" cy="961.6" r="5.25"/><circle cx="457.5" cy="961.6" r="5.25"/><circle cx="466.5" cy="961.6" r="5.25"/><circle cx="474.5" cy="961.6" r="5.25"/><circle cx="483.5" cy="961.6" r="5.25"/><circle cx="492.5" cy="961.6" r="5.25"/><circle cx="501.5" cy="961.6" r="5.25"/><circle cx="681.5" cy="961.6" r="5.25"/><circle cx="690.5" cy="961.6" r="5.25"/><circle cx="699.5" cy="961.6" r="5.25"/><circle cx="708.5" cy="961.6" r="5.25"/><circle cx="717.5" cy="961.6" r="5.25"/><circle cx="726.5" cy="961.6" r="5.25"/><circle cx="887.5" cy="961.6" r="5.25"/><circle cx="896.5" cy="961.6" r="5.25"/><circle cx="905.5" cy="961.6" r="5.25"/><circle cx="914.5" cy="961.6" r="5.25"/><circle cx="923.5" cy="961.6" r="5.25"/><circle cx="932.5" cy="961.6" r="5.25"/><circle cx="941.5" cy="961.6" r="5.25"/><circle cx="950.5" cy="961.6" r="5.25"/><circle cx="959.5" cy="961.6" r="5.25"/><circle cx="968.5" cy="961.6" r="5.25"/><circle cx="977.5" cy="961.6" r="5.25"/><circle cx="986.5" cy="961.6" r="5.25"/><circle cx="995.5" cy="961.6" r="5.25"/><circle cx="1004.5" cy="961.6" r="5.25"/><circle cx="1013.5" cy="961.6" r="5.25"/><circle cx="1022.5" cy="961.6" r="5.25"/><circle cx="1031.5" cy="961.6" r="5.25"/><circle cx="1040.5" cy="961.6" r="5.25"/><circle cx="1049.5" cy="961.6" r="5.25"/><circle cx="1058.5" cy="961.6" r="5.25"/><circle cx="1067.5" cy="961.6" r="5.25"/><circle cx="1076.5" cy="961.6" r="5.25"/><circle cx="1085.5" cy="961.6" r="5.25"/><circle cx="1094.5" cy="961.6" r="5.25"/><circle cx="1103.5" cy="961.6" r="5.25"/><circle cx="1112.5" cy="961.6" r="5.25"/><circle cx="1121.5" cy="961.6" r="5.25"/><circle cx="1130.5" cy="961.6" r="5.25"/><circle cx="1139.5" cy="961.6" r="5.25"/><circle cx="1148.5" cy="961.6" r="5.25"/><circle cx="1157.5" cy="961.6" r="5.25"/><circle cx="1166.5" cy="961.6" r="5.25"/><circle cx="1175.5" cy="961.6" r="5.25"/><circle cx="1184.5" cy="961.6" r="5.25"/><circle cx="1193.5" cy="961.6" r="5.25"/><circle cx="1202.5" cy="961.6" r="5.25"/><circle cx="1211.5" cy="961.6" r="5.25"/><circle cx="1220.5" cy="961.6" r="5.25"/><circle cx="1229.5" cy="961.6" r="5.25"/><circle cx="1238.5" cy="961.6" r="5.25"/><circle cx="1247.5" cy="961.6" r="5.25"/><circle cx="1256.5" cy="961.6" r="5.25"/><circle cx="1265.5" cy="961.6" r="5.25"/><circle cx="1273.5" cy="961.6" r="5.25"/><circle cx="1282.5" cy="961.6" r="5.25"/><circle cx="1291.5" cy="961.6" r="5.25"/><circle cx="1300.5" cy="961.6" r="5.25"/><circle cx="1309.5" cy="961.6" r="5.25"/><circle cx="1318.5" cy="961.6" r="5.25"/><circle cx="1327.5" cy="961.6" r="5.25"/><circle cx="1336.5" cy="961.6" r="5.25"/><circle cx="1345.5" cy="961.6" r="5.25"/><circle cx="1354.5" cy="961.6" r="5.25"/><circle cx="1363.5" cy="961.6" r="5.25"/><circle cx="1372.5" cy="961.6" r="5.25"/><circle cx="1381.5" cy="961.6" r="5.25"/><circle cx="1390.5" cy="961.6" r="5.25"/><circle cx="1399.5" cy="961.6" r="5.25"/><circle cx="1408.5" cy="961.6" r="5.25"/><circle cx="1417.5" cy="961.6" r="5.25"/><circle cx="1426.5" cy="961.6" r="5.25"/><circle cx="1435.5" cy="961.6" r="5.25"/><circle cx="1444.5" cy="961.6" r="5.25"/><circle cx="1453.5" cy="961.6" r="5.25"/><circle cx="1462.5" cy="961.6" r="5.25"/><circle cx="1471.5" cy="961.6" r="5.25"/><circle cx="1480.5" cy="961.6" r="5.25"/><circle cx="1489.5" cy="961.6" r="5.25"/><circle cx="1498.5" cy="961.6" r="5.25"/><circle cx="1507.5" cy="961.6" r="5.25"/><circle cx="1516.5" cy="961.6" r="5.25"/><circle cx="1525.5" cy="961.6" r="5.25"/><circle cx="1534.5" cy="961.6" r="5.25"/><circle cx="1543.5" cy="961.6" r="5.25"/><circle cx="1552.5" cy="961.6" r="5.25"/></g>
<g fill="#000000"><circle cx="510.5" cy="961.6" r="5.25"/><circle cx="519.5" cy="961.6" r="5.25"/><circle cx="528.5" cy="961.6" r="5.25"/><circle cx="735.5" cy="961.6" r="5.25"/><circle cx="1561.5" cy="961.6" r="5.25"/><circle cx="1570.5" cy="961.6" r="5.25"/></g>
<g fill="#ff0000"><circle cx="97.5" cy="961.6" r="5.25"/><circle cx="106.5" cy="961.6" r="5.25"/><circle cx="115.5" cy="961.6" r="5.25"/><circle cx="124.5" cy="961.6" r="5.25"/><circle cx="133.5" cy="961.6" r="5.25"/><circle cx="142.5" cy="961.6" r="5.25"/><circle cx="537.5" cy="961.6" r="5.25"/><circle cx="546.5" cy="961.6" r="5.25"/><circle cx="555.5" cy="961.6" r="5.25"/><circle cx="564.5" cy="961.6" r="5.25"/><circle cx="573.5" cy="961.6" r="5.25"/><circle cx="582.5" cy="961.6" r="5.25"/><circle cx="591.5" cy="961.6" r="5.25"/><circle cx="600.5" cy="961.6" r="5.25"/><circle cx="609.5" cy="961.6" r="5.25"/><circle cx="618.5" cy="961.6" r="5.25"/><circle cx="627.5" cy="961.6" r="5.25"/><circle cx="636.5" cy="961.6" r="5.25"/><circle cx="645.5" cy="961.6" r="5.25"/><circle cx="744.5" cy="961.6" r="5.25"/><circle cx="753.5" cy="961.6" r="5.25"/><circle cx="762.5" cy="961.6" r="5.25"/><circle cx="771.5" cy="961.6" r="5.25"/><circle cx="780.5" cy="961.6" r="5.25"/><circle cx="789.5" cy="961.6" r="5.25"/><circle cx="798.5" cy="961.6" r="5.25"/><circle cx="807.5" cy="961.6" r="5.25"/><circle cx="816.5" cy="961.6" r="5.25"/><circle cx="825.5" cy="961.6" r="5.25"/><circle cx="834.5" cy="961.6" r="5.25"/><circle cx="843.5" cy="961.6" r="5.25"/><circle cx="852.5" cy="961.6" r="5.25"/><circle cx="861.5" cy="961.6" r="5.25"/><circle cx="1579.5" cy="961.6" r="5.25"/><circle cx="1588.5" cy="961.6" r="5.25"/><circle cx="1597.5" cy="961.6" r="5.25"/><circle cx="1606.5" cy="961.6" r="5.25"/><circle cx="1615.5" cy="961.6" r="5.25"/><circle cx="1624.5" cy="961.6" r="5.25"/><circle cx="1633.5" cy="961.6" r="5.25"/><circle cx="1642.5" cy="961.6" r="5.25"/><circle cx="1651.5" cy="961.6" r="5.25"/><circle cx="1660.5" cy="961.6" r="5.25"/><circle cx="1668.5" cy="961.6" r="5.25"/><circle cx="1677.5" cy="961.6" r="5.25"/><circle cx="1686.5" cy="961.6" r="5.25"/><circle cx="1695.5" cy="961.6" r="5.25"/><circle cx="1704.5" cy="961.6" r="5.25"/><circle cx="1713.5" cy="961.6" r="5.25"/><circle cx="1722.5" cy="961.6" r="5.25"/><circle cx="1731.5" cy="961.6" r="5.25"/><circle cx="1740.5" cy="961.6" r="5.25"/><circle cx="1749.5" cy="961.6" r="5.25"/><circle cx="1758.5" cy="961.6" r="5.25"/><circle cx="1767.5" cy="961.6" r="5.25"/><circle cx="1776.5" cy="961.6" r="5.25"/><circle cx="1785.5" cy="961.6" r="5.25"/><circle cx="1794.5" cy="961.6" r="5.25"/><circle cx="1803.5" cy="961.6" r="5.25"/><circle cx="1812.5" cy="961.6" r="5.25"/><circle cx="1821.5" cy="961.6" r="5.25"/><circle cx="1830.5" cy="961.6" r="5.25"/><circle cx="1839.5" cy="961.6" r="5.25"/><circle cx="1848.5" cy="961.6" r="5.25"/><circle cx="1857.5" cy="961.6" r="5.25"/><circle cx="1866.5" cy="961.6" r="5.25"/></g>
<text x="756.1" y="883.8" font-size="14.5" fill="#131722" textLength="478.4" lengthAdjust="spacingAndGlyphs">Von oben: Status / Kerzenfarbe / Wolkenfarbe / Trend / Setter / Welle</text>
<text x="105.5" y="865.6" font-size="14.5" fill="#131722" textLength="271.7" lengthAdjust="spacingAndGlyphs">Croc 3.0 Lochstreifen - Professional (off)</text>
<text x="388.3" y="865.6" font-size="13.5" fill="#131722" textLength="8.2" lengthAdjust="spacingAndGlyphs">∅</text>
<text x="453.0" y="865.6" font-size="13.5" fill="#131722" textLength="8.2" lengthAdjust="spacingAndGlyphs">∅</text>
<text x="471.9" y="865.6" font-size="13.5" fill="#131722" textLength="8.2" lengthAdjust="spacingAndGlyphs">∅</text>
<text x="491.5" y="865.6" font-size="13.5" fill="#131722" textLength="8.2" lengthAdjust="spacingAndGlyphs">∅</text>
<text x="510.4" y="865.6" font-size="13.5" fill="#131722" textLength="8.2" lengthAdjust="spacingAndGlyphs">∅</text>
<text x="575.1" y="865.6" font-size="13.5" fill="#131722" textLength="8.2" lengthAdjust="spacingAndGlyphs">∅</text>
<text x="686.3" y="865.6" font-size="13.5" fill="#131722" textLength="8.2" lengthAdjust="spacingAndGlyphs">∅</text>
<text x="705.2" y="865.6" font-size="13.5" fill="#131722" textLength="8.2" lengthAdjust="spacingAndGlyphs">∅</text>
<text x="724.1" y="865.6" font-size="13.5" fill="#131722" textLength="8.2" lengthAdjust="spacingAndGlyphs">∅</text>
<text x="781.5" y="865.6" font-size="13.5" fill="#131722" textLength="8.2" lengthAdjust="spacingAndGlyphs">∅</text>
<text x="838.5" y="865.6" font-size="13.5" fill="#131722" textLength="8.2" lengthAdjust="spacingAndGlyphs">∅</text>
<text x="857.6" y="865.6" font-size="13.5" fill="#131722" textLength="8.2" lengthAdjust="spacingAndGlyphs">∅</text>
<text x="915.7" y="865.6" font-size="13.5" fill="#131722" textLength="8.2" lengthAdjust="spacingAndGlyphs">∅</text>
<text x="934.5" y="865.6" font-size="13.5" fill="#131722" textLength="8.2" lengthAdjust="spacingAndGlyphs">∅</text>
<text x="953.1" y="865.6" font-size="13.5" fill="#131722" textLength="8.2" lengthAdjust="spacingAndGlyphs">∅</text>
<text x="971.9" y="865.6" font-size="13.5" fill="#131722" textLength="8.2" lengthAdjust="spacingAndGlyphs">∅</text>
<text x="1028.6" y="865.6" font-size="13.5" fill="#131722" textLength="8.2" lengthAdjust="spacingAndGlyphs">∅</text>
<text x="1047.9" y="865.6" font-size="13.5" fill="#131722" textLength="8.2" lengthAdjust="spacingAndGlyphs">∅</text>
<text x="407.6" y="865.6" font-size="14.5" fill="#ff0000" textLength="35.7" lengthAdjust="spacingAndGlyphs">14,00</text>
<text x="530.5" y="865.6" font-size="14.5" fill="#000000" textLength="34.9" lengthAdjust="spacingAndGlyphs">10,50</text>
<text x="595.2" y="865.6" font-size="14.5" fill="#ffff00" textLength="35.2" lengthAdjust="spacingAndGlyphs">11,50</text>
<text x="641" y="865.6" font-size="14.5" fill="#ff0000" textLength="34.9" lengthAdjust="spacingAndGlyphs">11,50</text>
<text x="743.4" y="865.6" font-size="14.5" fill="#ff0000" textLength="27.7" lengthAdjust="spacingAndGlyphs">9,50</text>
<text x="800.9" y="865.6" font-size="14.5" fill="#ff0000" textLength="27.6" lengthAdjust="spacingAndGlyphs">2,50</text>
<text x="876.5" y="865.6" font-size="14.5" fill="#ff0000" textLength="27.6" lengthAdjust="spacingAndGlyphs">7,50</text>
<text x="991.3" y="865.6" font-size="14.5" fill="#ff0000" textLength="27.6" lengthAdjust="spacingAndGlyphs">6,50</text>
</g>
<clipPath id="c3"><rect x="95" y="974.5" width="1955" height="38.2"/></clipPath>
<g clip-path="url(#c3)">
<g fill="#00ff00"><circle cx="97.5" cy="984.2" r="5.25"/><circle cx="106.5" cy="984.2" r="5.25"/><circle cx="115.5" cy="984.2" r="5.25"/><circle cx="124.5" cy="984.2" r="5.25"/><circle cx="133.5" cy="984.2" r="5.25"/><circle cx="142.5" cy="984.2" r="5.25"/><circle cx="151.5" cy="984.2" r="5.25"/><circle cx="160.5" cy="984.2" r="5.25"/><circle cx="295.5" cy="984.2" r="5.25"/><circle cx="304.5" cy="984.2" r="5.25"/><circle cx="313.5" cy="984.2" r="5.25"/><circle cx="322.5" cy="984.2" r="5.25"/><circle cx="331.5" cy="984.2" r="5.25"/><circle cx="448.5" cy="984.2" r="5.25"/><circle cx="457.5" cy="984.2" r="5.25"/><circle cx="466.5" cy="984.2" r="5.25"/><circle cx="474.5" cy="984.2" r="5.25"/><circle cx="528.5" cy="984.2" r="5.25"/><circle cx="537.5" cy="984.2" r="5.25"/><circle cx="546.5" cy="984.2" r="5.25"/><circle cx="555.5" cy="984.2" r="5.25"/><circle cx="564.5" cy="984.2" r="5.25"/><circle cx="573.5" cy="984.2" r="5.25"/><circle cx="591.5" cy="984.2" r="5.25"/><circle cx="609.5" cy="984.2" r="5.25"/><circle cx="618.5" cy="984.2" r="5.25"/><circle cx="627.5" cy="984.2" r="5.25"/><circle cx="636.5" cy="984.2" r="5.25"/><circle cx="645.5" cy="984.2" r="5.25"/><circle cx="654.5" cy="984.2" r="5.25"/><circle cx="753.5" cy="984.2" r="5.25"/><circle cx="762.5" cy="984.2" r="5.25"/><circle cx="771.5" cy="984.2" r="5.25"/><circle cx="798.5" cy="984.2" r="5.25"/><circle cx="807.5" cy="984.2" r="5.25"/><circle cx="816.5" cy="984.2" r="5.25"/><circle cx="825.5" cy="984.2" r="5.25"/><circle cx="834.5" cy="984.2" r="5.25"/><circle cx="843.5" cy="984.2" r="5.25"/><circle cx="852.5" cy="984.2" r="5.25"/><circle cx="861.5" cy="984.2" r="5.25"/><circle cx="869.5" cy="984.2" r="5.25"/><circle cx="878.5" cy="984.2" r="5.25"/><circle cx="887.5" cy="984.2" r="5.25"/><circle cx="995.5" cy="984.2" r="5.25"/><circle cx="1004.5" cy="984.2" r="5.25"/><circle cx="1013.5" cy="984.2" r="5.25"/><circle cx="1022.5" cy="984.2" r="5.25"/><circle cx="1031.5" cy="984.2" r="5.25"/><circle cx="1040.5" cy="984.2" r="5.25"/><circle cx="1049.5" cy="984.2" r="5.25"/><circle cx="1058.5" cy="984.2" r="5.25"/><circle cx="1067.5" cy="984.2" r="5.25"/><circle cx="1076.5" cy="984.2" r="5.25"/><circle cx="1085.5" cy="984.2" r="5.25"/><circle cx="1121.5" cy="984.2" r="5.25"/><circle cx="1139.5" cy="984.2" r="5.25"/><circle cx="1220.5" cy="984.2" r="5.25"/><circle cx="1229.5" cy="984.2" r="5.25"/><circle cx="1238.5" cy="984.2" r="5.25"/><circle cx="1247.5" cy="984.2" r="5.25"/><circle cx="1256.5" cy="984.2" r="5.25"/><circle cx="1265.5" cy="984.2" r="5.25"/><circle cx="1273.5" cy="984.2" r="5.25"/><circle cx="1282.5" cy="984.2" r="5.25"/><circle cx="1291.5" cy="984.2" r="5.25"/><circle cx="1372.5" cy="984.2" r="5.25"/><circle cx="1381.5" cy="984.2" r="5.25"/><circle cx="1390.5" cy="984.2" r="5.25"/><circle cx="1399.5" cy="984.2" r="5.25"/><circle cx="1408.5" cy="984.2" r="5.25"/><circle cx="1417.5" cy="984.2" r="5.25"/><circle cx="1426.5" cy="984.2" r="5.25"/><circle cx="1435.5" cy="984.2" r="5.25"/><circle cx="1444.5" cy="984.2" r="5.25"/><circle cx="1597.5" cy="984.2" r="5.25"/><circle cx="1606.5" cy="984.2" r="5.25"/><circle cx="1615.5" cy="984.2" r="5.25"/><circle cx="1624.5" cy="984.2" r="5.25"/><circle cx="1633.5" cy="984.2" r="5.25"/><circle cx="1642.5" cy="984.2" r="5.25"/><circle cx="1722.5" cy="984.2" r="5.25"/><circle cx="1731.5" cy="984.2" r="5.25"/><circle cx="1740.5" cy="984.2" r="5.25"/><circle cx="1767.5" cy="984.2" r="5.25"/><circle cx="1776.5" cy="984.2" r="5.25"/><circle cx="1785.5" cy="984.2" r="5.25"/><circle cx="1794.5" cy="984.2" r="5.25"/><circle cx="1803.5" cy="984.2" r="5.25"/></g>
<g fill="#ff0000"><circle cx="169.5" cy="984.2" r="5.25"/><circle cx="178.5" cy="984.2" r="5.25"/><circle cx="187.5" cy="984.2" r="5.25"/><circle cx="196.5" cy="984.2" r="5.25"/><circle cx="205.5" cy="984.2" r="5.25"/><circle cx="214.5" cy="984.2" r="5.25"/><circle cx="223.5" cy="984.2" r="5.25"/><circle cx="232.5" cy="984.2" r="5.25"/><circle cx="241.5" cy="984.2" r="5.25"/><circle cx="250.5" cy="984.2" r="5.25"/><circle cx="259.5" cy="984.2" r="5.25"/><circle cx="268.5" cy="984.2" r="5.25"/><circle cx="277.5" cy="984.2" r="5.25"/><circle cx="286.5" cy="984.2" r="5.25"/><circle cx="340.5" cy="984.2" r="5.25"/><circle cx="349.5" cy="984.2" r="5.25"/><circle cx="358.5" cy="984.2" r="5.25"/><circle cx="367.5" cy="984.2" r="5.25"/><circle cx="376.5" cy="984.2" r="5.25"/><circle cx="385.5" cy="984.2" r="5.25"/><circle cx="394.5" cy="984.2" r="5.25"/><circle cx="403.5" cy="984.2" r="5.25"/><circle cx="412.5" cy="984.2" r="5.25"/><circle cx="421.5" cy="984.2" r="5.25"/><circle cx="430.5" cy="984.2" r="5.25"/><circle cx="439.5" cy="984.2" r="5.25"/><circle cx="483.5" cy="984.2" r="5.25"/><circle cx="492.5" cy="984.2" r="5.25"/><circle cx="501.5" cy="984.2" r="5.25"/><circle cx="510.5" cy="984.2" r="5.25"/><circle cx="519.5" cy="984.2" r="5.25"/><circle cx="582.5" cy="984.2" r="5.25"/><circle cx="600.5" cy="984.2" r="5.25"/><circle cx="663.5" cy="984.2" r="5.25"/><circle cx="672.5" cy="984.2" r="5.25"/><circle cx="681.5" cy="984.2" r="5.25"/><circle cx="690.5" cy="984.2" r="5.25"/><circle cx="699.5" cy="984.2" r="5.25"/><circle cx="708.5" cy="984.2" r="5.25"/><circle cx="717.5" cy="984.2" r="5.25"/><circle cx="726.5" cy="984.2" r="5.25"/><circle cx="735.5" cy="984.2" r="5.25"/><circle cx="744.5" cy="984.2" r="5.25"/><circle cx="780.5" cy="984.2" r="5.25"/><circle cx="789.5" cy="984.2" r="5.25"/><circle cx="896.5" cy="984.2" r="5.25"/><circle cx="905.5" cy="984.2" r="5.25"/><circle cx="914.5" cy="984.2" r="5.25"/><circle cx="923.5" cy="984.2" r="5.25"/><circle cx="932.5" cy="984.2" r="5.25"/><circle cx="941.5" cy="984.2" r="5.25"/><circle cx="950.5" cy="984.2" r="5.25"/><circle cx="959.5" cy="984.2" r="5.25"/><circle cx="968.5" cy="984.2" r="5.25"/><circle cx="977.5" cy="984.2" r="5.25"/><circle cx="986.5" cy="984.2" r="5.25"/><circle cx="1094.5" cy="984.2" r="5.25"/><circle cx="1103.5" cy="984.2" r="5.25"/><circle cx="1112.5" cy="984.2" r="5.25"/><circle cx="1130.5" cy="984.2" r="5.25"/><circle cx="1148.5" cy="984.2" r="5.25"/><circle cx="1157.5" cy="984.2" r="5.25"/><circle cx="1166.5" cy="984.2" r="5.25"/><circle cx="1175.5" cy="984.2" r="5.25"/><circle cx="1184.5" cy="984.2" r="5.25"/><circle cx="1193.5" cy="984.2" r="5.25"/><circle cx="1202.5" cy="984.2" r="5.25"/><circle cx="1211.5" cy="984.2" r="5.25"/><circle cx="1300.5" cy="984.2" r="5.25"/><circle cx="1309.5" cy="984.2" r="5.25"/><circle cx="1318.5" cy="984.2" r="5.25"/><circle cx="1327.5" cy="984.2" r="5.25"/><circle cx="1336.5" cy="984.2" r="5.25"/><circle cx="1345.5" cy="984.2" r="5.25"/><circle cx="1354.5" cy="984.2" r="5.25"/><circle cx="1363.5" cy="984.2" r="5.25"/><circle cx="1453.5" cy="984.2" r="5.25"/><circle cx="1462.5" cy="984.2" r="5.25"/><circle cx="1471.5" cy="984.2" r="5.25"/><circle cx="1480.5" cy="984.2" r="5.25"/><circle cx="1489.5" cy="984.2" r="5.25"/><circle cx="1498.5" cy="984.2" r="5.25"/><circle cx="1507.5" cy="984.2" r="5.25"/><circle cx="1516.5" cy="984.2" r="5.25"/><circle cx="1525.5" cy="984.2" r="5.25"/><circle cx="1534.5" cy="984.2" r="5.25"/><circle cx="1543.5" cy="984.2" r="5.25"/><circle cx="1552.5" cy="984.2" r="5.25"/><circle cx="1561.5" cy="984.2" r="5.25"/><circle cx="1570.5" cy="984.2" r="5.25"/><circle cx="1579.5" cy="984.2" r="5.25"/><circle cx="1588.5" cy="984.2" r="5.25"/><circle cx="1651.5" cy="984.2" r="5.25"/><circle cx="1660.5" cy="984.2" r="5.25"/><circle cx="1668.5" cy="984.2" r="5.25"/><circle cx="1677.5" cy="984.2" r="5.25"/><circle cx="1686.5" cy="984.2" r="5.25"/><circle cx="1695.5" cy="984.2" r="5.25"/><circle cx="1704.5" cy="984.2" r="5.25"/><circle cx="1713.5" cy="984.2" r="5.25"/><circle cx="1749.5" cy="984.2" r="5.25"/><circle cx="1758.5" cy="984.2" r="5.25"/><circle cx="1812.5" cy="984.2" r="5.25"/><circle cx="1821.5" cy="984.2" r="5.25"/><circle cx="1830.5" cy="984.2" r="5.25"/><circle cx="1839.5" cy="984.2" r="5.25"/><circle cx="1848.5" cy="984.2" r="5.25"/><circle cx="1857.5" cy="984.2" r="5.25"/><circle cx="1866.5" cy="984.2" r="5.25"/></g>
<g fill="#ff0000"><circle cx="133.5" cy="984.2" r="2.6"/><circle cx="142.5" cy="984.2" r="2.6"/><circle cx="151.5" cy="984.2" r="2.6"/><circle cx="160.5" cy="984.2" r="2.6"/><circle cx="313.5" cy="984.2" r="2.6"/><circle cx="322.5" cy="984.2" r="2.6"/><circle cx="331.5" cy="984.2" r="2.6"/><circle cx="869.5" cy="984.2" r="2.6"/><circle cx="878.5" cy="984.2" r="2.6"/><circle cx="887.5" cy="984.2" r="2.6"/><circle cx="1040.5" cy="984.2" r="2.6"/><circle cx="1049.5" cy="984.2" r="2.6"/><circle cx="1058.5" cy="984.2" r="2.6"/><circle cx="1067.5" cy="984.2" r="2.6"/><circle cx="1076.5" cy="984.2" r="2.6"/><circle cx="1085.5" cy="984.2" r="2.6"/><circle cx="1121.5" cy="984.2" r="2.6"/><circle cx="1139.5" cy="984.2" r="2.6"/><circle cx="1273.5" cy="984.2" r="2.6"/><circle cx="1282.5" cy="984.2" r="2.6"/><circle cx="1291.5" cy="984.2" r="2.6"/><circle cx="1417.5" cy="984.2" r="2.6"/><circle cx="1426.5" cy="984.2" r="2.6"/><circle cx="1435.5" cy="984.2" r="2.6"/><circle cx="1444.5" cy="984.2" r="2.6"/></g>
<g fill="#00ff00"><circle cx="510.5" cy="984.2" r="2.6"/><circle cx="519.5" cy="984.2" r="2.6"/><circle cx="600.5" cy="984.2" r="2.6"/><circle cx="726.5" cy="984.2" r="2.6"/><circle cx="735.5" cy="984.2" r="2.6"/><circle cx="744.5" cy="984.2" r="2.6"/><circle cx="780.5" cy="984.2" r="2.6"/><circle cx="789.5" cy="984.2" r="2.6"/><circle cx="968.5" cy="984.2" r="2.6"/><circle cx="977.5" cy="984.2" r="2.6"/><circle cx="986.5" cy="984.2" r="2.6"/><circle cx="1525.5" cy="984.2" r="2.6"/><circle cx="1534.5" cy="984.2" r="2.6"/><circle cx="1543.5" cy="984.2" r="2.6"/><circle cx="1552.5" cy="984.2" r="2.6"/><circle cx="1561.5" cy="984.2" r="2.6"/><circle cx="1570.5" cy="984.2" r="2.6"/><circle cx="1579.5" cy="984.2" r="2.6"/><circle cx="1588.5" cy="984.2" r="2.6"/><circle cx="1695.5" cy="984.2" r="2.6"/><circle cx="1704.5" cy="984.2" r="2.6"/><circle cx="1713.5" cy="984.2" r="2.6"/><circle cx="1749.5" cy="984.2" r="2.6"/><circle cx="1758.5" cy="984.2" r="2.6"/><circle cx="1848.5" cy="984.2" r="2.6"/><circle cx="1857.5" cy="984.2" r="2.6"/><circle cx="1866.5" cy="984.2" r="2.6"/></g>
<g fill="#00ff00"><circle cx="97.5" cy="996.6" r="5.25"/><circle cx="106.5" cy="996.6" r="5.25"/><circle cx="115.5" cy="996.6" r="5.25"/><circle cx="124.5" cy="996.6" r="5.25"/><circle cx="133.5" cy="996.6" r="5.25"/><circle cx="142.5" cy="996.6" r="5.25"/><circle cx="151.5" cy="996.6" r="5.25"/><circle cx="160.5" cy="996.6" r="5.25"/><circle cx="169.5" cy="996.6" r="5.25"/><circle cx="178.5" cy="996.6" r="5.25"/><circle cx="187.5" cy="996.6" r="5.25"/><circle cx="196.5" cy="996.6" r="5.25"/><circle cx="304.5" cy="996.6" r="5.25"/><circle cx="313.5" cy="996.6" r="5.25"/><circle cx="322.5" cy="996.6" r="5.25"/><circle cx="331.5" cy="996.6" r="5.25"/><circle cx="340.5" cy="996.6" r="5.25"/><circle cx="349.5" cy="996.6" r="5.25"/><circle cx="358.5" cy="996.6" r="5.25"/><circle cx="367.5" cy="996.6" r="5.25"/><circle cx="376.5" cy="996.6" r="5.25"/><circle cx="618.5" cy="996.6" r="5.25"/><circle cx="627.5" cy="996.6" r="5.25"/><circle cx="636.5" cy="996.6" r="5.25"/><circle cx="645.5" cy="996.6" r="5.25"/><circle cx="654.5" cy="996.6" r="5.25"/><circle cx="663.5" cy="996.6" r="5.25"/><circle cx="672.5" cy="996.6" r="5.25"/><circle cx="681.5" cy="996.6" r="5.25"/><circle cx="690.5" cy="996.6" r="5.25"/><circle cx="816.5" cy="996.6" r="5.25"/><circle cx="825.5" cy="996.6" r="5.25"/><circle cx="834.5" cy="996.6" r="5.25"/><circle cx="843.5" cy="996.6" r="5.25"/><circle cx="852.5" cy="996.6" r="5.25"/><circle cx="861.5" cy="996.6" r="5.25"/><circle cx="869.5" cy="996.6" r="5.25"/><circle cx="878.5" cy="996.6" r="5.25"/><circle cx="887.5" cy="996.6" r="5.25"/><circle cx="896.5" cy="996.6" r="5.25"/><circle cx="905.5" cy="996.6" r="5.25"/><circle cx="914.5" cy="996.6" r="5.25"/><circle cx="1031.5" cy="996.6" r="5.25"/><circle cx="1040.5" cy="996.6" r="5.25"/><circle cx="1049.5" cy="996.6" r="5.25"/><circle cx="1058.5" cy="996.6" r="5.25"/><circle cx="1067.5" cy="996.6" r="5.25"/><circle cx="1076.5" cy="996.6" r="5.25"/><circle cx="1085.5" cy="996.6" r="5.25"/><circle cx="1094.5" cy="996.6" r="5.25"/><circle cx="1103.5" cy="996.6" r="5.25"/><circle cx="1112.5" cy="996.6" r="5.25"/><circle cx="1121.5" cy="996.6" r="5.25"/><circle cx="1130.5" cy="996.6" r="5.25"/><circle cx="1247.5" cy="996.6" r="5.25"/><circle cx="1256.5" cy="996.6" r="5.25"/><circle cx="1265.5" cy="996.6" r="5.25"/><circle cx="1273.5" cy="996.6" r="5.25"/><circle cx="1282.5" cy="996.6" r="5.25"/><circle cx="1291.5" cy="996.6" r="5.25"/><circle cx="1300.5" cy="996.6" r="5.25"/><circle cx="1309.5" cy="996.6" r="5.25"/><circle cx="1390.5" cy="996.6" r="5.25"/><circle cx="1399.5" cy="996.6" r="5.25"/><circle cx="1408.5" cy="996.6" r="5.25"/><circle cx="1417.5" cy="996.6" r="5.25"/><circle cx="1426.5" cy="996.6" r="5.25"/><circle cx="1435.5" cy="996.6" r="5.25"/><circle cx="1444.5" cy="996.6" r="5.25"/><circle cx="1606.5" cy="996.6" r="5.25"/><circle cx="1615.5" cy="996.6" r="5.25"/><circle cx="1624.5" cy="996.6" r="5.25"/><circle cx="1633.5" cy="996.6" r="5.25"/><circle cx="1642.5" cy="996.6" r="5.25"/><circle cx="1651.5" cy="996.6" r="5.25"/><circle cx="1660.5" cy="996.6" r="5.25"/><circle cx="1668.5" cy="996.6" r="5.25"/><circle cx="1677.5" cy="996.6" r="5.25"/><circle cx="1686.5" cy="996.6" r="5.25"/><circle cx="1767.5" cy="996.6" r="5.25"/><circle cx="1776.5" cy="996.6" r="5.25"/><circle cx="1785.5" cy="996.6" r="5.25"/><circle cx="1794.5" cy="996.6" r="5.25"/><circle cx="1803.5" cy="996.6" r="5.25"/><circle cx="1812.5" cy="996.6" r="5.25"/><circle cx="1821.5" cy="996.6" r="5.25"/><circle cx="1830.5" cy="996.6" r="5.25"/></g>
<g fill="#ff0000"><circle cx="205.5" cy="996.6" r="5.25"/><circle cx="214.5" cy="996.6" r="5.25"/><circle cx="223.5" cy="996.6" r="5.25"/><circle cx="232.5" cy="996.6" r="5.25"/><circle cx="241.5" cy="996.6" r="5.25"/><circle cx="250.5" cy="996.6" r="5.25"/><circle cx="259.5" cy="996.6" r="5.25"/><circle cx="268.5" cy="996.6" r="5.25"/><circle cx="277.5" cy="996.6" r="5.25"/><circle cx="286.5" cy="996.6" r="5.25"/><circle cx="295.5" cy="996.6" r="5.25"/><circle cx="385.5" cy="996.6" r="5.25"/><circle cx="394.5" cy="996.6" r="5.25"/><circle cx="403.5" cy="996.6" r="5.25"/><circle cx="412.5" cy="996.6" r="5.25"/><circle cx="421.5" cy="996.6" r="5.25"/><circle cx="430.5" cy="996.6" r="5.25"/><circle cx="439.5" cy="996.6" r="5.25"/><circle cx="448.5" cy="996.6" r="5.25"/><circle cx="457.5" cy="996.6" r="5.25"/><circle cx="466.5" cy="996.6" r="5.25"/><circle cx="474.5" cy="996.6" r="5.25"/><circle cx="483.5" cy="996.6" r="5.25"/><circle cx="492.5" cy="996.6" r="5.25"/><circle cx="501.5" cy="996.6" r="5.25"/><circle cx="510.5" cy="996.6" r="5.25"/><circle cx="519.5" cy="996.6" r="5.25"/><circle cx="528.5" cy="996.6" r="5.25"/><circle cx="537.5" cy="996.6" r="5.25"/><circle cx="546.5" cy="996.6" r="5.25"/><circle cx="555.5" cy="996.6" r="5.25"/><circle cx="564.5" cy="996.6" r="5.25"/><circle cx="573.5" cy="996.6" r="5.25"/><circle cx="582.5" cy="996.6" r="5.25"/><circle cx="591.5" cy="996.6" r="5.25"/><circle cx="600.5" cy="996.6" r="5.25"/><circle cx="609.5" cy="996.6" r="5.25"/><circle cx="699.5" cy="996.6" r="5.25"/><circle cx="708.5" cy="996.6" r="5.25"/><circle cx="717.5" cy="996.6" r="5.25"/><circle cx="726.5" cy="996.6" r="5.25"/><circle cx="735.5" cy="996.6" r="5.25"/><circle cx="744.5" cy="996.6" r="5.25"/><circle cx="753.5" cy="996.6" r="5.25"/><circle cx="762.5" cy="996.6" r="5.25"/><circle cx="771.5" cy="996.6" r="5.25"/><circle cx="780.5" cy="996.6" r="5.25"/><circle cx="789.5" cy="996.6" r="5.25"/><circle cx="798.5" cy="996.6" r="5.25"/><circle cx="807.5" cy="996.6" r="5.25"/><circle cx="923.5" cy="996.6" r="5.25"/><circle cx="932.5" cy="996.6" r="5.25"/><circle cx="941.5" cy="996.6" r="5.25"/><circle cx="950.5" cy="996.6" r="5.25"/><circle cx="959.5" cy="996.6" r="5.25"/><circle cx="968.5" cy="996.6" r="5.25"/><circle cx="977.5" cy="996.6" r="5.25"/><circle cx="986.5" cy="996.6" r="5.25"/><circle cx="995.5" cy="996.6" r="5.25"/><circle cx="1004.5" cy="996.6" r="5.25"/><circle cx="1013.5" cy="996.6" r="5.25"/><circle cx="1022.5" cy="996.6" r="5.25"/><circle cx="1139.5" cy="996.6" r="5.25"/><circle cx="1148.5" cy="996.6" r="5.25"/><circle cx="1157.5" cy="996.6" r="5.25"/><circle cx="1166.5" cy="996.6" r="5.25"/><circle cx="1175.5" cy="996.6" r="5.25"/><circle cx="1184.5" cy="996.6" r="5.25"/><circle cx="1193.5" cy="996.6" r="5.25"/><circle cx="1202.5" cy="996.6" r="5.25"/><circle cx="1211.5" cy="996.6" r="5.25"/><circle cx="1220.5" cy="996.6" r="5.25"/><circle cx="1229.5" cy="996.6" r="5.25"/><circle cx="1238.5" cy="996.6" r="5.25"/><circle cx="1318.5" cy="996.6" r="5.25"/><circle cx="1327.5" cy="996.6" r="5.25"/><circle cx="1336.5" cy="996.6" r="5.25"/><circle cx="1345.5" cy="996.6" r="5.25"/><circle cx="1354.5" cy="996.6" r="5.25"/><circle cx="1363.5" cy="996.6" r="5.25"/><circle cx="1372.5" cy="996.6" r="5.25"/><circle cx="1381.5" cy="996.6" r="5.25"/><circle cx="1453.5" cy="996.6" r="5.25"/><circle cx="1462.5" cy="996.6" r="5.25"/><circle cx="1471.5" cy="996.6" r="5.25"/><circle cx="1480.5" cy="996.6" r="5.25"/><circle cx="1489.5" cy="996.6" r="5.25"/><circle cx="1498.5" cy="996.6" r="5.25"/><circle cx="1507.5" cy="996.6" r="5.25"/><circle cx="1516.5" cy="996.6" r="5.25"/><circle cx="1525.5" cy="996.6" r="5.25"/><circle cx="1534.5" cy="996.6" r="5.25"/><circle cx="1543.5" cy="996.6" r="5.25"/><circle cx="1552.5" cy="996.6" r="5.25"/><circle cx="1561.5" cy="996.6" r="5.25"/><circle cx="1570.5" cy="996.6" r="5.25"/><circle cx="1579.5" cy="996.6" r="5.25"/><circle cx="1588.5" cy="996.6" r="5.25"/><circle cx="1597.5" cy="996.6" r="5.25"/><circle cx="1695.5" cy="996.6" r="5.25"/><circle cx="1704.5" cy="996.6" r="5.25"/><circle cx="1713.5" cy="996.6" r="5.25"/><circle cx="1722.5" cy="996.6" r="5.25"/><circle cx="1731.5" cy="996.6" r="5.25"/><circle cx="1740.5" cy="996.6" r="5.25"/><circle cx="1749.5" cy="996.6" r="5.25"/><circle cx="1758.5" cy="996.6" r="5.25"/><circle cx="1839.5" cy="996.6" r="5.25"/><circle cx="1848.5" cy="996.6" r="5.25"/><circle cx="1857.5" cy="996.6" r="5.25"/><circle cx="1866.5" cy="996.6" r="5.25"/></g>
<g fill="#ff0000"><circle cx="160.5" cy="996.6" r="2.6"/><circle cx="169.5" cy="996.6" r="2.6"/><circle cx="178.5" cy="996.6" r="2.6"/><circle cx="187.5" cy="996.6" r="2.6"/><circle cx="196.5" cy="996.6" r="2.6"/><circle cx="349.5" cy="996.6" r="2.6"/><circle cx="358.5" cy="996.6" r="2.6"/><circle cx="367.5" cy="996.6" r="2.6"/><circle cx="376.5" cy="996.6" r="2.6"/><circle cx="896.5" cy="996.6" r="2.6"/><circle cx="905.5" cy="996.6" r="2.6"/><circle cx="914.5" cy="996.6" r="2.6"/><circle cx="1076.5" cy="996.6" r="2.6"/><circle cx="1085.5" cy="996.6" r="2.6"/><circle cx="1094.5" cy="996.6" r="2.6"/><circle cx="1103.5" cy="996.6" r="2.6"/><circle cx="1112.5" cy="996.6" r="2.6"/><circle cx="1121.5" cy="996.6" r="2.6"/><circle cx="1130.5" cy="996.6" r="2.6"/><circle cx="1291.5" cy="996.6" r="2.6"/><circle cx="1300.5" cy="996.6" r="2.6"/><circle cx="1309.5" cy="996.6" r="2.6"/><circle cx="1417.5" cy="996.6" r="2.6"/><circle cx="1426.5" cy="996.6" r="2.6"/><circle cx="1435.5" cy="996.6" r="2.6"/><circle cx="1444.5" cy="996.6" r="2.6"/></g>
<g fill="#00ff00"><circle cx="537.5" cy="996.6" r="2.6"/><circle cx="546.5" cy="996.6" r="2.6"/><circle cx="555.5" cy="996.6" r="2.6"/><circle cx="564.5" cy="996.6" r="2.6"/><circle cx="573.5" cy="996.6" r="2.6"/><circle cx="582.5" cy="996.6" r="2.6"/><circle cx="591.5" cy="996.6" r="2.6"/><circle cx="600.5" cy="996.6" r="2.6"/><circle cx="609.5" cy="996.6" r="2.6"/><circle cx="780.5" cy="996.6" r="2.6"/><circle cx="789.5" cy="996.6" r="2.6"/><circle cx="798.5" cy="996.6" r="2.6"/><circle cx="807.5" cy="996.6" r="2.6"/><circle cx="1552.5" cy="996.6" r="2.6"/><circle cx="1561.5" cy="996.6" r="2.6"/><circle cx="1570.5" cy="996.6" r="2.6"/><circle cx="1579.5" cy="996.6" r="2.6"/><circle cx="1588.5" cy="996.6" r="2.6"/><circle cx="1597.5" cy="996.6" r="2.6"/><circle cx="1713.5" cy="996.6" r="2.6"/><circle cx="1722.5" cy="996.6" r="2.6"/><circle cx="1731.5" cy="996.6" r="2.6"/><circle cx="1740.5" cy="996.6" r="2.6"/><circle cx="1749.5" cy="996.6" r="2.6"/><circle cx="1758.5" cy="996.6" r="2.6"/><circle cx="1866.5" cy="996.6" r="2.6"/></g>
<g fill="#00ff00"><circle cx="115.5" cy="1009.2" r="5.25"/><circle cx="124.5" cy="1009.2" r="5.25"/><circle cx="133.5" cy="1009.2" r="5.25"/><circle cx="142.5" cy="1009.2" r="5.25"/><circle cx="151.5" cy="1009.2" r="5.25"/><circle cx="160.5" cy="1009.2" r="5.25"/><circle cx="169.5" cy="1009.2" r="5.25"/><circle cx="178.5" cy="1009.2" r="5.25"/><circle cx="187.5" cy="1009.2" r="5.25"/><circle cx="196.5" cy="1009.2" r="5.25"/><circle cx="205.5" cy="1009.2" r="5.25"/><circle cx="214.5" cy="1009.2" r="5.25"/><circle cx="223.5" cy="1009.2" r="5.25"/><circle cx="232.5" cy="1009.2" r="5.25"/><circle cx="241.5" cy="1009.2" r="5.25"/><circle cx="250.5" cy="1009.2" r="5.25"/><circle cx="259.5" cy="1009.2" r="5.25"/><circle cx="268.5" cy="1009.2" r="5.25"/><circle cx="322.5" cy="1009.2" r="5.25"/><circle cx="331.5" cy="1009.2" r="5.25"/><circle cx="340.5" cy="1009.2" r="5.25"/><circle cx="376.5" cy="1009.2" r="5.25"/><circle cx="385.5" cy="1009.2" r="5.25"/><circle cx="394.5" cy="1009.2" r="5.25"/><circle cx="403.5" cy="1009.2" r="5.25"/><circle cx="466.5" cy="1009.2" r="5.25"/><circle cx="636.5" cy="1009.2" r="5.25"/><circle cx="645.5" cy="1009.2" r="5.25"/><circle cx="654.5" cy="1009.2" r="5.25"/><circle cx="663.5" cy="1009.2" r="5.25"/><circle cx="672.5" cy="1009.2" r="5.25"/><circle cx="681.5" cy="1009.2" r="5.25"/><circle cx="690.5" cy="1009.2" r="5.25"/><circle cx="699.5" cy="1009.2" r="5.25"/><circle cx="708.5" cy="1009.2" r="5.25"/><circle cx="717.5" cy="1009.2" r="5.25"/><circle cx="726.5" cy="1009.2" r="5.25"/><circle cx="735.5" cy="1009.2" r="5.25"/><circle cx="744.5" cy="1009.2" r="5.25"/><circle cx="753.5" cy="1009.2" r="5.25"/><circle cx="861.5" cy="1009.2" r="5.25"/><circle cx="869.5" cy="1009.2" r="5.25"/><circle cx="878.5" cy="1009.2" r="5.25"/><circle cx="887.5" cy="1009.2" r="5.25"/><circle cx="896.5" cy="1009.2" r="5.25"/><circle cx="905.5" cy="1009.2" r="5.25"/><circle cx="914.5" cy="1009.2" r="5.25"/><circle cx="923.5" cy="1009.2" r="5.25"/><circle cx="932.5" cy="1009.2" r="5.25"/><circle cx="941.5" cy="1009.2" r="5.25"/><circle cx="950.5" cy="1009.2" r="5.25"/><circle cx="959.5" cy="1009.2" r="5.25"/><circle cx="968.5" cy="1009.2" r="5.25"/><circle cx="1067.5" cy="1009.2" r="5.25"/><circle cx="1076.5" cy="1009.2" r="5.25"/><circle cx="1085.5" cy="1009.2" r="5.25"/><circle cx="1094.5" cy="1009.2" r="5.25"/><circle cx="1103.5" cy="1009.2" r="5.25"/><circle cx="1112.5" cy="1009.2" r="5.25"/><circle cx="1121.5" cy="1009.2" r="5.25"/><circle cx="1130.5" cy="1009.2" r="5.25"/><circle cx="1139.5" cy="1009.2" r="5.25"/><circle cx="1148.5" cy="1009.2" r="5.25"/><circle cx="1157.5" cy="1009.2" r="5.25"/><circle cx="1166.5" cy="1009.2" r="5.25"/><circle cx="1175.5" cy="1009.2" r="5.25"/><circle cx="1282.5" cy="1009.2" r="5.25"/><circle cx="1291.5" cy="1009.2" r="5.25"/><circle cx="1300.5" cy="1009.2" r="5.25"/><circle cx="1309.5" cy="1009.2" r="5.25"/><circle cx="1318.5" cy="1009.2" r="5.25"/><circle cx="1327.5" cy="1009.2" r="5.25"/><circle cx="1399.5" cy="1009.2" r="5.25"/><circle cx="1408.5" cy="1009.2" r="5.25"/><circle cx="1417.5" cy="1009.2" r="5.25"/><circle cx="1426.5" cy="1009.2" r="5.25"/><circle cx="1435.5" cy="1009.2" r="5.25"/><circle cx="1444.5" cy="1009.2" r="5.25"/><circle cx="1453.5" cy="1009.2" r="5.25"/><circle cx="1695.5" cy="1009.2" r="5.25"/><circle cx="1704.5" cy="1009.2" r="5.25"/><circle cx="1713.5" cy="1009.2" r="5.25"/><circle cx="1722.5" cy="1009.2" r="5.25"/><circle cx="1731.5" cy="1009.2" r="5.25"/><circle cx="1776.5" cy="1009.2" r="5.25"/><circle cx="1785.5" cy="1009.2" r="5.25"/><circle cx="1794.5" cy="1009.2" r="5.25"/><circle cx="1803.5" cy="1009.2" r="5.25"/><circle cx="1812.5" cy="1009.2" r="5.25"/><circle cx="1821.5" cy="1009.2" r="5.25"/><circle cx="1830.5" cy="1009.2" r="5.25"/><circle cx="1839.5" cy="1009.2" r="5.25"/><circle cx="1848.5" cy="1009.2" r="5.25"/><circle cx="1857.5" cy="1009.2" r="5.25"/><circle cx="1866.5" cy="1009.2" r="5.25"/></g>
<g fill="#ff0000"><circle cx="97.5" cy="1009.2" r="5.25"/><circle cx="106.5" cy="1009.2" r="5.25"/><circle cx="277.5" cy="1009.2" r="5.25"/><circle cx="286.5" cy="1009.2" r="5.25"/><circle cx="295.5" cy="1009.2" r="5.25"/><circle cx="304.5" cy="1009.2" r="5.25"/><circle cx="313.5" cy="1009.2" r="5.25"/><circle cx="349.5" cy="1009.2" r="5.25"/><circle cx="358.5" cy="1009.2" r="5.25"/><circle cx="367.5" cy="1009.2" r="5.25"/><circle cx="412.5" cy="1009.2" r="5.25"/><circle cx="421.5" cy="1009.2" r="5.25"/><circle cx="430.5" cy="1009.2" r="5.25"/><circle cx="439.5" cy="1009.2" r="5.25"/><circle cx="448.5" cy="1009.2" r="5.25"/><circle cx="457.5" cy="1009.2" r="5.25"/><circle cx="474.5" cy="1009.2" r="5.25"/><circle cx="483.5" cy="1009.2" r="5.25"/><circle cx="492.5" cy="1009.2" r="5.25"/><circle cx="501.5" cy="1009.2" r="5.25"/><circle cx="510.5" cy="1009.2" r="5.25"/><circle cx="519.5" cy="1009.2" r="5.25"/><circle cx="528.5" cy="1009.2" r="5.25"/><circle cx="537.5" cy="1009.2" r="5.25"/><circle cx="546.5" cy="1009.2" r="5.25"/><circle cx="555.5" cy="1009.2" r="5.25"/><circle cx="564.5" cy="1009.2" r="5.25"/><circle cx="573.5" cy="1009.2" r="5.25"/><circle cx="582.5" cy="1009.2" r="5.25"/><circle cx="591.5" cy="1009.2" r="5.25"/><circle cx="600.5" cy="1009.2" r="5.25"/><circle cx="609.5" cy="1009.2" r="5.25"/><circle cx="618.5" cy="1009.2" r="5.25"/><circle cx="627.5" cy="1009.2" r="5.25"/><circle cx="762.5" cy="1009.2" r="5.25"/><circle cx="771.5" cy="1009.2" r="5.25"/><circle cx="780.5" cy="1009.2" r="5.25"/><circle cx="789.5" cy="1009.2" r="5.25"/><circle cx="798.5" cy="1009.2" r="5.25"/><circle cx="807.5" cy="1009.2" r="5.25"/><circle cx="816.5" cy="1009.2" r="5.25"/><circle cx="825.5" cy="1009.2" r="5.25"/><circle cx="834.5" cy="1009.2" r="5.25"/><circle cx="843.5" cy="1009.2" r="5.25"/><circle cx="852.5" cy="1009.2" r="5.25"/><circle cx="977.5" cy="1009.2" r="5.25"/><circle cx="986.5" cy="1009.2" r="5.25"/><circle cx="995.5" cy="1009.2" r="5.25"/><circle cx="1004.5" cy="1009.2" r="5.25"/><circle cx="1013.5" cy="1009.2" r="5.25"/><circle cx="1022.5" cy="1009.2" r="5.25"/><circle cx="1031.5" cy="1009.2" r="5.25"/><circle cx="1040.5" cy="1009.2" r="5.25"/><circle cx="1049.5" cy="1009.2" r="5.25"/><circle cx="1058.5" cy="1009.2" r="5.25"/><circle cx="1184.5" cy="1009.2" r="5.25"/><circle cx="1193.5" cy="1009.2" r="5.25"/><circle cx="1202.5" cy="1009.2" r="5.25"/><circle cx="1211.5" cy="1009.2" r="5.25"/><circle cx="1220.5" cy="1009.2" r="5.25"/><circle cx="1229.5" cy="1009.2" r="5.25"/><circle cx="1238.5" cy="1009.2" r="5.25"/><circle cx="1247.5" cy="1009.2" r="5.25"/><circle cx="1256.5" cy="1009.2" r="5.25"/><circle cx="1265.5" cy="1009.2" r="5.25"/><circle cx="1273.5" cy="1009.2" r="5.25"/><circle cx="1336.5" cy="1009.2" r="5.25"/><circle cx="1345.5" cy="1009.2" r="5.25"/><circle cx="1354.5" cy="1009.2" r="5.25"/><circle cx="1363.5" cy="1009.2" r="5.25"/><circle cx="1372.5" cy="1009.2" r="5.25"/><circle cx="1381.5" cy="1009.2" r="5.25"/><circle cx="1390.5" cy="1009.2" r="5.25"/><circle cx="1462.5" cy="1009.2" r="5.25"/><circle cx="1471.5" cy="1009.2" r="5.25"/><circle cx="1480.5" cy="1009.2" r="5.25"/><circle cx="1489.5" cy="1009.2" r="5.25"/><circle cx="1498.5" cy="1009.2" r="5.25"/><circle cx="1507.5" cy="1009.2" r="5.25"/><circle cx="1516.5" cy="1009.2" r="5.25"/><circle cx="1525.5" cy="1009.2" r="5.25"/><circle cx="1534.5" cy="1009.2" r="5.25"/><circle cx="1543.5" cy="1009.2" r="5.25"/><circle cx="1552.5" cy="1009.2" r="5.25"/><circle cx="1561.5" cy="1009.2" r="5.25"/><circle cx="1570.5" cy="1009.2" r="5.25"/><circle cx="1579.5" cy="1009.2" r="5.25"/><circle cx="1588.5" cy="1009.2" r="5.25"/><circle cx="1597.5" cy="1009.2" r="5.25"/><circle cx="1606.5" cy="1009.2" r="5.25"/><circle cx="1615.5" cy="1009.2" r="5.25"/><circle cx="1624.5" cy="1009.2" r="5.25"/><circle cx="1633.5" cy="1009.2" r="5.25"/><circle cx="1642.5" cy="1009.2" r="5.25"/><circle cx="1651.5" cy="1009.2" r="5.25"/><circle cx="1660.5" cy="1009.2" r="5.25"/><circle cx="1668.5" cy="1009.2" r="5.25"/><circle cx="1677.5" cy="1009.2" r="5.25"/><circle cx="1686.5" cy="1009.2" r="5.25"/><circle cx="1740.5" cy="1009.2" r="5.25"/><circle cx="1749.5" cy="1009.2" r="5.25"/><circle cx="1758.5" cy="1009.2" r="5.25"/><circle cx="1767.5" cy="1009.2" r="5.25"/></g>
<g fill="#ff0000"><circle cx="223.5" cy="1009.2" r="2.6"/><circle cx="232.5" cy="1009.2" r="2.6"/><circle cx="241.5" cy="1009.2" r="2.6"/><circle cx="250.5" cy="1009.2" r="2.6"/><circle cx="259.5" cy="1009.2" r="2.6"/><circle cx="268.5" cy="1009.2" r="2.6"/><circle cx="322.5" cy="1009.2" r="2.6"/><circle cx="331.5" cy="1009.2" r="2.6"/><circle cx="340.5" cy="1009.2" r="2.6"/><circle cx="376.5" cy="1009.2" r="2.6"/><circle cx="385.5" cy="1009.2" r="2.6"/><circle cx="394.5" cy="1009.2" r="2.6"/><circle cx="403.5" cy="1009.2" r="2.6"/><circle cx="466.5" cy="1009.2" r="2.6"/><circle cx="1121.5" cy="1009.2" r="2.6"/><circle cx="1130.5" cy="1009.2" r="2.6"/><circle cx="1139.5" cy="1009.2" r="2.6"/><circle cx="1148.5" cy="1009.2" r="2.6"/><circle cx="1157.5" cy="1009.2" r="2.6"/><circle cx="1166.5" cy="1009.2" r="2.6"/><circle cx="1175.5" cy="1009.2" r="2.6"/><circle cx="1300.5" cy="1009.2" r="2.6"/><circle cx="1309.5" cy="1009.2" r="2.6"/><circle cx="1435.5" cy="1009.2" r="2.6"/><circle cx="1444.5" cy="1009.2" r="2.6"/><circle cx="1453.5" cy="1009.2" r="2.6"/></g>
<g fill="#00ff00"><circle cx="97.5" cy="1009.2" r="2.6"/><circle cx="106.5" cy="1009.2" r="2.6"/><circle cx="582.5" cy="1009.2" r="2.6"/><circle cx="591.5" cy="1009.2" r="2.6"/><circle cx="600.5" cy="1009.2" r="2.6"/><circle cx="609.5" cy="1009.2" r="2.6"/><circle cx="618.5" cy="1009.2" r="2.6"/><circle cx="627.5" cy="1009.2" r="2.6"/><circle cx="825.5" cy="1009.2" r="2.6"/><circle cx="834.5" cy="1009.2" r="2.6"/><circle cx="843.5" cy="1009.2" r="2.6"/><circle cx="1606.5" cy="1009.2" r="2.6"/><circle cx="1615.5" cy="1009.2" r="2.6"/><circle cx="1624.5" cy="1009.2" r="2.6"/><circle cx="1633.5" cy="1009.2" r="2.6"/><circle cx="1642.5" cy="1009.2" r="2.6"/><circle cx="1651.5" cy="1009.2" r="2.6"/><circle cx="1660.5" cy="1009.2" r="2.6"/><circle cx="1668.5" cy="1009.2" r="2.6"/><circle cx="1677.5" cy="1009.2" r="2.6"/><circle cx="1686.5" cy="1009.2" r="2.6"/><circle cx="1740.5" cy="1009.2" r="2.6"/><circle cx="1749.5" cy="1009.2" r="2.6"/><circle cx="1758.5" cy="1009.2" r="2.6"/><circle cx="1767.5" cy="1009.2" r="2.6"/></g>
<text x="105.5" y="998.7" font-size="14.5" fill="#131722" textLength="210.6" lengthAdjust="spacingAndGlyphs">Croc 3.0 MSI - Professional (off)</text>
<text x="327" y="998.7" font-size="14.5" fill="#2962ff" textLength="51.6" lengthAdjust="spacingAndGlyphs">−0,5000</text>
<text x="388.7" y="998.7" font-size="14.5" fill="#2962ff" textLength="35.7" lengthAdjust="spacingAndGlyphs">−1,50</text>
<text x="434.5" y="998.7" font-size="14.5" fill="#2962ff" textLength="35.9" lengthAdjust="spacingAndGlyphs">−2,50</text>
<text x="480.6" y="998.7" font-size="13.5" fill="#131722" textLength="8.2" lengthAdjust="spacingAndGlyphs">∅</text>
<text x="499.5" y="998.7" font-size="13.5" fill="#131722" textLength="8.2" lengthAdjust="spacingAndGlyphs">∅</text>
<text x="518.1" y="998.7" font-size="13.5" fill="#131722" textLength="8.2" lengthAdjust="spacingAndGlyphs">∅</text>
<text x="537.0" y="998.7" font-size="13.5" fill="#131722" textLength="8.2" lengthAdjust="spacingAndGlyphs">∅</text>
<text x="555.9" y="998.7" font-size="13.5" fill="#131722" textLength="8.2" lengthAdjust="spacingAndGlyphs">∅</text>
<text x="575.1" y="998.7" font-size="13.5" fill="#131722" textLength="8.2" lengthAdjust="spacingAndGlyphs">∅</text>
<text x="594.5" y="998.7" font-size="13.5" fill="#131722" textLength="8.2" lengthAdjust="spacingAndGlyphs">∅</text>
<text x="613.2" y="998.7" font-size="13.5" fill="#131722" textLength="8.2" lengthAdjust="spacingAndGlyphs">∅</text>
<text x="632.1" y="998.7" font-size="13.5" fill="#131722" textLength="8.2" lengthAdjust="spacingAndGlyphs">∅</text>
</g>
<polyline points="94.9,1103.9 122.9,1103.9 142.7,1104.9 160.8,1104.6 179.0,1102.9 202.0,1102.6 231.7,1102.2 248.1,1101.6 267.9,1099.6 287.7,1099.0 304.1,1099.3 323.9,1098.0 340.4,1097.3 353.6,1096.6 376.6,1096.3 396.4,1096.0 406.3,1096.3 419.5,1097.0 435.9,1097.0 449.1,1097.6 472.2,1097.6 490.3,1095.7 501.8,1096.3 518.3,1098.0 541.4,1097.6 561.1,1098.6 580.9,1099.3 594.1,1100.3 608.9,1101.6 620.4,1101.9 630.3,1101.3 646.8,1099.6 663.3,1099.3 683.0,1099.3 702.8,1098.6 725.9,1098.3 739.0,1099.0 755.5,1099.0 760.0,1099.0 779.8,1100.6 812.7,1100.3 849.0,1100.9 862.1,1100.3 878.6,1098.6 895.1,1098.0 908.3,1097.0 924.7,1097.3 944.5,1096.3 964.3,1095.3 980.7,1095.3 993.9,1095.0 1013.7,1096.3 1031.8,1098.0 1046.6,1097.6 1059.8,1096.6 1076.3,1096.3 1089.5,1095.7 1102.6,1094.3 1110.9,1094.0 1122.4,1094.7 1148.8,1093.4 1175.1,1093.7 1185.0,1094.7 1201.5,1094.7 1217.9,1095.0 1237.7,1095.7 1254.2,1096.0 1280.5,1095.0 1300.3,1093.0 1316.8,1087.4 1326.7,1086.1 1334.9,1083.8 1344.8,1084.5 1354.7,1083.5 1362.9,1081.5 1372.8,1081.2 1382.7,1078.9 1384.0,1079.2 1398.8,1076.2 1416.9,1074.6 1426.8,1068.6 1443.3,1054.5 1453.2,1044.6 1471.3,1037.0 1479.5,1030.8 1489.4,1029.4 1497.7,1024.8 1507.5,1025.2 1524.0,1024.2 1542.1,1024.2 1552.0,1027.1 1568.5,1045.6 1578.4,1055.1 1588.3,1060.4 1606.4,1065.3 1614.6,1066.3 1624.5,1070.9 1641.0,1071.3 1660.7,1071.9 1669.0,1073.3 1677.2,1075.2 1685.5,1073.6 1695.3,1074.2 1705.2,1075.9 1713.5,1076.2 1723.3,1078.2 1731.6,1082.2 1739.8,1083.5 1749.7,1084.5 1757.9,1085.4 1766.2,1085.8 1776.1,1087.4 1784.3,1088.1 1800.8,1088.1 1812.3,1090.1 1820.5,1090.1 1830.4,1088.7 1838.7,1089.4 1848.5,1088.7 1856.8,1088.4 1865.7,1088.7 1874.9,1087.4" fill="none" stroke="#2962ff" stroke-width="1.3" stroke-linejoin="round" stroke-linecap="round"/>
<text x="104.8" y="1039.7" font-size="14.5" fill="#131722" textLength="57.7" lengthAdjust="spacingAndGlyphs">ADR (14)</text>
<text x="171.7" y="1039.7" font-size="14.5" fill="#2962ff" textLength="45.2" lengthAdjust="spacingAndGlyphs">0,5658</text>
<rect x="147.4" y="810" width="27" height="26" fill="#fff"/>
<path d="M160.9 811.3L170.5 817.1Q171.6 817.8 171.6 819.1V832.5Q171.6 834.5 169.6 834.5H152.2Q150.2 834.5 150.2 832.5V819.1Q150.2 817.8 151.3 817.1Z" fill="#fff" stroke="#089981" stroke-width="1.9" stroke-linejoin="round"/>
<text x="157.4" y="828.9" font-size="15" fill="#089981" textLength="7" lengthAdjust="spacingAndGlyphs" font-weight="bold">E</text>
<rect x="453.4" y="812" width="27" height="26" fill="#fff"/>
<path d="M466.9 836.6L476.5 831.1Q477.6 830.4 477.6 829.1V816.2Q477.6 814.2 475.6 814.2H458.2Q456.2 814.2 456.2 816.2V829.1Q456.2 830.4 457.3 831.1Z" fill="#fff" stroke="#f23645" stroke-width="1.9" stroke-linejoin="round"/>
<text x="463.4" y="830" font-size="15" fill="#f23645" textLength="7" lengthAdjust="spacingAndGlyphs" font-weight="bold">E</text>
<rect x="1036.4" y="812" width="27" height="26" fill="#fff"/>
<path d="M1049.9 836.6L1059.5 831.1Q1060.6 830.4 1060.6 829.1V816.2Q1060.6 814.2 1058.6 814.2H1041.2Q1039.2 814.2 1039.2 816.2V829.1Q1039.2 830.4 1040.3 831.1Z" fill="#fff" stroke="#f23645" stroke-width="1.9" stroke-linejoin="round"/>
<text x="1046.4" y="830" font-size="15" fill="#f23645" textLength="7" lengthAdjust="spacingAndGlyphs" font-weight="bold">E</text>
<rect x="1620.4" y="812" width="27" height="26" fill="#fff"/>
<path d="M1633.9 836.6L1643.5 831.1Q1644.6 830.4 1644.6 829.1V816.2Q1644.6 814.2 1642.6 814.2H1625.2Q1623.2 814.2 1623.2 816.2V829.1Q1623.2 830.4 1624.3 831.1Z" fill="#fff" stroke="#f23645" stroke-width="1.9" stroke-linejoin="round"/>
<text x="1630.4" y="830" font-size="15" fill="#f23645" textLength="7" lengthAdjust="spacingAndGlyphs" font-weight="bold">E</text>
<rect x="1861.5" y="809.5" width="28" height="28" fill="#fff"/>
<circle cx="1875.5" cy="823.5" r="12.2" fill="#fff" stroke="#9c1fb0" stroke-width="1.9"/>
<path d="M1878.5 816.9L1870.7 823.9H1875.3L1871.7 829.8L1880.7 822.8H1876.1Z" fill="#9c1fb0" stroke="#9c1fb0" stroke-width="0.6" stroke-linejoin="round"/>
<rect x="14" y="95" width="81" height="1020" fill="#ffffff"/>
<text x="47.2" y="112.8" font-size="15" fill="#131722" textLength="37.0" lengthAdjust="spacingAndGlyphs">19,89</text>
<text x="47.2" y="250.8" font-size="15" fill="#131722" textLength="37.0" lengthAdjust="spacingAndGlyphs">16,00</text>
<text x="55.1" y="745.6" font-size="15" fill="#131722" textLength="29.1" lengthAdjust="spacingAndGlyphs">4,55</text>
<text x="39" y="821.4" font-size="15" fill="#131722" textLength="7.9" lengthAdjust="spacingAndGlyphs">0</text>
<clipPath id="ca1"><rect x="14" y="35" width="82" height="805"/></clipPath><g clip-path="url(#ca1)">
<path d="M42.7 133.0H95V153.8H42.7Q40.7 153.8 40.7 151.8V135.0Q40.7 133.0 42.7 133.0Z" fill="#3cb371"/>
<text x="47.2" y="147.7" font-size="15" fill="#fff" textLength="37.0" lengthAdjust="spacingAndGlyphs">17,19</text>
<path d="M42.7 155.2H95V176.0H42.7Q40.7 176.0 40.7 174.0V157.2Q40.7 155.2 42.7 155.2Z" fill="#0000ff"/>
<text x="47.2" y="169.9" font-size="15" fill="#fff" textLength="37.0" lengthAdjust="spacingAndGlyphs">17,16</text>
<path d="M42.7 176.2H95V197.0H42.7Q40.7 197.0 40.7 195.0V178.2Q40.7 176.2 42.7 176.2Z" fill="#962a2a"/>
<text x="47.2" y="190.9" font-size="15" fill="#fff" textLength="37.0" lengthAdjust="spacingAndGlyphs">17,12</text>
<path d="M42.7 197.1H95V217.9H42.7Q40.7 217.9 40.7 215.9V199.1Q40.7 197.1 42.7 197.1Z" fill="#959595"/>
<text x="47.2" y="211.8" font-size="15" fill="#fff" textLength="37.0" lengthAdjust="spacingAndGlyphs">17,12</text>
<path d="M42.7 267.2H95V288.0H42.7Q40.7 288.0 40.7 286.0V269.2Q40.7 267.2 42.7 267.2Z" fill="#ff00ff"/>
<text x="47.2" y="281.9" font-size="15" fill="#fff" textLength="37.0" lengthAdjust="spacingAndGlyphs">12,03</text>
<path d="M42.7 289.1H95V309.9H42.7Q40.7 309.9 40.7 307.9V291.1Q40.7 289.1 42.7 289.1Z" fill="#959595"/>
<text x="47.2" y="303.8" font-size="15" fill="#fff" textLength="37.0" lengthAdjust="spacingAndGlyphs">11,34</text>
<path d="M42.7 310.0H95V330.8H42.7Q40.7 330.8 40.7 328.8V312.0Q40.7 310.0 42.7 310.0Z" fill="#00eeff"/>
<text x="47.2" y="324.7" font-size="15" fill="#131722" textLength="37.0" lengthAdjust="spacingAndGlyphs">10,99</text>
<path d="M42.7 330.9H95V351.7H42.7Q40.7 351.7 40.7 349.7V332.9Q40.7 330.9 42.7 330.9Z" fill="#ffff00"/>
<text x="47.2" y="345.6" font-size="15" fill="#131722" textLength="37.0" lengthAdjust="spacingAndGlyphs">10,99</text>
<path d="M50.0 352.0H95V372.8H50.0Q48.0 372.8 48.0 370.8V354.0Q48.0 352.0 50.0 352.0Z" fill="#00eeff"/>
<text x="55.1" y="366.7" font-size="15" fill="#131722" textLength="29.1" lengthAdjust="spacingAndGlyphs">9,89</text>
<path d="M50.0 374.0H95V394.8H50.0Q48.0 394.8 48.0 392.8V376.0Q48.0 374.0 50.0 374.0Z" fill="#ff00ff"/>
<text x="55.1" y="388.7" font-size="15" fill="#fff" textLength="29.1" lengthAdjust="spacingAndGlyphs">8,88</text>
<path d="M50.0 395.0H95V415.8H50.0Q48.0 415.8 48.0 413.8V397.0Q48.0 395.0 50.0 395.0Z" fill="#ff0000"/>
<text x="55.1" y="409.7" font-size="15" fill="#fff" textLength="29.1" lengthAdjust="spacingAndGlyphs">8,46</text>
<path d="M50.0 416.0H95V436.8H50.0Q48.0 436.8 48.0 434.8V418.0Q48.0 416.0 50.0 416.0Z" fill="#3cb371"/>
<text x="55.1" y="430.7" font-size="15" fill="#fff" textLength="29.1" lengthAdjust="spacingAndGlyphs">7,28</text>
<path d="M50.0 437.1H95V457.9H50.0Q48.0 457.9 48.0 455.9V439.1Q48.0 437.1 50.0 437.1Z" fill="#959595"/>
<text x="55.1" y="451.8" font-size="15" fill="#fff" textLength="29.1" lengthAdjust="spacingAndGlyphs">7,17</text>
<path d="M50.0 458.9H95V479.7H50.0Q48.0 479.7 48.0 477.7V460.9Q48.0 458.9 50.0 458.9Z" fill="#ff0000"/>
<text x="55.1" y="473.6" font-size="15" fill="#fff" textLength="29.1" lengthAdjust="spacingAndGlyphs">6,07</text>
<path d="M50.0 480.0H95V500.8H50.0Q48.0 500.8 48.0 498.8V482.0Q48.0 480.0 50.0 480.0Z" fill="#ff0000"/>
<text x="55.1" y="494.7" font-size="15" fill="#fff" textLength="29.1" lengthAdjust="spacingAndGlyphs">5,99</text>
<path d="M50.0 501.1H95V521.9H50.0Q48.0 521.9 48.0 519.9V503.1Q48.0 501.1 50.0 501.1Z" fill="#ff0000"/>
<text x="55.1" y="515.8" font-size="15" fill="#fff" textLength="29.1" lengthAdjust="spacingAndGlyphs">5,97</text>
<path d="M50.0 522.1H95V542.9H50.0Q48.0 542.9 48.0 540.9V524.1Q48.0 522.1 50.0 522.1Z" fill="#0000ff"/>
<text x="55.1" y="536.8" font-size="15" fill="#fff" textLength="29.1" lengthAdjust="spacingAndGlyphs">5,91</text>
<path d="M50.0 543.8H95V564.6H50.0Q48.0 564.6 48.0 562.6V545.8Q48.0 543.8 50.0 543.8Z" fill="#ff9c40"/>
<text x="55.1" y="558.5" font-size="15" fill="#131722" textLength="29.1" lengthAdjust="spacingAndGlyphs">5,83</text>
<path d="M50.0 565.0H95V585.8H50.0Q48.0 585.8 48.0 583.8V567.0Q48.0 565.0 50.0 565.0Z" fill="#00ff00"/>
<text x="55.1" y="579.7" font-size="15" fill="#131722" textLength="29.1" lengthAdjust="spacingAndGlyphs">5,73</text>
<path d="M50.0 586.0H95V606.8H50.0Q48.0 606.8 48.0 604.8V588.0Q48.0 586.0 50.0 586.0Z" fill="#c3c3c3"/>
<text x="55.1" y="600.7" font-size="15" fill="#131722" textLength="29.1" lengthAdjust="spacingAndGlyphs">5,61</text>
<path d="M50.0 836.9H95V857.7H50.0Q48.0 857.7 48.0 855.7V838.9Q48.0 836.9 50.0 836.9Z" fill="#ffff00"/>
<text x="55.1" y="851.6" font-size="15" fill="#131722" textLength="29.1" lengthAdjust="spacingAndGlyphs">3,55</text>
<path d="M50.0 815.9H95V836.7H50.0Q48.0 836.7 48.0 834.7V817.9Q48.0 815.9 50.0 815.9Z" fill="#959595"/>
<text x="55.1" y="830.6" font-size="15" fill="#fff" textLength="29.1" lengthAdjust="spacingAndGlyphs">3,76</text>
<path d="M50.0 795.0H95V815.8H50.0Q48.0 815.8 48.0 813.8V797.0Q48.0 795.0 50.0 795.0Z" fill="#00ff00"/>
<text x="55.1" y="809.7" font-size="15" fill="#131722" textLength="29.1" lengthAdjust="spacingAndGlyphs">4,01</text>
<path d="M50.0 774.1H95V794.9H50.0Q48.0 794.9 48.0 792.9V776.1Q48.0 774.1 50.0 774.1Z" fill="#962a2a"/>
<text x="55.1" y="788.8" font-size="15" fill="#fff" textLength="29.1" lengthAdjust="spacingAndGlyphs">4,08</text>
<path d="M50.0 752.0H95V772.8H50.0Q48.0 772.8 48.0 770.8V754.0Q48.0 752.0 50.0 752.0Z" fill="#959595"/>
<text x="55.1" y="766.7" font-size="15" fill="#fff" textLength="29.1" lengthAdjust="spacingAndGlyphs">4,08</text>
<path d="M50.0 710.2H95V731.0H50.0Q48.0 731.0 48.0 729.0V712.2Q48.0 710.2 50.0 710.2Z" fill="#ff0000"/>
<text x="55.1" y="724.9" font-size="15" fill="#fff" textLength="29.1" lengthAdjust="spacingAndGlyphs">4,70</text>
<path d="M50.0 689.0H95V709.8H50.0Q48.0 709.8 48.0 707.8V691.0Q48.0 689.0 50.0 689.0Z" fill="#959595"/>
<text x="55.1" y="703.7" font-size="15" fill="#fff" textLength="29.1" lengthAdjust="spacingAndGlyphs">4,94</text>
<path d="M50.0 667.0H95V687.8H50.0Q48.0 687.8 48.0 685.8V669.0Q48.0 667.0 50.0 667.0Z" fill="#00ff00"/>
<text x="55.1" y="681.7" font-size="15" fill="#131722" textLength="29.1" lengthAdjust="spacingAndGlyphs">5,22</text>
<path d="M50.0 646.0H95V666.8H50.0Q48.0 666.8 48.0 664.8V648.0Q48.0 646.0 50.0 646.0Z" fill="#0000ff"/>
<text x="55.1" y="660.7" font-size="15" fill="#fff" textLength="29.1" lengthAdjust="spacingAndGlyphs">5,39</text>
<path d="M22 607.3H95V645.7H22Q20 645.7 20 643.7V609.3Q20 607.3 22 607.3Z" fill="#00ff00"/>
<text x="55.1" y="621.3" font-size="15" fill="#131722" textLength="29.1" lengthAdjust="spacingAndGlyphs">5,61</text>
<text x="26.0" y="639.6" font-size="15" fill="#131722" textLength="58.2" lengthAdjust="spacingAndGlyphs">03:28:12</text>
</g>
<path d="M95 607.3H142.1Q144.1 607.3 144.1 609.3V625.8Q144.1 627.8 142.1 627.8H95Z" fill="#00ff00"/>
<text x="100.4" y="622.8" font-size="15" fill="#131722" textLength="37.6" lengthAdjust="spacingAndGlyphs">UAMY</text>
<line x1="14" y1="840.5" x2="95" y2="840.5" stroke="#e6e6e6" stroke-width="1"/>
<clipPath id="ca2"><rect x="14" y="841" width="82" height="132"/></clipPath><g clip-path="url(#ca2)">
<path d="M42.7 829.9H95V850.7H42.7Q40.7 850.7 40.7 848.7V831.9Q40.7 829.9 42.7 829.9Z" fill="#ff0000"/>
<text x="47.2" y="844.6" font-size="15" fill="#fff" textLength="37.0" lengthAdjust="spacingAndGlyphs">14,00</text>
<text x="47.2" y="892.0" font-size="15" fill="#131722" textLength="37.0" lengthAdjust="spacingAndGlyphs">12,00</text>
<path d="M42.7 952.0H95V972.8H42.7Q40.7 972.8 40.7 970.8V954.0Q40.7 952.0 42.7 952.0Z" fill="#000000"/>
<text x="47.2" y="966.7" font-size="15" fill="#fff" textLength="37.0" lengthAdjust="spacingAndGlyphs">10,50</text>
<path d="M42.7 851.1H95V871.9H42.7Q40.7 871.9 40.7 869.9V853.1Q40.7 851.1 42.7 851.1Z" fill="#00ff00"/>
<text x="47.2" y="865.8" font-size="15" fill="#131722" textLength="37.0" lengthAdjust="spacingAndGlyphs">14,00</text>
<path d="M42.7 884.0H95V904.8H42.7Q40.7 904.8 40.7 902.8V886.0Q40.7 884.0 42.7 884.0Z" fill="#ffff00"/>
<text x="47.2" y="898.7" font-size="15" fill="#131722" textLength="37.0" lengthAdjust="spacingAndGlyphs">11,50</text>
<path d="M42.7 905.9H95V926.7H42.7Q40.7 926.7 40.7 924.7V907.9Q40.7 905.9 42.7 905.9Z" fill="#ff0000"/>
<text x="47.2" y="920.6" font-size="15" fill="#fff" textLength="37.0" lengthAdjust="spacingAndGlyphs">11,50</text>
<path d="M42.7 927.0H95V947.8H42.7Q40.7 947.8 40.7 945.8V929.0Q40.7 927.0 42.7 927.0Z" fill="#00ff00"/>
<text x="47.2" y="941.7" font-size="15" fill="#131722" textLength="37.0" lengthAdjust="spacingAndGlyphs">11,50</text>
<path d="M42.7 947.8H95V968.6H42.7Q40.7 968.6 40.7 966.6V949.8Q40.7 947.8 42.7 947.8Z" fill="#00ff00"/>
<text x="47.2" y="962.5" font-size="15" fill="#131722" textLength="37.0" lengthAdjust="spacingAndGlyphs">10,50</text>
</g>
<clipPath id="ca3"><rect x="14" y="974" width="82" height="39"/></clipPath><g clip-path="url(#ca3)">
<text x="39.3" y="976.8" font-size="15" fill="#131722" textLength="44.9" lengthAdjust="spacingAndGlyphs">1,0000</text>
<path d="M42.7 996.0H95V1016.8H42.7Q40.7 1016.8 40.7 1014.8V998.0Q40.7 996.0 42.7 996.0Z" fill="#2f62ff"/>
<text x="47.2" y="1010.7" font-size="15" fill="#fff" textLength="37.0" lengthAdjust="spacingAndGlyphs">−1,50</text>
<path d="M27.0 975.2H95V996.0H27.0Q25.0 996.0 25.0 994.0V977.2Q25.0 975.2 27.0 975.2Z" fill="#2f62ff"/>
<text x="31.5" y="989.9" font-size="15" fill="#fff" textLength="52.7" lengthAdjust="spacingAndGlyphs">−0,5000</text>
</g>
<clipPath id="ca4"><rect x="14" y="1014" width="82" height="99.7"/></clipPath><g clip-path="url(#ca4)">
<text x="55.1" y="1033.8" font-size="15" fill="#131722" textLength="29.1" lengthAdjust="spacingAndGlyphs">2,00</text>
<text x="39.3" y="1073.8" font-size="15" fill="#131722" textLength="44.9" lengthAdjust="spacingAndGlyphs">1,0000</text>
<text x="39.3" y="1113.6" font-size="15" fill="#131722" textLength="44.9" lengthAdjust="spacingAndGlyphs">0,0000</text>
<path d="M34.8 1077.1H95V1097.9H34.8Q32.8 1097.9 32.8 1095.9V1079.1Q32.8 1077.1 34.8 1077.1Z" fill="#2f62ff"/>
<text x="39.3" y="1091.8" font-size="15" fill="#fff" textLength="44.9" lengthAdjust="spacingAndGlyphs">0,5658</text>
</g>
<rect x="14" y="1114.5" width="2036" height="33" fill="#fff"/>
<text x="221.0" y="1136.9" font-size="15" fill="#131722" textLength="23" lengthAdjust="spacingAndGlyphs">Apr</text>
<text x="410.4" y="1136.9" font-size="15" fill="#131722" textLength="22.3" lengthAdjust="spacingAndGlyphs">Mai</text>
<text x="597.8" y="1136.9" font-size="15" fill="#131722" textLength="23.5" lengthAdjust="spacingAndGlyphs">Jun</text>
<text x="780.5" y="1136.9" font-size="15" fill="#131722" textLength="18" lengthAdjust="spacingAndGlyphs">Jul</text>
<text x="973.8" y="1136.9" font-size="15" fill="#131722" textLength="25.5" lengthAdjust="spacingAndGlyphs">Aug</text>
<text x="1163.2" y="1136.9" font-size="15" fill="#131722" textLength="24.5" lengthAdjust="spacingAndGlyphs">Sep</text>
<text x="1351.5" y="1136.9" font-size="15" fill="#131722" textLength="24" lengthAdjust="spacingAndGlyphs">Okt</text>
<text x="1557.0" y="1136.9" font-size="15" fill="#131722" textLength="27" lengthAdjust="spacingAndGlyphs">Nov</text>
<text x="1727.5" y="1136.9" font-size="15" fill="#131722" textLength="26" lengthAdjust="spacingAndGlyphs">Dez</text>
<text x="1921.6" y="1136.8" font-size="15" fill="#131722" textLength="33.8" lengthAdjust="spacingAndGlyphs" font-weight="bold">2026</text>
<text x="13" y="25.2" font-size="15" fill="#131722" textLength="472" lengthAdjust="spacingAndGlyphs">diamanthorst erstellt mit TradingView.com, Dez 22, 2025 18:31 UTC+1</text>
<rect x="18.5" y="39" width="71.5" height="32" rx="5" fill="#fff" stroke="#ececec" stroke-width="1.2"/>
<text x="29" y="60" font-size="14" fill="#131722" textLength="26.5" lengthAdjust="spacingAndGlyphs">USD</text>
<text x="105.5" y="58.9" font-size="14.5" fill="#131722" textLength="354.7" lengthAdjust="spacingAndGlyphs">United States Antimony Corporation · 1T · NYSE Arca</text>
<text x="470.4" y="58.9" font-size="14.5" fill="#131722" textLength="8.9" lengthAdjust="spacingAndGlyphs">O</text>
<text x="479.6" y="58.9" font-size="14.5" fill="#089981" textLength="29.2" lengthAdjust="spacingAndGlyphs">5,14</text>
<text x="518.4" y="58.9" font-size="14.5" fill="#131722" textLength="9.4" lengthAdjust="spacingAndGlyphs">H</text>
<text x="528.1" y="58.9" font-size="14.5" fill="#089981" textLength="28.5" lengthAdjust="spacingAndGlyphs">5,79</text>
<text x="566.9" y="58.9" font-size="14.5" fill="#131722" textLength="7.5" lengthAdjust="spacingAndGlyphs">L</text>
<text x="574.7" y="58.9" font-size="14.5" fill="#089981" textLength="27.7" lengthAdjust="spacingAndGlyphs">5,02</text>
<text x="612.4" y="58.9" font-size="14.5" fill="#131722" textLength="8.9" lengthAdjust="spacingAndGlyphs">C</text>
<text x="621.6" y="58.9" font-size="14.5" fill="#089981" textLength="26.7" lengthAdjust="spacingAndGlyphs">5,61</text>
<text x="659.5" y="58.9" font-size="14.5" fill="#089981" textLength="105.1" lengthAdjust="spacingAndGlyphs">+0,79 (+16,39%)</text>
<text x="105.5" y="79.6" font-size="14.5" fill="#131722" textLength="761.8" lengthAdjust="spacingAndGlyphs">Croc 3.0 Chart - Professional (BB-Kombi Long, LolliPop Long, Blue Dot Long, Red Devil Long, Sweety Long, on, on)</text>
<text x="878.8" y="79.6" font-size="14.5" fill="#0000ff" textLength="28.3" lengthAdjust="spacingAndGlyphs">5,39</text>
<text x="916.6" y="79.6" font-size="14.5" fill="#ff0000" textLength="28.3" lengthAdjust="spacingAndGlyphs">6,07</text>
<text x="955" y="79.6" font-size="14.5" fill="#c3c3c3" textLength="27.1" lengthAdjust="spacingAndGlyphs">5,61</text>
<text x="992.8" y="79.6" font-size="14.5" fill="#00ff00" textLength="28.1" lengthAdjust="spacingAndGlyphs">5,73</text>
<text x="1032.5" y="79.6" font-size="14.5" fill="#ff00ff" textLength="34.5" lengthAdjust="spacingAndGlyphs">12,03</text>
<text x="1077.4" y="79.6" font-size="14.5" fill="#0000ff" textLength="27.2" lengthAdjust="spacingAndGlyphs">5,91</text>
<text x="1115.4" y="79.6" font-size="14.5" fill="#ff0000" textLength="28.1" lengthAdjust="spacingAndGlyphs">5,97</text>
<text x="1153.6" y="79.6" font-size="14.5" fill="#00ff00" textLength="28.1" lengthAdjust="spacingAndGlyphs">5,22</text>
<text x="1191.8" y="79.6" font-size="13.5" fill="#131722" textLength="8.2" lengthAdjust="spacingAndGlyphs">∅</text>
<text x="1210.8" y="79.6" font-size="13.5" fill="#131722" textLength="8.2" lengthAdjust="spacingAndGlyphs">∅</text>
<text x="1229.8" y="79.6" font-size="13.5" fill="#131722" textLength="8.2" lengthAdjust="spacingAndGlyphs">∅</text>
<text x="1248.9" y="79.6" font-size="13.5" fill="#131722" textLength="8.2" lengthAdjust="spacingAndGlyphs">∅</text>
<text x="1267.9" y="79.6" font-size="13.5" fill="#131722" textLength="8.2" lengthAdjust="spacingAndGlyphs">∅</text>
<text x="1286.9" y="79.6" font-size="13.5" fill="#131722" textLength="8.2" lengthAdjust="spacingAndGlyphs">∅</text>
<text x="1305.9" y="79.6" font-size="13.5" fill="#131722" textLength="8.2" lengthAdjust="spacingAndGlyphs">∅</text>
<text x="1324.9" y="79.6" font-size="13.5" fill="#131722" textLength="8.2" lengthAdjust="spacingAndGlyphs">∅</text>
<text x="1344.0" y="79.6" font-size="13.5" fill="#131722" textLength="8.2" lengthAdjust="spacingAndGlyphs">∅</text>
<text x="1363.0" y="79.6" font-size="13.5" fill="#131722" textLength="8.2" lengthAdjust="spacingAndGlyphs">∅</text>
<text x="1382.0" y="79.6" font-size="13.5" fill="#131722" textLength="8.2" lengthAdjust="spacingAndGlyphs">∅</text>
<text x="1401.0" y="79.6" font-size="13.5" fill="#131722" textLength="8.2" lengthAdjust="spacingAndGlyphs">∅</text>
<text x="1420.0" y="79.6" font-size="13.5" fill="#131722" textLength="8.2" lengthAdjust="spacingAndGlyphs">∅</text>
<text x="1439.1" y="79.6" font-size="13.5" fill="#131722" textLength="8.2" lengthAdjust="spacingAndGlyphs">∅</text>
<text x="1458.1" y="79.6" font-size="13.5" fill="#131722" textLength="8.2" lengthAdjust="spacingAndGlyphs">∅</text>
<text x="1477.1" y="79.6" font-size="13.5" fill="#131722" textLength="8.2" lengthAdjust="spacingAndGlyphs">∅</text>
<text x="1496.1" y="79.6" font-size="13.5" fill="#131722" textLength="8.2" lengthAdjust="spacingAndGlyphs">∅</text>
<text x="1515.1" y="79.6" font-size="13.5" fill="#131722" textLength="8.2" lengthAdjust="spacingAndGlyphs">∅</text>
<text x="1534.2" y="79.6" font-size="13.5" fill="#131722" textLength="8.2" lengthAdjust="spacingAndGlyphs">∅</text>
<text x="1553.2" y="79.6" font-size="13.5" fill="#131722" textLength="8.2" lengthAdjust="spacingAndGlyphs">∅</text>
<text x="1572.2" y="79.6" font-size="13.5" fill="#131722" textLength="8.2" lengthAdjust="spacingAndGlyphs">∅</text>
<text x="1591.2" y="79.6" font-size="13.5" fill="#131722" textLength="8.2" lengthAdjust="spacingAndGlyphs">∅</text>
<text x="1610.2" y="79.6" font-size="13.5" fill="#131722" textLength="8.2" lengthAdjust="spacingAndGlyphs">∅</text>
<text x="1629.3" y="79.6" font-size="13.5" fill="#131722" textLength="8.2" lengthAdjust="spacingAndGlyphs">∅</text>
<text x="1648.3" y="79.6" font-size="13.5" fill="#131722" textLength="8.2" lengthAdjust="spacingAndGlyphs">∅</text>
<text x="1667.3" y="79.6" font-size="13.5" fill="#131722" textLength="8.2" lengthAdjust="spacingAndGlyphs">∅</text>
<text x="1686.3" y="79.6" font-size="13.5" fill="#131722" textLength="8.2" lengthAdjust="spacingAndGlyphs">∅</text>
<text x="1705.3" y="79.6" font-size="13.5" fill="#131722" textLength="8.2" lengthAdjust="spacingAndGlyphs">∅</text>
<text x="1724.4" y="79.6" font-size="13.5" fill="#131722" textLength="8.2" lengthAdjust="spacingAndGlyphs">∅</text>
<text x="1743.4" y="79.6" font-size="13.5" fill="#131722" textLength="8.2" lengthAdjust="spacingAndGlyphs">∅</text>
<text x="1762.4" y="79.6" font-size="13.5" fill="#131722" textLength="8.2" lengthAdjust="spacingAndGlyphs">∅</text>
<g fill="#131722"><path d="M15.1 1176.2H30.5V1195H22.8V1184H15.1Z"/><circle cx="36.5" cy="1180.1" r="3.6"/><path d="M43.2 1176.2H52.9L45.6 1195H37Z"/></g>
<text x="61.7" y="1195" font-size="27" fill="#131722" textLength="151.4" lengthAdjust="spacingAndGlyphs" font-weight="bold">TradingView</text>
</svg>
</body></html>
